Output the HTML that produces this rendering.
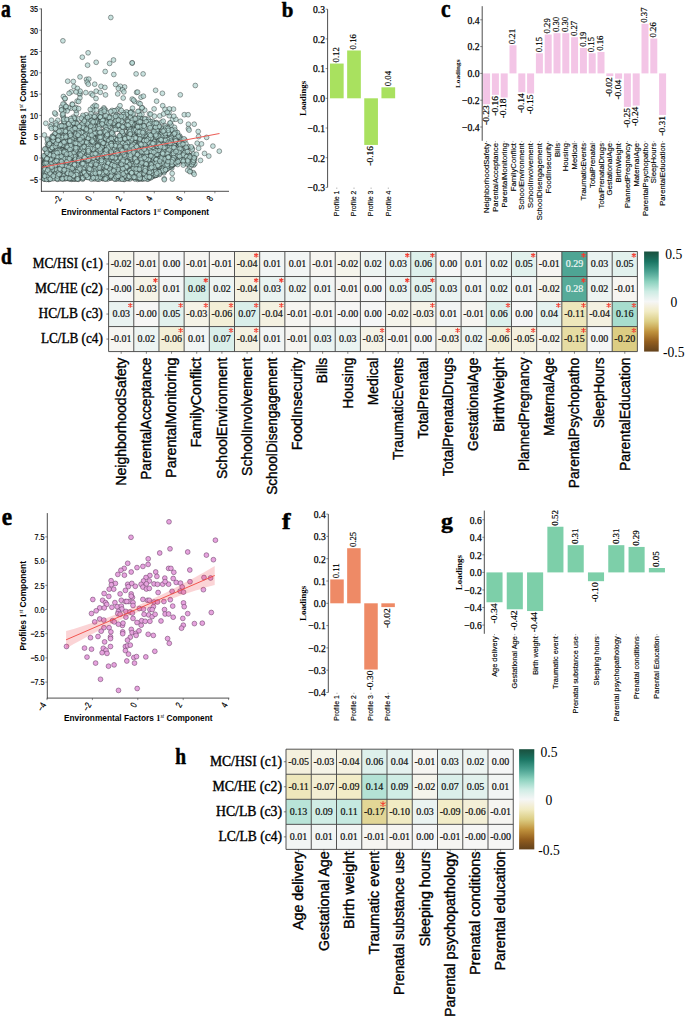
<!DOCTYPE html>
<html><head><meta charset="utf-8"><style>
html,body{margin:0;padding:0;background:#fff;}
svg{display:block;}
.S{font-family:"Liberation Serif",serif;}
.Sb{font-family:"Liberation Serif",serif;font-weight:bold;}
.A{font-family:"Liberation Sans",sans-serif;}
.Ab{font-family:"Liberation Sans",sans-serif;font-weight:bold;}
</style></head><body>
<svg width="685" height="1017" viewBox="0 0 685 1017">
<rect width="685" height="1017" fill="#fff"/>
<text class="Sb" transform="translate(0.90,16.65) scale(0.1960,0.2479)" font-size="100" stroke="#000" stroke-width="2.2">a</text>
<g fill="#b3d6d1" fill-opacity="0.72" stroke="#1e2725" stroke-opacity="0.72" stroke-width="0.6"><circle cx="152.0" cy="128.2" r="2.4"/><circle cx="155.8" cy="164.0" r="2.4"/><circle cx="99.1" cy="177.4" r="2.4"/><circle cx="60.8" cy="149.7" r="2.4"/><circle cx="89.1" cy="153.5" r="2.4"/><circle cx="87.8" cy="137.4" r="2.4"/><circle cx="77.4" cy="175.7" r="2.4"/><circle cx="92.6" cy="175.6" r="2.4"/><circle cx="109.9" cy="122.8" r="2.4"/><circle cx="148.5" cy="133.8" r="2.4"/><circle cx="79.3" cy="165.2" r="2.4"/><circle cx="188.3" cy="146.6" r="2.4"/><circle cx="156.9" cy="174.7" r="2.4"/><circle cx="145.3" cy="136.1" r="2.4"/><circle cx="113.3" cy="166.7" r="2.4"/><circle cx="128.2" cy="162.2" r="2.4"/><circle cx="143.8" cy="159.6" r="2.4"/><circle cx="90.2" cy="176.8" r="2.4"/><circle cx="153.4" cy="158.1" r="2.4"/><circle cx="88.0" cy="174.2" r="2.4"/><circle cx="163.5" cy="159.9" r="2.4"/><circle cx="110.8" cy="149.2" r="2.4"/><circle cx="120.4" cy="136.7" r="2.4"/><circle cx="172.7" cy="149.5" r="2.4"/><circle cx="73.2" cy="163.3" r="2.4"/><circle cx="168.4" cy="130.5" r="2.4"/><circle cx="180.5" cy="151.4" r="2.4"/><circle cx="117.3" cy="139.2" r="2.4"/><circle cx="63.8" cy="159.6" r="2.4"/><circle cx="85.6" cy="138.9" r="2.4"/><circle cx="152.0" cy="171.8" r="2.4"/><circle cx="169.7" cy="159.7" r="2.4"/><circle cx="161.3" cy="144.1" r="2.4"/><circle cx="90.8" cy="136.9" r="2.4"/><circle cx="171.1" cy="163.7" r="2.4"/><circle cx="136.4" cy="122.0" r="2.4"/><circle cx="93.9" cy="135.5" r="2.4"/><circle cx="132.4" cy="141.0" r="2.4"/><circle cx="47.4" cy="143.6" r="2.4"/><circle cx="71.7" cy="159.5" r="2.4"/><circle cx="47.4" cy="167.0" r="2.4"/><circle cx="73.1" cy="159.5" r="2.4"/><circle cx="90.5" cy="166.8" r="2.4"/><circle cx="98.3" cy="126.4" r="2.4"/><circle cx="60.7" cy="154.0" r="2.4"/><circle cx="105.3" cy="155.7" r="2.4"/><circle cx="75.5" cy="159.1" r="2.4"/><circle cx="74.6" cy="154.6" r="2.4"/><circle cx="118.8" cy="145.8" r="2.4"/><circle cx="111.0" cy="178.0" r="2.4"/><circle cx="107.0" cy="129.3" r="2.4"/><circle cx="193.4" cy="162.4" r="2.4"/><circle cx="109.0" cy="159.1" r="2.4"/><circle cx="95.9" cy="154.3" r="2.4"/><circle cx="63.7" cy="156.8" r="2.4"/><circle cx="66.7" cy="148.3" r="2.4"/><circle cx="125.9" cy="118.7" r="2.4"/><circle cx="121.4" cy="168.4" r="2.4"/><circle cx="92.5" cy="134.6" r="2.4"/><circle cx="66.4" cy="170.5" r="2.4"/><circle cx="66.4" cy="161.7" r="2.4"/><circle cx="117.3" cy="161.2" r="2.4"/><circle cx="76.4" cy="113.5" r="2.4"/><circle cx="98.1" cy="168.4" r="2.4"/><circle cx="116.0" cy="171.5" r="2.4"/><circle cx="162.2" cy="146.5" r="2.4"/><circle cx="133.2" cy="167.0" r="2.4"/><circle cx="92.7" cy="161.1" r="2.4"/><circle cx="87.3" cy="165.2" r="2.4"/><circle cx="66.6" cy="170.2" r="2.4"/><circle cx="90.7" cy="167.4" r="2.4"/><circle cx="89.4" cy="175.3" r="2.4"/><circle cx="88.8" cy="167.5" r="2.4"/><circle cx="129.2" cy="164.2" r="2.4"/><circle cx="177.5" cy="159.7" r="2.4"/><circle cx="77.7" cy="149.6" r="2.4"/><circle cx="172.6" cy="163.8" r="2.4"/><circle cx="86.2" cy="160.2" r="2.4"/><circle cx="80.3" cy="176.5" r="2.4"/><circle cx="52.7" cy="162.0" r="2.4"/><circle cx="66.1" cy="166.7" r="2.4"/><circle cx="105.7" cy="172.9" r="2.4"/><circle cx="59.7" cy="171.7" r="2.4"/><circle cx="173.7" cy="160.9" r="2.4"/><circle cx="134.1" cy="171.0" r="2.4"/><circle cx="113.0" cy="175.9" r="2.4"/><circle cx="84.0" cy="155.4" r="2.4"/><circle cx="130.0" cy="118.7" r="2.4"/><circle cx="71.1" cy="168.1" r="2.4"/><circle cx="83.6" cy="152.4" r="2.4"/><circle cx="58.6" cy="142.5" r="2.4"/><circle cx="94.2" cy="163.6" r="2.4"/><circle cx="46.8" cy="172.1" r="2.4"/><circle cx="132.5" cy="108.2" r="2.4"/><circle cx="169.1" cy="136.6" r="2.4"/><circle cx="111.2" cy="145.2" r="2.4"/><circle cx="76.1" cy="110.3" r="2.4"/><circle cx="162.7" cy="105.7" r="2.4"/><circle cx="85.3" cy="131.2" r="2.4"/><circle cx="98.5" cy="174.6" r="2.4"/><circle cx="140.6" cy="176.8" r="2.4"/><circle cx="156.7" cy="158.4" r="2.4"/><circle cx="143.7" cy="177.2" r="2.4"/><circle cx="47.1" cy="170.0" r="2.4"/><circle cx="120.6" cy="147.3" r="2.4"/><circle cx="133.8" cy="155.8" r="2.4"/><circle cx="146.6" cy="152.1" r="2.4"/><circle cx="101.8" cy="142.6" r="2.4"/><circle cx="160.0" cy="141.4" r="2.4"/><circle cx="155.9" cy="146.7" r="2.4"/><circle cx="116.5" cy="139.6" r="2.4"/><circle cx="123.3" cy="138.7" r="2.4"/><circle cx="140.5" cy="173.8" r="2.4"/><circle cx="116.0" cy="153.4" r="2.4"/><circle cx="138.4" cy="132.9" r="2.4"/><circle cx="55.6" cy="114.1" r="2.4"/><circle cx="58.3" cy="169.7" r="2.4"/><circle cx="130.9" cy="158.9" r="2.4"/><circle cx="189.5" cy="162.2" r="2.4"/><circle cx="138.0" cy="153.5" r="2.4"/><circle cx="129.8" cy="142.5" r="2.4"/><circle cx="139.4" cy="178.4" r="2.4"/><circle cx="120.3" cy="157.2" r="2.4"/><circle cx="93.9" cy="120.2" r="2.4"/><circle cx="54.8" cy="157.7" r="2.4"/><circle cx="170.3" cy="142.0" r="2.4"/><circle cx="174.4" cy="144.2" r="2.4"/><circle cx="128.8" cy="178.3" r="2.4"/><circle cx="61.6" cy="167.7" r="2.4"/><circle cx="152.8" cy="136.5" r="2.4"/><circle cx="162.6" cy="156.7" r="2.4"/><circle cx="130.6" cy="129.3" r="2.4"/><circle cx="77.2" cy="150.5" r="2.4"/><circle cx="113.6" cy="137.8" r="2.4"/><circle cx="134.8" cy="146.8" r="2.4"/><circle cx="138.2" cy="156.9" r="2.4"/><circle cx="151.5" cy="159.0" r="2.4"/><circle cx="146.8" cy="172.6" r="2.4"/><circle cx="138.8" cy="142.0" r="2.4"/><circle cx="135.8" cy="146.4" r="2.4"/><circle cx="77.6" cy="125.1" r="2.4"/><circle cx="96.0" cy="167.4" r="2.4"/><circle cx="133.9" cy="158.8" r="2.4"/><circle cx="117.1" cy="123.2" r="2.4"/><circle cx="135.7" cy="175.5" r="2.4"/><circle cx="152.9" cy="176.4" r="2.4"/><circle cx="44.8" cy="174.0" r="2.4"/><circle cx="142.0" cy="124.6" r="2.4"/><circle cx="97.6" cy="120.2" r="2.4"/><circle cx="93.5" cy="157.9" r="2.4"/><circle cx="66.9" cy="170.2" r="2.4"/><circle cx="129.5" cy="157.1" r="2.4"/><circle cx="45.0" cy="177.8" r="2.4"/><circle cx="62.0" cy="141.7" r="2.4"/><circle cx="174.1" cy="153.0" r="2.4"/><circle cx="108.9" cy="141.0" r="2.4"/><circle cx="106.6" cy="118.6" r="2.4"/><circle cx="74.3" cy="170.7" r="2.4"/><circle cx="139.0" cy="165.6" r="2.4"/><circle cx="115.6" cy="172.7" r="2.4"/><circle cx="82.8" cy="156.3" r="2.4"/><circle cx="153.6" cy="152.5" r="2.4"/><circle cx="62.1" cy="156.0" r="2.4"/><circle cx="110.4" cy="173.9" r="2.4"/><circle cx="60.0" cy="174.3" r="2.4"/><circle cx="153.9" cy="150.7" r="2.4"/><circle cx="69.8" cy="169.5" r="2.4"/><circle cx="156.9" cy="161.0" r="2.4"/><circle cx="72.9" cy="160.2" r="2.4"/><circle cx="97.9" cy="123.1" r="2.4"/><circle cx="75.1" cy="171.6" r="2.4"/><circle cx="52.9" cy="158.2" r="2.4"/><circle cx="116.3" cy="154.6" r="2.4"/><circle cx="63.2" cy="177.7" r="2.4"/><circle cx="107.9" cy="142.3" r="2.4"/><circle cx="122.4" cy="156.1" r="2.4"/><circle cx="146.2" cy="178.1" r="2.4"/><circle cx="53.2" cy="160.4" r="2.4"/><circle cx="130.4" cy="123.8" r="2.4"/><circle cx="54.8" cy="168.1" r="2.4"/><circle cx="47.3" cy="138.8" r="2.4"/><circle cx="154.1" cy="169.8" r="2.4"/><circle cx="74.1" cy="171.8" r="2.4"/><circle cx="106.8" cy="131.1" r="2.4"/><circle cx="79.0" cy="168.4" r="2.4"/><circle cx="146.4" cy="138.6" r="2.4"/><circle cx="74.7" cy="160.2" r="2.4"/><circle cx="57.3" cy="163.9" r="2.4"/><circle cx="51.6" cy="175.1" r="2.4"/><circle cx="116.7" cy="114.6" r="2.4"/><circle cx="137.5" cy="137.2" r="2.4"/><circle cx="54.4" cy="157.1" r="2.4"/><circle cx="66.3" cy="170.7" r="2.4"/><circle cx="136.3" cy="149.4" r="2.4"/><circle cx="140.9" cy="168.3" r="2.4"/><circle cx="106.8" cy="165.4" r="2.4"/><circle cx="139.1" cy="162.8" r="2.4"/><circle cx="133.7" cy="154.3" r="2.4"/><circle cx="60.1" cy="177.0" r="2.4"/><circle cx="151.9" cy="138.7" r="2.4"/><circle cx="133.0" cy="167.4" r="2.4"/><circle cx="129.4" cy="175.4" r="2.4"/><circle cx="142.2" cy="128.3" r="2.4"/><circle cx="165.5" cy="129.5" r="2.4"/><circle cx="53.2" cy="151.0" r="2.4"/><circle cx="176.7" cy="154.9" r="2.4"/><circle cx="160.0" cy="161.4" r="2.4"/><circle cx="106.4" cy="131.4" r="2.4"/><circle cx="105.9" cy="177.3" r="2.4"/><circle cx="44.0" cy="163.5" r="2.4"/><circle cx="65.6" cy="140.6" r="2.4"/><circle cx="127.3" cy="153.7" r="2.4"/><circle cx="131.9" cy="112.0" r="2.4"/><circle cx="77.2" cy="133.2" r="2.4"/><circle cx="116.1" cy="172.3" r="2.4"/><circle cx="163.3" cy="144.3" r="2.4"/><circle cx="126.5" cy="147.3" r="2.4"/><circle cx="50.7" cy="168.7" r="2.4"/><circle cx="124.2" cy="127.1" r="2.4"/><circle cx="120.8" cy="138.5" r="2.4"/><circle cx="128.9" cy="152.5" r="2.4"/><circle cx="187.1" cy="154.4" r="2.4"/><circle cx="71.6" cy="145.5" r="2.4"/><circle cx="186.9" cy="148.2" r="2.4"/><circle cx="74.2" cy="162.4" r="2.4"/><circle cx="105.5" cy="137.5" r="2.4"/><circle cx="111.3" cy="164.2" r="2.4"/><circle cx="105.5" cy="172.0" r="2.4"/><circle cx="116.8" cy="151.5" r="2.4"/><circle cx="91.6" cy="120.4" r="2.4"/><circle cx="69.8" cy="157.9" r="2.4"/><circle cx="132.9" cy="158.4" r="2.4"/><circle cx="51.4" cy="125.0" r="2.4"/><circle cx="74.1" cy="129.1" r="2.4"/><circle cx="106.5" cy="153.4" r="2.4"/><circle cx="96.4" cy="173.5" r="2.4"/><circle cx="125.0" cy="171.6" r="2.4"/><circle cx="92.9" cy="107.0" r="2.4"/><circle cx="155.4" cy="174.0" r="2.4"/><circle cx="75.6" cy="156.7" r="2.4"/><circle cx="78.4" cy="179.3" r="2.4"/><circle cx="96.1" cy="167.3" r="2.4"/><circle cx="127.8" cy="154.0" r="2.4"/><circle cx="123.6" cy="141.2" r="2.4"/><circle cx="182.5" cy="157.4" r="2.4"/><circle cx="159.4" cy="167.2" r="2.4"/><circle cx="135.7" cy="154.6" r="2.4"/><circle cx="108.5" cy="122.1" r="2.4"/><circle cx="119.1" cy="140.8" r="2.4"/><circle cx="106.8" cy="119.6" r="2.4"/><circle cx="108.1" cy="133.3" r="2.4"/><circle cx="64.9" cy="131.9" r="2.4"/><circle cx="44.4" cy="163.3" r="2.4"/><circle cx="191.5" cy="162.3" r="2.4"/><circle cx="64.0" cy="151.6" r="2.4"/><circle cx="152.6" cy="121.4" r="2.4"/><circle cx="98.1" cy="149.1" r="2.4"/><circle cx="75.6" cy="165.4" r="2.4"/><circle cx="110.3" cy="157.1" r="2.4"/><circle cx="92.8" cy="128.4" r="2.4"/><circle cx="58.3" cy="164.2" r="2.4"/><circle cx="169.0" cy="165.9" r="2.4"/><circle cx="119.0" cy="174.8" r="2.4"/><circle cx="82.7" cy="156.1" r="2.4"/><circle cx="160.2" cy="168.5" r="2.4"/><circle cx="96.1" cy="134.8" r="2.4"/><circle cx="96.2" cy="164.8" r="2.4"/><circle cx="118.7" cy="144.0" r="2.4"/><circle cx="163.9" cy="169.8" r="2.4"/><circle cx="184.2" cy="159.2" r="2.4"/><circle cx="70.4" cy="137.8" r="2.4"/><circle cx="66.1" cy="125.3" r="2.4"/><circle cx="50.5" cy="170.1" r="2.4"/><circle cx="135.5" cy="129.4" r="2.4"/><circle cx="140.2" cy="140.3" r="2.4"/><circle cx="88.1" cy="117.6" r="2.4"/><circle cx="162.7" cy="138.3" r="2.4"/><circle cx="70.4" cy="159.9" r="2.4"/><circle cx="101.3" cy="159.1" r="2.4"/><circle cx="63.5" cy="177.9" r="2.4"/><circle cx="105.4" cy="167.9" r="2.4"/><circle cx="130.8" cy="156.7" r="2.4"/><circle cx="98.5" cy="174.8" r="2.4"/><circle cx="129.5" cy="175.5" r="2.4"/><circle cx="153.5" cy="175.9" r="2.4"/><circle cx="123.9" cy="176.9" r="2.4"/><circle cx="87.8" cy="158.1" r="2.4"/><circle cx="157.2" cy="158.7" r="2.4"/><circle cx="51.8" cy="171.8" r="2.4"/><circle cx="110.9" cy="169.1" r="2.4"/><circle cx="134.3" cy="159.6" r="2.4"/><circle cx="57.6" cy="153.0" r="2.4"/><circle cx="50.6" cy="170.7" r="2.4"/><circle cx="109.2" cy="172.6" r="2.4"/><circle cx="177.4" cy="144.6" r="2.4"/><circle cx="68.5" cy="136.5" r="2.4"/><circle cx="113.5" cy="174.3" r="2.4"/><circle cx="60.9" cy="153.2" r="2.4"/><circle cx="97.1" cy="165.8" r="2.4"/><circle cx="45.0" cy="149.2" r="2.4"/><circle cx="68.4" cy="156.5" r="2.4"/><circle cx="137.3" cy="121.2" r="2.4"/><circle cx="67.1" cy="141.0" r="2.4"/><circle cx="98.1" cy="123.7" r="2.4"/><circle cx="58.1" cy="136.3" r="2.4"/><circle cx="112.6" cy="135.2" r="2.4"/><circle cx="96.6" cy="152.7" r="2.4"/><circle cx="60.0" cy="161.8" r="2.4"/><circle cx="85.2" cy="160.6" r="2.4"/><circle cx="44.9" cy="166.3" r="2.4"/><circle cx="166.4" cy="143.3" r="2.4"/><circle cx="126.3" cy="127.3" r="2.4"/><circle cx="115.0" cy="126.7" r="2.4"/><circle cx="80.9" cy="145.2" r="2.4"/><circle cx="130.6" cy="149.7" r="2.4"/><circle cx="133.8" cy="149.0" r="2.4"/><circle cx="87.7" cy="162.2" r="2.4"/><circle cx="103.4" cy="163.1" r="2.4"/><circle cx="69.6" cy="128.7" r="2.4"/><circle cx="143.5" cy="138.6" r="2.4"/><circle cx="53.9" cy="172.7" r="2.4"/><circle cx="62.3" cy="156.1" r="2.4"/><circle cx="156.1" cy="174.8" r="2.4"/><circle cx="131.4" cy="177.6" r="2.4"/><circle cx="163.5" cy="169.7" r="2.4"/><circle cx="109.0" cy="160.3" r="2.4"/><circle cx="113.2" cy="175.4" r="2.4"/><circle cx="60.5" cy="177.6" r="2.4"/><circle cx="58.1" cy="176.3" r="2.4"/><circle cx="75.9" cy="177.6" r="2.4"/><circle cx="134.6" cy="148.5" r="2.4"/><circle cx="174.3" cy="159.9" r="2.4"/><circle cx="168.3" cy="156.4" r="2.4"/><circle cx="94.7" cy="169.5" r="2.4"/><circle cx="81.9" cy="158.4" r="2.4"/><circle cx="47.2" cy="162.1" r="2.4"/><circle cx="137.9" cy="173.7" r="2.4"/><circle cx="88.1" cy="143.9" r="2.4"/><circle cx="105.1" cy="147.9" r="2.4"/><circle cx="140.8" cy="168.1" r="2.4"/><circle cx="109.3" cy="117.1" r="2.4"/><circle cx="74.6" cy="149.9" r="2.4"/><circle cx="155.2" cy="174.9" r="2.4"/><circle cx="177.6" cy="160.4" r="2.4"/><circle cx="110.4" cy="150.3" r="2.4"/><circle cx="77.1" cy="101.1" r="2.4"/><circle cx="155.0" cy="169.6" r="2.4"/><circle cx="159.7" cy="171.2" r="2.4"/><circle cx="79.0" cy="125.7" r="2.4"/><circle cx="84.2" cy="172.4" r="2.4"/><circle cx="135.2" cy="174.9" r="2.4"/><circle cx="109.3" cy="155.7" r="2.4"/><circle cx="107.0" cy="161.2" r="2.4"/><circle cx="57.6" cy="157.3" r="2.4"/><circle cx="77.6" cy="162.6" r="2.4"/><circle cx="137.1" cy="165.3" r="2.4"/><circle cx="81.4" cy="173.2" r="2.4"/><circle cx="86.3" cy="173.5" r="2.4"/><circle cx="46.2" cy="164.0" r="2.4"/><circle cx="126.3" cy="170.5" r="2.4"/><circle cx="105.3" cy="152.3" r="2.4"/><circle cx="58.9" cy="154.9" r="2.4"/><circle cx="64.0" cy="159.8" r="2.4"/><circle cx="105.5" cy="166.6" r="2.4"/><circle cx="175.9" cy="149.3" r="2.4"/><circle cx="172.1" cy="135.0" r="2.4"/><circle cx="134.7" cy="152.4" r="2.4"/><circle cx="169.7" cy="161.8" r="2.4"/><circle cx="151.3" cy="159.1" r="2.4"/><circle cx="179.8" cy="145.9" r="2.4"/><circle cx="92.5" cy="121.4" r="2.4"/><circle cx="109.2" cy="169.7" r="2.4"/><circle cx="126.9" cy="169.4" r="2.4"/><circle cx="86.4" cy="165.4" r="2.4"/><circle cx="116.9" cy="141.1" r="2.4"/><circle cx="122.1" cy="177.0" r="2.4"/><circle cx="106.1" cy="157.1" r="2.4"/><circle cx="83.4" cy="169.5" r="2.4"/><circle cx="113.7" cy="138.1" r="2.4"/><circle cx="91.7" cy="176.2" r="2.4"/><circle cx="76.9" cy="174.9" r="2.4"/><circle cx="112.9" cy="165.7" r="2.4"/><circle cx="87.7" cy="156.2" r="2.4"/><circle cx="152.6" cy="150.3" r="2.4"/><circle cx="52.2" cy="149.0" r="2.4"/><circle cx="118.4" cy="165.7" r="2.4"/><circle cx="54.8" cy="158.3" r="2.4"/><circle cx="110.1" cy="178.2" r="2.4"/><circle cx="117.2" cy="160.7" r="2.4"/><circle cx="55.3" cy="133.4" r="2.4"/><circle cx="156.5" cy="122.5" r="2.4"/><circle cx="154.6" cy="160.4" r="2.4"/><circle cx="158.7" cy="161.2" r="2.4"/><circle cx="58.6" cy="135.0" r="2.4"/><circle cx="176.5" cy="141.3" r="2.4"/><circle cx="141.4" cy="118.5" r="2.4"/><circle cx="47.3" cy="147.7" r="2.4"/><circle cx="126.8" cy="168.1" r="2.4"/><circle cx="107.7" cy="179.1" r="2.4"/><circle cx="178.3" cy="158.5" r="2.4"/><circle cx="79.1" cy="174.7" r="2.4"/><circle cx="141.6" cy="132.6" r="2.4"/><circle cx="164.0" cy="168.8" r="2.4"/><circle cx="57.8" cy="154.1" r="2.4"/><circle cx="49.1" cy="160.3" r="2.4"/><circle cx="130.1" cy="152.3" r="2.4"/><circle cx="134.2" cy="123.9" r="2.4"/><circle cx="105.4" cy="178.5" r="2.4"/><circle cx="110.1" cy="177.4" r="2.4"/><circle cx="89.9" cy="174.2" r="2.4"/><circle cx="58.4" cy="136.2" r="2.4"/><circle cx="161.8" cy="163.4" r="2.4"/><circle cx="102.1" cy="121.7" r="2.4"/><circle cx="119.2" cy="142.8" r="2.4"/><circle cx="146.6" cy="175.9" r="2.4"/><circle cx="77.1" cy="166.2" r="2.4"/><circle cx="127.7" cy="168.3" r="2.4"/><circle cx="141.9" cy="178.6" r="2.4"/><circle cx="101.3" cy="176.1" r="2.4"/><circle cx="170.1" cy="144.5" r="2.4"/><circle cx="97.3" cy="139.1" r="2.4"/><circle cx="150.8" cy="135.0" r="2.4"/><circle cx="82.6" cy="179.2" r="2.4"/><circle cx="113.5" cy="163.8" r="2.4"/><circle cx="88.0" cy="145.3" r="2.4"/><circle cx="56.2" cy="152.9" r="2.4"/><circle cx="60.9" cy="174.7" r="2.4"/><circle cx="121.0" cy="150.6" r="2.4"/><circle cx="159.2" cy="146.2" r="2.4"/><circle cx="139.8" cy="174.8" r="2.4"/><circle cx="136.6" cy="92.4" r="2.4"/><circle cx="48.3" cy="171.8" r="2.4"/><circle cx="75.1" cy="126.8" r="2.4"/><circle cx="154.9" cy="167.4" r="2.4"/><circle cx="140.9" cy="159.3" r="2.4"/><circle cx="142.0" cy="178.9" r="2.4"/><circle cx="121.1" cy="144.1" r="2.4"/><circle cx="81.2" cy="147.3" r="2.4"/><circle cx="166.6" cy="169.4" r="2.4"/><circle cx="67.5" cy="138.3" r="2.4"/><circle cx="162.7" cy="170.4" r="2.4"/><circle cx="170.9" cy="162.8" r="2.4"/><circle cx="85.0" cy="149.6" r="2.4"/><circle cx="121.2" cy="178.7" r="2.4"/><circle cx="156.7" cy="144.1" r="2.4"/><circle cx="176.4" cy="132.3" r="2.4"/><circle cx="82.2" cy="173.0" r="2.4"/><circle cx="160.0" cy="127.8" r="2.4"/><circle cx="95.3" cy="169.8" r="2.4"/><circle cx="94.2" cy="158.4" r="2.4"/><circle cx="95.4" cy="174.1" r="2.4"/><circle cx="148.7" cy="174.2" r="2.4"/><circle cx="187.6" cy="155.3" r="2.4"/><circle cx="147.3" cy="177.5" r="2.4"/><circle cx="149.1" cy="177.5" r="2.4"/><circle cx="128.7" cy="130.9" r="2.4"/><circle cx="80.7" cy="130.1" r="2.4"/><circle cx="165.5" cy="140.4" r="2.4"/><circle cx="119.8" cy="173.1" r="2.4"/><circle cx="179.2" cy="153.8" r="2.4"/><circle cx="154.1" cy="171.1" r="2.4"/><circle cx="156.0" cy="164.2" r="2.4"/><circle cx="144.7" cy="172.0" r="2.4"/><circle cx="168.6" cy="166.3" r="2.4"/><circle cx="142.2" cy="150.3" r="2.4"/><circle cx="104.2" cy="144.1" r="2.4"/><circle cx="45.9" cy="161.5" r="2.4"/><circle cx="108.3" cy="177.2" r="2.4"/><circle cx="121.9" cy="165.9" r="2.4"/><circle cx="103.9" cy="169.4" r="2.4"/><circle cx="112.0" cy="154.1" r="2.4"/><circle cx="90.1" cy="163.7" r="2.4"/><circle cx="153.1" cy="168.7" r="2.4"/><circle cx="152.4" cy="166.6" r="2.4"/><circle cx="114.2" cy="117.1" r="2.4"/><circle cx="74.9" cy="128.0" r="2.4"/><circle cx="108.7" cy="160.3" r="2.4"/><circle cx="86.6" cy="171.9" r="2.4"/><circle cx="83.8" cy="152.6" r="2.4"/><circle cx="90.0" cy="149.0" r="2.4"/><circle cx="53.2" cy="145.2" r="2.4"/><circle cx="88.7" cy="146.3" r="2.4"/><circle cx="155.5" cy="129.3" r="2.4"/><circle cx="190.5" cy="161.2" r="2.4"/><circle cx="139.3" cy="176.8" r="2.4"/><circle cx="131.6" cy="161.0" r="2.4"/><circle cx="148.3" cy="165.4" r="2.4"/><circle cx="143.9" cy="176.9" r="2.4"/><circle cx="153.1" cy="167.2" r="2.4"/><circle cx="166.6" cy="132.7" r="2.4"/><circle cx="120.0" cy="171.1" r="2.4"/><circle cx="76.7" cy="173.3" r="2.4"/><circle cx="59.0" cy="163.8" r="2.4"/><circle cx="142.1" cy="154.2" r="2.4"/><circle cx="169.2" cy="115.7" r="2.4"/><circle cx="93.1" cy="162.6" r="2.4"/><circle cx="80.8" cy="149.3" r="2.4"/><circle cx="93.2" cy="144.4" r="2.4"/><circle cx="86.8" cy="165.3" r="2.4"/><circle cx="138.6" cy="162.5" r="2.4"/><circle cx="57.5" cy="148.6" r="2.4"/><circle cx="49.5" cy="146.6" r="2.4"/><circle cx="116.8" cy="140.9" r="2.4"/><circle cx="129.8" cy="179.0" r="2.4"/><circle cx="72.4" cy="132.7" r="2.4"/><circle cx="150.4" cy="149.0" r="2.4"/><circle cx="188.6" cy="161.4" r="2.4"/><circle cx="127.5" cy="156.5" r="2.4"/><circle cx="50.2" cy="162.0" r="2.4"/><circle cx="130.2" cy="128.3" r="2.4"/><circle cx="125.2" cy="174.5" r="2.4"/><circle cx="163.6" cy="167.7" r="2.4"/><circle cx="118.1" cy="144.0" r="2.4"/><circle cx="84.0" cy="136.5" r="2.4"/><circle cx="145.8" cy="118.7" r="2.4"/><circle cx="172.5" cy="140.9" r="2.4"/><circle cx="75.1" cy="121.6" r="2.4"/><circle cx="70.3" cy="178.8" r="2.4"/><circle cx="65.1" cy="178.9" r="2.4"/><circle cx="61.7" cy="136.2" r="2.4"/><circle cx="62.3" cy="148.8" r="2.4"/><circle cx="66.4" cy="156.4" r="2.4"/><circle cx="112.5" cy="165.8" r="2.4"/><circle cx="50.4" cy="140.4" r="2.4"/><circle cx="130.5" cy="154.2" r="2.4"/><circle cx="72.9" cy="145.9" r="2.4"/><circle cx="76.5" cy="171.6" r="2.4"/><circle cx="158.5" cy="136.1" r="2.4"/><circle cx="120.3" cy="172.0" r="2.4"/><circle cx="71.4" cy="157.9" r="2.4"/><circle cx="94.5" cy="167.9" r="2.4"/><circle cx="102.6" cy="172.8" r="2.4"/><circle cx="134.9" cy="155.6" r="2.4"/><circle cx="119.1" cy="177.7" r="2.4"/><circle cx="120.9" cy="162.0" r="2.4"/><circle cx="148.5" cy="119.4" r="2.4"/><circle cx="93.9" cy="124.3" r="2.4"/><circle cx="66.6" cy="177.7" r="2.4"/><circle cx="107.3" cy="171.4" r="2.4"/><circle cx="125.4" cy="152.1" r="2.4"/><circle cx="139.1" cy="167.8" r="2.4"/><circle cx="90.5" cy="160.5" r="2.4"/><circle cx="106.0" cy="159.2" r="2.4"/><circle cx="57.2" cy="142.7" r="2.4"/><circle cx="159.5" cy="169.2" r="2.4"/><circle cx="137.6" cy="119.2" r="2.4"/><circle cx="98.4" cy="140.7" r="2.4"/><circle cx="75.1" cy="179.0" r="2.4"/><circle cx="52.7" cy="167.6" r="2.4"/><circle cx="97.6" cy="124.6" r="2.4"/><circle cx="141.2" cy="176.8" r="2.4"/><circle cx="154.3" cy="141.3" r="2.4"/><circle cx="44.5" cy="161.0" r="2.4"/><circle cx="85.8" cy="146.9" r="2.4"/><circle cx="65.4" cy="134.2" r="2.4"/><circle cx="87.9" cy="130.4" r="2.4"/><circle cx="108.3" cy="125.7" r="2.4"/><circle cx="141.8" cy="151.3" r="2.4"/><circle cx="85.0" cy="159.3" r="2.4"/><circle cx="48.3" cy="175.6" r="2.4"/><circle cx="139.8" cy="166.9" r="2.4"/><circle cx="62.9" cy="130.9" r="2.4"/><circle cx="84.6" cy="154.7" r="2.4"/><circle cx="170.1" cy="123.4" r="2.4"/><circle cx="178.8" cy="146.6" r="2.4"/><circle cx="164.3" cy="161.1" r="2.4"/><circle cx="94.2" cy="138.8" r="2.4"/><circle cx="176.0" cy="152.1" r="2.4"/><circle cx="172.6" cy="137.0" r="2.4"/><circle cx="44.5" cy="176.7" r="2.4"/><circle cx="185.0" cy="154.0" r="2.4"/><circle cx="148.5" cy="173.8" r="2.4"/><circle cx="100.5" cy="162.6" r="2.4"/><circle cx="50.6" cy="160.8" r="2.4"/><circle cx="120.6" cy="134.8" r="2.4"/><circle cx="58.1" cy="166.5" r="2.4"/><circle cx="116.5" cy="151.6" r="2.4"/><circle cx="175.4" cy="150.8" r="2.4"/><circle cx="98.3" cy="137.6" r="2.4"/><circle cx="137.3" cy="140.3" r="2.4"/><circle cx="113.4" cy="169.9" r="2.4"/><circle cx="131.3" cy="140.4" r="2.4"/><circle cx="68.9" cy="174.4" r="2.4"/><circle cx="70.9" cy="167.7" r="2.4"/><circle cx="87.1" cy="172.5" r="2.4"/><circle cx="68.4" cy="158.6" r="2.4"/><circle cx="132.5" cy="162.3" r="2.4"/><circle cx="181.4" cy="143.6" r="2.4"/><circle cx="62.9" cy="178.9" r="2.4"/><circle cx="127.6" cy="122.4" r="2.4"/><circle cx="126.1" cy="145.5" r="2.4"/><circle cx="89.6" cy="158.9" r="2.4"/><circle cx="146.6" cy="166.6" r="2.4"/><circle cx="89.0" cy="161.6" r="2.4"/><circle cx="164.3" cy="159.8" r="2.4"/><circle cx="46.9" cy="168.9" r="2.4"/><circle cx="105.5" cy="178.1" r="2.4"/><circle cx="135.0" cy="130.1" r="2.4"/><circle cx="52.0" cy="164.5" r="2.4"/><circle cx="44.7" cy="178.7" r="2.4"/><circle cx="75.2" cy="172.5" r="2.4"/><circle cx="119.2" cy="118.9" r="2.4"/><circle cx="121.5" cy="139.6" r="2.4"/><circle cx="87.3" cy="176.0" r="2.4"/><circle cx="143.7" cy="169.3" r="2.4"/><circle cx="155.0" cy="123.2" r="2.4"/><circle cx="75.7" cy="172.3" r="2.4"/><circle cx="86.5" cy="172.5" r="2.4"/><circle cx="59.9" cy="163.3" r="2.4"/><circle cx="121.4" cy="170.8" r="2.4"/><circle cx="149.6" cy="176.0" r="2.4"/><circle cx="116.8" cy="173.4" r="2.4"/><circle cx="194.7" cy="157.4" r="2.4"/><circle cx="128.0" cy="153.0" r="2.4"/><circle cx="115.2" cy="159.7" r="2.4"/><circle cx="137.0" cy="171.6" r="2.4"/><circle cx="119.4" cy="160.0" r="2.4"/><circle cx="141.0" cy="158.6" r="2.4"/><circle cx="72.5" cy="168.7" r="2.4"/><circle cx="58.4" cy="164.5" r="2.4"/><circle cx="67.9" cy="148.4" r="2.4"/><circle cx="112.1" cy="156.0" r="2.4"/><circle cx="115.0" cy="150.9" r="2.4"/><circle cx="89.2" cy="160.0" r="2.4"/><circle cx="98.2" cy="177.9" r="2.4"/><circle cx="63.4" cy="96.5" r="2.4"/><circle cx="80.6" cy="177.2" r="2.4"/><circle cx="163.9" cy="170.8" r="2.4"/><circle cx="158.0" cy="157.1" r="2.4"/><circle cx="155.9" cy="157.3" r="2.4"/><circle cx="76.0" cy="171.6" r="2.4"/><circle cx="88.7" cy="159.8" r="2.4"/><circle cx="52.5" cy="174.9" r="2.4"/><circle cx="133.3" cy="164.8" r="2.4"/><circle cx="93.2" cy="110.5" r="2.4"/><circle cx="154.5" cy="131.7" r="2.4"/><circle cx="51.0" cy="172.9" r="2.4"/><circle cx="90.8" cy="175.0" r="2.4"/><circle cx="45.7" cy="163.2" r="2.4"/><circle cx="152.6" cy="140.7" r="2.4"/><circle cx="138.2" cy="163.9" r="2.4"/><circle cx="141.0" cy="118.1" r="2.4"/><circle cx="120.5" cy="141.0" r="2.4"/><circle cx="162.8" cy="128.1" r="2.4"/><circle cx="132.3" cy="124.7" r="2.4"/><circle cx="82.9" cy="123.0" r="2.4"/><circle cx="71.3" cy="167.2" r="2.4"/><circle cx="142.9" cy="146.8" r="2.4"/><circle cx="127.2" cy="137.3" r="2.4"/><circle cx="83.5" cy="128.1" r="2.4"/><circle cx="64.0" cy="176.5" r="2.4"/><circle cx="103.9" cy="107.9" r="2.4"/><circle cx="124.1" cy="179.4" r="2.4"/><circle cx="86.5" cy="152.8" r="2.4"/><circle cx="92.3" cy="175.2" r="2.4"/><circle cx="85.8" cy="151.4" r="2.4"/><circle cx="117.1" cy="146.9" r="2.4"/><circle cx="92.3" cy="136.3" r="2.4"/><circle cx="130.3" cy="139.1" r="2.4"/><circle cx="122.2" cy="143.3" r="2.4"/><circle cx="85.7" cy="124.6" r="2.4"/><circle cx="98.4" cy="147.3" r="2.4"/><circle cx="144.2" cy="161.9" r="2.4"/><circle cx="166.8" cy="164.8" r="2.4"/><circle cx="112.0" cy="159.2" r="2.4"/><circle cx="180.3" cy="142.9" r="2.4"/><circle cx="139.9" cy="128.4" r="2.4"/><circle cx="140.2" cy="147.0" r="2.4"/><circle cx="119.6" cy="155.2" r="2.4"/><circle cx="46.1" cy="178.0" r="2.4"/><circle cx="126.3" cy="131.8" r="2.4"/><circle cx="138.6" cy="145.0" r="2.4"/><circle cx="46.8" cy="158.0" r="2.4"/><circle cx="72.6" cy="138.1" r="2.4"/><circle cx="154.5" cy="133.0" r="2.4"/><circle cx="128.1" cy="147.0" r="2.4"/><circle cx="67.3" cy="175.0" r="2.4"/><circle cx="104.8" cy="118.4" r="2.4"/><circle cx="146.2" cy="145.7" r="2.4"/><circle cx="57.7" cy="160.3" r="2.4"/><circle cx="96.4" cy="120.9" r="2.4"/><circle cx="66.9" cy="165.0" r="2.4"/><circle cx="182.8" cy="148.2" r="2.4"/><circle cx="151.0" cy="174.6" r="2.4"/><circle cx="168.0" cy="139.8" r="2.4"/><circle cx="45.0" cy="161.6" r="2.4"/><circle cx="171.4" cy="148.5" r="2.4"/><circle cx="93.4" cy="148.6" r="2.4"/><circle cx="70.8" cy="108.2" r="2.4"/><circle cx="146.3" cy="167.6" r="2.4"/><circle cx="165.6" cy="126.6" r="2.4"/><circle cx="79.7" cy="139.6" r="2.4"/><circle cx="95.7" cy="149.0" r="2.4"/><circle cx="104.5" cy="155.5" r="2.4"/><circle cx="134.3" cy="128.4" r="2.4"/><circle cx="156.9" cy="156.8" r="2.4"/><circle cx="59.8" cy="165.7" r="2.4"/><circle cx="134.5" cy="175.6" r="2.4"/><circle cx="85.4" cy="169.7" r="2.4"/><circle cx="191.5" cy="155.3" r="2.4"/><circle cx="122.0" cy="164.3" r="2.4"/><circle cx="163.2" cy="164.6" r="2.4"/><circle cx="89.6" cy="124.7" r="2.4"/><circle cx="159.2" cy="142.9" r="2.4"/><circle cx="157.5" cy="166.0" r="2.4"/><circle cx="54.6" cy="167.5" r="2.4"/><circle cx="136.5" cy="147.7" r="2.4"/><circle cx="107.1" cy="169.9" r="2.4"/><circle cx="65.0" cy="142.1" r="2.4"/><circle cx="128.8" cy="168.6" r="2.4"/><circle cx="67.3" cy="176.2" r="2.4"/><circle cx="65.7" cy="160.7" r="2.4"/><circle cx="75.4" cy="120.1" r="2.4"/><circle cx="80.0" cy="166.8" r="2.4"/><circle cx="90.9" cy="167.3" r="2.4"/><circle cx="133.1" cy="153.8" r="2.4"/><circle cx="93.5" cy="148.7" r="2.4"/><circle cx="128.3" cy="164.9" r="2.4"/><circle cx="82.7" cy="161.3" r="2.4"/><circle cx="106.5" cy="157.0" r="2.4"/><circle cx="152.8" cy="135.3" r="2.4"/><circle cx="68.9" cy="131.0" r="2.4"/><circle cx="48.9" cy="150.4" r="2.4"/><circle cx="118.2" cy="178.5" r="2.4"/><circle cx="139.1" cy="173.5" r="2.4"/><circle cx="193.6" cy="165.2" r="2.4"/><circle cx="58.6" cy="170.5" r="2.4"/><circle cx="150.1" cy="160.6" r="2.4"/><circle cx="85.9" cy="161.7" r="2.4"/><circle cx="128.0" cy="178.5" r="2.4"/><circle cx="164.1" cy="161.7" r="2.4"/><circle cx="121.3" cy="151.5" r="2.4"/><circle cx="98.3" cy="167.1" r="2.4"/><circle cx="61.4" cy="161.0" r="2.4"/><circle cx="110.5" cy="169.9" r="2.4"/><circle cx="117.8" cy="175.2" r="2.4"/><circle cx="61.5" cy="148.8" r="2.4"/><circle cx="51.5" cy="165.1" r="2.4"/><circle cx="65.2" cy="173.9" r="2.4"/><circle cx="69.4" cy="177.2" r="2.4"/><circle cx="127.5" cy="170.2" r="2.4"/><circle cx="60.5" cy="161.8" r="2.4"/><circle cx="150.7" cy="157.8" r="2.4"/><circle cx="175.9" cy="162.5" r="2.4"/><circle cx="55.3" cy="139.2" r="2.4"/><circle cx="107.0" cy="127.8" r="2.4"/><circle cx="55.5" cy="155.1" r="2.4"/><circle cx="135.9" cy="152.1" r="2.4"/><circle cx="151.0" cy="141.1" r="2.4"/><circle cx="148.8" cy="177.8" r="2.4"/><circle cx="159.1" cy="127.3" r="2.4"/><circle cx="163.0" cy="161.4" r="2.4"/><circle cx="178.8" cy="142.4" r="2.4"/><circle cx="50.8" cy="175.8" r="2.4"/><circle cx="99.1" cy="170.3" r="2.4"/><circle cx="147.4" cy="154.4" r="2.4"/><circle cx="98.8" cy="156.5" r="2.4"/><circle cx="52.0" cy="159.7" r="2.4"/><circle cx="77.3" cy="164.0" r="2.4"/><circle cx="112.9" cy="142.9" r="2.4"/><circle cx="154.0" cy="168.0" r="2.4"/><circle cx="133.5" cy="135.1" r="2.4"/><circle cx="52.2" cy="164.7" r="2.4"/><circle cx="187.8" cy="157.6" r="2.4"/><circle cx="84.9" cy="130.6" r="2.4"/><circle cx="114.4" cy="149.8" r="2.4"/><circle cx="49.2" cy="142.0" r="2.4"/><circle cx="107.0" cy="166.2" r="2.4"/><circle cx="119.8" cy="179.0" r="2.4"/><circle cx="91.1" cy="151.5" r="2.4"/><circle cx="51.0" cy="177.8" r="2.4"/><circle cx="158.4" cy="149.7" r="2.4"/><circle cx="163.9" cy="172.8" r="2.4"/><circle cx="117.9" cy="157.6" r="2.4"/><circle cx="67.0" cy="175.8" r="2.4"/><circle cx="69.0" cy="158.9" r="2.4"/><circle cx="58.5" cy="162.9" r="2.4"/><circle cx="154.3" cy="162.7" r="2.4"/><circle cx="81.6" cy="159.6" r="2.4"/><circle cx="173.5" cy="109.1" r="2.4"/><circle cx="113.3" cy="177.2" r="2.4"/><circle cx="145.8" cy="130.3" r="2.4"/><circle cx="54.0" cy="156.6" r="2.4"/><circle cx="49.1" cy="173.7" r="2.4"/><circle cx="129.1" cy="158.8" r="2.4"/><circle cx="51.8" cy="168.4" r="2.4"/><circle cx="73.2" cy="157.8" r="2.4"/><circle cx="83.9" cy="168.6" r="2.4"/><circle cx="131.2" cy="161.7" r="2.4"/><circle cx="60.2" cy="137.4" r="2.4"/><circle cx="74.6" cy="125.0" r="2.4"/><circle cx="103.7" cy="151.3" r="2.4"/><circle cx="152.2" cy="169.0" r="2.4"/><circle cx="143.7" cy="138.4" r="2.4"/><circle cx="57.5" cy="166.1" r="2.4"/><circle cx="169.2" cy="154.4" r="2.4"/><circle cx="126.7" cy="178.3" r="2.4"/><circle cx="118.8" cy="169.8" r="2.4"/><circle cx="127.4" cy="157.9" r="2.4"/><circle cx="140.2" cy="156.5" r="2.4"/><circle cx="137.2" cy="157.0" r="2.4"/><circle cx="172.9" cy="154.9" r="2.4"/><circle cx="147.6" cy="149.4" r="2.4"/><circle cx="115.1" cy="170.3" r="2.4"/><circle cx="117.5" cy="129.1" r="2.4"/><circle cx="82.6" cy="127.0" r="2.4"/><circle cx="142.9" cy="156.4" r="2.4"/><circle cx="85.2" cy="158.8" r="2.4"/><circle cx="139.5" cy="169.6" r="2.4"/><circle cx="57.1" cy="177.8" r="2.4"/><circle cx="47.7" cy="174.8" r="2.4"/><circle cx="82.9" cy="136.9" r="2.4"/><circle cx="82.1" cy="134.2" r="2.4"/><circle cx="62.8" cy="148.5" r="2.4"/><circle cx="153.9" cy="132.4" r="2.4"/><circle cx="80.9" cy="149.9" r="2.4"/><circle cx="177.5" cy="149.6" r="2.4"/><circle cx="132.9" cy="164.2" r="2.4"/><circle cx="75.3" cy="173.0" r="2.4"/><circle cx="123.8" cy="159.2" r="2.4"/><circle cx="95.1" cy="169.5" r="2.4"/><circle cx="120.0" cy="177.1" r="2.4"/><circle cx="56.8" cy="144.7" r="2.4"/><circle cx="55.9" cy="177.7" r="2.4"/><circle cx="128.2" cy="152.3" r="2.4"/><circle cx="48.0" cy="169.8" r="2.4"/><circle cx="89.4" cy="158.8" r="2.4"/><circle cx="128.7" cy="150.2" r="2.4"/><circle cx="107.2" cy="153.0" r="2.4"/><circle cx="118.8" cy="144.0" r="2.4"/><circle cx="138.9" cy="111.3" r="2.4"/><circle cx="120.4" cy="153.9" r="2.4"/><circle cx="54.9" cy="166.8" r="2.4"/><circle cx="56.2" cy="144.0" r="2.4"/><circle cx="91.9" cy="155.4" r="2.4"/><circle cx="52.9" cy="135.8" r="2.4"/><circle cx="95.0" cy="105.3" r="2.4"/><circle cx="171.2" cy="155.8" r="2.4"/><circle cx="151.6" cy="154.7" r="2.4"/><circle cx="101.6" cy="172.7" r="2.4"/><circle cx="147.1" cy="155.5" r="2.4"/><circle cx="102.6" cy="121.9" r="2.4"/><circle cx="56.0" cy="159.8" r="2.4"/><circle cx="87.8" cy="174.8" r="2.4"/><circle cx="115.1" cy="117.2" r="2.4"/><circle cx="125.4" cy="160.1" r="2.4"/><circle cx="156.9" cy="142.1" r="2.4"/><circle cx="125.0" cy="176.6" r="2.4"/><circle cx="128.6" cy="170.4" r="2.4"/><circle cx="155.0" cy="139.5" r="2.4"/><circle cx="59.3" cy="138.6" r="2.4"/><circle cx="51.6" cy="161.7" r="2.4"/><circle cx="57.1" cy="141.2" r="2.4"/><circle cx="163.7" cy="138.9" r="2.4"/><circle cx="180.2" cy="137.3" r="2.4"/><circle cx="132.9" cy="155.6" r="2.4"/><circle cx="61.7" cy="151.6" r="2.4"/><circle cx="106.0" cy="124.9" r="2.4"/><circle cx="164.4" cy="146.2" r="2.4"/><circle cx="95.4" cy="149.5" r="2.4"/><circle cx="106.4" cy="162.2" r="2.4"/><circle cx="87.9" cy="133.1" r="2.4"/><circle cx="74.3" cy="141.5" r="2.4"/><circle cx="106.1" cy="173.3" r="2.4"/><circle cx="121.8" cy="144.9" r="2.4"/><circle cx="147.9" cy="135.9" r="2.4"/><circle cx="143.6" cy="134.0" r="2.4"/><circle cx="102.8" cy="175.7" r="2.4"/><circle cx="62.5" cy="125.3" r="2.4"/><circle cx="57.9" cy="154.8" r="2.4"/><circle cx="172.5" cy="154.8" r="2.4"/><circle cx="125.0" cy="156.8" r="2.4"/><circle cx="47.5" cy="151.3" r="2.4"/><circle cx="162.9" cy="153.7" r="2.4"/><circle cx="107.8" cy="169.5" r="2.4"/><circle cx="84.8" cy="160.8" r="2.4"/><circle cx="141.4" cy="151.3" r="2.4"/><circle cx="135.1" cy="166.5" r="2.4"/><circle cx="127.5" cy="112.6" r="2.4"/><circle cx="134.9" cy="146.4" r="2.4"/><circle cx="134.8" cy="168.8" r="2.4"/><circle cx="116.1" cy="171.8" r="2.4"/><circle cx="45.3" cy="167.6" r="2.4"/><circle cx="75.1" cy="178.6" r="2.4"/><circle cx="84.3" cy="131.9" r="2.4"/><circle cx="45.3" cy="173.7" r="2.4"/><circle cx="112.9" cy="152.6" r="2.4"/><circle cx="54.1" cy="136.8" r="2.4"/><circle cx="117.2" cy="167.5" r="2.4"/><circle cx="116.5" cy="141.4" r="2.4"/><circle cx="90.8" cy="177.4" r="2.4"/><circle cx="79.4" cy="138.5" r="2.4"/><circle cx="114.5" cy="172.2" r="2.4"/><circle cx="121.2" cy="161.3" r="2.4"/><circle cx="59.6" cy="164.0" r="2.4"/><circle cx="158.5" cy="143.1" r="2.4"/><circle cx="132.1" cy="150.5" r="2.4"/><circle cx="89.2" cy="145.8" r="2.4"/><circle cx="116.8" cy="140.8" r="2.4"/><circle cx="94.8" cy="126.0" r="2.4"/><circle cx="93.9" cy="165.5" r="2.4"/><circle cx="139.7" cy="150.7" r="2.4"/><circle cx="71.7" cy="160.5" r="2.4"/><circle cx="185.7" cy="162.6" r="2.4"/><circle cx="45.6" cy="155.6" r="2.4"/><circle cx="90.4" cy="174.5" r="2.4"/><circle cx="97.4" cy="133.7" r="2.4"/><circle cx="44.8" cy="166.1" r="2.4"/><circle cx="66.4" cy="163.9" r="2.4"/><circle cx="116.7" cy="173.6" r="2.4"/><circle cx="122.4" cy="162.8" r="2.4"/><circle cx="56.0" cy="135.0" r="2.4"/><circle cx="57.8" cy="120.3" r="2.4"/><circle cx="71.7" cy="135.4" r="2.4"/><circle cx="191.3" cy="156.0" r="2.4"/><circle cx="109.9" cy="138.4" r="2.4"/><circle cx="163.4" cy="145.1" r="2.4"/><circle cx="117.9" cy="166.3" r="2.4"/><circle cx="143.9" cy="162.0" r="2.4"/><circle cx="167.7" cy="167.9" r="2.4"/><circle cx="64.7" cy="126.1" r="2.4"/><circle cx="115.4" cy="165.0" r="2.4"/><circle cx="84.0" cy="151.3" r="2.4"/><circle cx="67.8" cy="152.3" r="2.4"/><circle cx="50.2" cy="175.9" r="2.4"/><circle cx="104.3" cy="157.8" r="2.4"/><circle cx="47.4" cy="172.3" r="2.4"/><circle cx="44.9" cy="169.2" r="2.4"/><circle cx="171.7" cy="130.3" r="2.4"/><circle cx="116.5" cy="173.4" r="2.4"/><circle cx="70.2" cy="172.1" r="2.4"/><circle cx="159.2" cy="149.2" r="2.4"/><circle cx="131.8" cy="143.9" r="2.4"/><circle cx="123.3" cy="160.3" r="2.4"/><circle cx="59.3" cy="170.9" r="2.4"/><circle cx="75.4" cy="153.2" r="2.4"/><circle cx="92.5" cy="161.4" r="2.4"/><circle cx="105.6" cy="110.2" r="2.4"/><circle cx="67.0" cy="166.9" r="2.4"/><circle cx="105.5" cy="147.3" r="2.4"/><circle cx="187.6" cy="153.7" r="2.4"/><circle cx="119.9" cy="137.4" r="2.4"/><circle cx="129.7" cy="149.6" r="2.4"/><circle cx="93.4" cy="143.2" r="2.4"/><circle cx="96.0" cy="173.4" r="2.4"/><circle cx="102.7" cy="156.9" r="2.4"/><circle cx="101.9" cy="119.8" r="2.4"/><circle cx="128.1" cy="171.9" r="2.4"/><circle cx="47.8" cy="168.6" r="2.4"/><circle cx="68.8" cy="171.7" r="2.4"/><circle cx="48.7" cy="155.1" r="2.4"/><circle cx="113.3" cy="115.1" r="2.4"/><circle cx="47.2" cy="166.4" r="2.4"/><circle cx="140.0" cy="128.4" r="2.4"/><circle cx="64.2" cy="176.8" r="2.4"/><circle cx="111.9" cy="175.1" r="2.4"/><circle cx="86.4" cy="125.8" r="2.4"/><circle cx="148.4" cy="158.6" r="2.4"/><circle cx="49.5" cy="142.5" r="2.4"/><circle cx="97.7" cy="129.9" r="2.4"/><circle cx="156.6" cy="173.5" r="2.4"/><circle cx="114.9" cy="154.7" r="2.4"/><circle cx="82.4" cy="175.3" r="2.4"/><circle cx="67.8" cy="141.2" r="2.4"/><circle cx="165.8" cy="161.9" r="2.4"/><circle cx="134.1" cy="152.0" r="2.4"/><circle cx="111.3" cy="154.0" r="2.4"/><circle cx="172.8" cy="153.8" r="2.4"/><circle cx="187.9" cy="159.9" r="2.4"/><circle cx="64.5" cy="151.5" r="2.4"/><circle cx="140.3" cy="177.7" r="2.4"/><circle cx="138.5" cy="175.5" r="2.4"/><circle cx="83.2" cy="136.0" r="2.4"/><circle cx="80.4" cy="160.9" r="2.4"/><circle cx="84.6" cy="141.6" r="2.4"/><circle cx="105.6" cy="150.1" r="2.4"/><circle cx="135.6" cy="136.5" r="2.4"/><circle cx="44.9" cy="168.9" r="2.4"/><circle cx="155.2" cy="175.4" r="2.4"/><circle cx="59.8" cy="150.8" r="2.4"/><circle cx="77.7" cy="133.9" r="2.4"/><circle cx="52.6" cy="137.2" r="2.4"/><circle cx="98.2" cy="163.7" r="2.4"/><circle cx="60.8" cy="132.6" r="2.4"/><circle cx="175.6" cy="142.9" r="2.4"/><circle cx="163.6" cy="169.6" r="2.4"/><circle cx="115.4" cy="163.2" r="2.4"/><circle cx="113.4" cy="163.8" r="2.4"/><circle cx="86.9" cy="164.9" r="2.4"/><circle cx="54.5" cy="170.8" r="2.4"/><circle cx="178.0" cy="142.5" r="2.4"/><circle cx="46.3" cy="175.4" r="2.4"/><circle cx="74.0" cy="157.9" r="2.4"/><circle cx="150.4" cy="177.6" r="2.4"/><circle cx="134.8" cy="162.9" r="2.4"/><circle cx="73.8" cy="159.5" r="2.4"/><circle cx="74.8" cy="166.2" r="2.4"/><circle cx="140.6" cy="170.2" r="2.4"/><circle cx="112.2" cy="140.7" r="2.4"/><circle cx="72.6" cy="154.2" r="2.4"/><circle cx="89.4" cy="149.7" r="2.4"/><circle cx="123.5" cy="135.6" r="2.4"/><circle cx="158.7" cy="151.2" r="2.4"/><circle cx="65.2" cy="170.0" r="2.4"/><circle cx="64.9" cy="137.6" r="2.4"/><circle cx="72.5" cy="168.7" r="2.4"/><circle cx="77.6" cy="151.0" r="2.4"/><circle cx="109.7" cy="175.7" r="2.4"/><circle cx="162.6" cy="135.3" r="2.4"/><circle cx="141.8" cy="170.9" r="2.4"/><circle cx="134.7" cy="178.5" r="2.4"/><circle cx="84.0" cy="158.3" r="2.4"/><circle cx="114.2" cy="175.9" r="2.4"/><circle cx="143.4" cy="159.8" r="2.4"/><circle cx="136.4" cy="149.5" r="2.4"/><circle cx="129.2" cy="171.9" r="2.4"/><circle cx="48.8" cy="166.3" r="2.4"/><circle cx="143.1" cy="166.6" r="2.4"/><circle cx="110.5" cy="157.7" r="2.4"/><circle cx="82.9" cy="134.0" r="2.4"/><circle cx="172.7" cy="161.5" r="2.4"/><circle cx="92.5" cy="165.0" r="2.4"/><circle cx="101.6" cy="169.2" r="2.4"/><circle cx="142.1" cy="163.5" r="2.4"/><circle cx="170.1" cy="155.1" r="2.4"/><circle cx="79.9" cy="135.0" r="2.4"/><circle cx="177.4" cy="145.1" r="2.4"/><circle cx="45.4" cy="160.6" r="2.4"/><circle cx="80.2" cy="94.1" r="2.4"/><circle cx="130.9" cy="155.2" r="2.4"/><circle cx="73.1" cy="149.4" r="2.4"/><circle cx="165.4" cy="150.8" r="2.4"/><circle cx="62.6" cy="175.0" r="2.4"/><circle cx="101.1" cy="131.4" r="2.4"/><circle cx="65.8" cy="153.4" r="2.4"/><circle cx="91.4" cy="172.1" r="2.4"/><circle cx="113.1" cy="167.4" r="2.4"/><circle cx="178.1" cy="161.9" r="2.4"/><circle cx="81.6" cy="170.1" r="2.4"/><circle cx="80.9" cy="166.7" r="2.4"/><circle cx="141.0" cy="166.6" r="2.4"/><circle cx="161.6" cy="122.2" r="2.4"/><circle cx="154.1" cy="168.0" r="2.4"/><circle cx="137.7" cy="179.4" r="2.4"/><circle cx="97.4" cy="165.7" r="2.4"/><circle cx="78.2" cy="176.4" r="2.4"/><circle cx="155.6" cy="143.7" r="2.4"/><circle cx="75.2" cy="165.0" r="2.4"/><circle cx="55.0" cy="172.0" r="2.4"/><circle cx="46.4" cy="166.7" r="2.4"/><circle cx="97.2" cy="150.4" r="2.4"/><circle cx="45.2" cy="160.7" r="2.4"/><circle cx="128.4" cy="115.1" r="2.4"/><circle cx="129.4" cy="175.4" r="2.4"/><circle cx="92.1" cy="128.3" r="2.4"/><circle cx="128.3" cy="157.5" r="2.4"/><circle cx="144.6" cy="119.1" r="2.4"/><circle cx="153.7" cy="166.4" r="2.4"/><circle cx="108.0" cy="172.2" r="2.4"/><circle cx="132.5" cy="128.7" r="2.4"/><circle cx="164.9" cy="161.1" r="2.4"/><circle cx="193.0" cy="162.1" r="2.4"/><circle cx="130.0" cy="152.3" r="2.4"/><circle cx="132.4" cy="115.4" r="2.4"/><circle cx="96.4" cy="172.4" r="2.4"/><circle cx="65.0" cy="156.2" r="2.4"/><circle cx="47.4" cy="174.5" r="2.4"/><circle cx="68.5" cy="107.7" r="2.4"/><circle cx="141.8" cy="165.1" r="2.4"/><circle cx="116.5" cy="179.0" r="2.4"/><circle cx="81.5" cy="145.4" r="2.4"/><circle cx="74.6" cy="151.3" r="2.4"/><circle cx="162.6" cy="141.3" r="2.4"/><circle cx="100.5" cy="161.1" r="2.4"/><circle cx="133.6" cy="177.5" r="2.4"/><circle cx="138.0" cy="176.3" r="2.4"/><circle cx="120.9" cy="163.1" r="2.4"/><circle cx="154.9" cy="150.2" r="2.4"/><circle cx="88.9" cy="161.1" r="2.4"/><circle cx="54.0" cy="154.9" r="2.4"/><circle cx="175.8" cy="135.7" r="2.4"/><circle cx="46.8" cy="164.9" r="2.4"/><circle cx="155.8" cy="166.5" r="2.4"/><circle cx="74.6" cy="146.9" r="2.4"/><circle cx="94.5" cy="160.6" r="2.4"/><circle cx="102.0" cy="166.6" r="2.4"/><circle cx="145.9" cy="145.4" r="2.4"/><circle cx="53.1" cy="158.0" r="2.4"/><circle cx="45.5" cy="174.5" r="2.4"/><circle cx="45.8" cy="166.3" r="2.4"/><circle cx="86.0" cy="175.5" r="2.4"/><circle cx="175.5" cy="146.9" r="2.4"/><circle cx="146.4" cy="167.8" r="2.4"/><circle cx="90.5" cy="138.6" r="2.4"/><circle cx="95.6" cy="167.4" r="2.4"/><circle cx="112.6" cy="124.4" r="2.4"/><circle cx="159.3" cy="158.8" r="2.4"/><circle cx="75.3" cy="161.9" r="2.4"/><circle cx="111.2" cy="139.6" r="2.4"/><circle cx="59.7" cy="126.5" r="2.4"/><circle cx="93.9" cy="157.0" r="2.4"/><circle cx="132.9" cy="164.7" r="2.4"/><circle cx="54.5" cy="167.4" r="2.4"/><circle cx="76.6" cy="139.8" r="2.4"/><circle cx="98.0" cy="164.1" r="2.4"/><circle cx="82.5" cy="123.9" r="2.4"/><circle cx="82.6" cy="137.2" r="2.4"/><circle cx="148.3" cy="126.8" r="2.4"/><circle cx="111.3" cy="162.4" r="2.4"/><circle cx="68.3" cy="152.2" r="2.4"/><circle cx="176.7" cy="157.9" r="2.4"/><circle cx="74.8" cy="142.8" r="2.4"/><circle cx="151.3" cy="158.0" r="2.4"/><circle cx="102.6" cy="119.4" r="2.4"/><circle cx="58.7" cy="178.2" r="2.4"/><circle cx="159.1" cy="161.7" r="2.4"/><circle cx="167.5" cy="150.4" r="2.4"/><circle cx="58.1" cy="154.8" r="2.4"/><circle cx="95.5" cy="163.2" r="2.4"/><circle cx="166.9" cy="162.7" r="2.4"/><circle cx="111.6" cy="173.6" r="2.4"/><circle cx="46.5" cy="175.4" r="2.4"/><circle cx="78.5" cy="166.8" r="2.4"/><circle cx="155.5" cy="175.4" r="2.4"/><circle cx="74.9" cy="175.0" r="2.4"/><circle cx="108.8" cy="153.3" r="2.4"/><circle cx="43.9" cy="178.8" r="2.4"/><circle cx="77.7" cy="163.6" r="2.4"/><circle cx="103.1" cy="157.0" r="2.4"/><circle cx="76.7" cy="164.7" r="2.4"/><circle cx="108.5" cy="174.4" r="2.4"/><circle cx="57.4" cy="168.1" r="2.4"/><circle cx="132.9" cy="131.8" r="2.4"/><circle cx="139.8" cy="147.7" r="2.4"/><circle cx="64.0" cy="145.4" r="2.4"/><circle cx="61.4" cy="160.9" r="2.4"/><circle cx="55.6" cy="148.6" r="2.4"/><circle cx="46.6" cy="172.8" r="2.4"/><circle cx="62.0" cy="172.6" r="2.4"/><circle cx="120.4" cy="163.4" r="2.4"/><circle cx="44.0" cy="168.9" r="2.4"/><circle cx="154.1" cy="155.4" r="2.4"/><circle cx="59.1" cy="159.9" r="2.4"/><circle cx="165.9" cy="152.9" r="2.4"/><circle cx="152.5" cy="126.4" r="2.4"/><circle cx="56.6" cy="170.3" r="2.4"/><circle cx="154.6" cy="167.4" r="2.4"/><circle cx="50.4" cy="164.0" r="2.4"/><circle cx="120.2" cy="149.2" r="2.4"/><circle cx="155.8" cy="174.2" r="2.4"/><circle cx="185.9" cy="143.7" r="2.4"/><circle cx="136.7" cy="151.9" r="2.4"/><circle cx="138.8" cy="174.7" r="2.4"/><circle cx="118.1" cy="108.8" r="2.4"/><circle cx="64.3" cy="160.2" r="2.4"/><circle cx="165.9" cy="164.2" r="2.4"/><circle cx="83.1" cy="145.0" r="2.4"/><circle cx="102.7" cy="143.1" r="2.4"/><circle cx="116.2" cy="110.4" r="2.4"/><circle cx="124.6" cy="167.3" r="2.4"/><circle cx="136.5" cy="166.3" r="2.4"/><circle cx="125.6" cy="162.6" r="2.4"/><circle cx="76.3" cy="132.9" r="2.4"/><circle cx="59.7" cy="147.1" r="2.4"/><circle cx="48.9" cy="164.6" r="2.4"/><circle cx="77.1" cy="173.2" r="2.4"/><circle cx="60.4" cy="161.1" r="2.4"/><circle cx="142.8" cy="159.2" r="2.4"/><circle cx="76.9" cy="177.2" r="2.4"/><circle cx="94.7" cy="148.9" r="2.4"/><circle cx="48.2" cy="179.1" r="2.4"/><circle cx="148.9" cy="142.6" r="2.4"/><circle cx="86.0" cy="154.2" r="2.4"/><circle cx="49.1" cy="168.9" r="2.4"/><circle cx="136.2" cy="155.1" r="2.4"/><circle cx="101.2" cy="116.2" r="2.4"/><circle cx="123.3" cy="175.7" r="2.4"/><circle cx="59.4" cy="127.5" r="2.4"/><circle cx="97.5" cy="121.5" r="2.4"/><circle cx="73.1" cy="159.8" r="2.4"/><circle cx="67.6" cy="161.4" r="2.4"/><circle cx="114.3" cy="138.0" r="2.4"/><circle cx="94.7" cy="84.2" r="2.4"/><circle cx="64.5" cy="154.8" r="2.4"/><circle cx="115.8" cy="149.1" r="2.4"/><circle cx="104.6" cy="132.2" r="2.4"/><circle cx="177.6" cy="142.9" r="2.4"/><circle cx="45.6" cy="169.0" r="2.4"/><circle cx="60.6" cy="145.3" r="2.4"/><circle cx="100.8" cy="121.2" r="2.4"/><circle cx="162.9" cy="133.2" r="2.4"/><circle cx="136.3" cy="157.1" r="2.4"/><circle cx="64.4" cy="160.5" r="2.4"/><circle cx="53.9" cy="154.7" r="2.4"/><circle cx="176.2" cy="147.3" r="2.4"/><circle cx="158.1" cy="124.3" r="2.4"/><circle cx="101.9" cy="148.2" r="2.4"/><circle cx="102.6" cy="153.9" r="2.4"/><circle cx="114.6" cy="149.7" r="2.4"/><circle cx="114.6" cy="151.7" r="2.4"/><circle cx="109.9" cy="166.8" r="2.4"/><circle cx="88.9" cy="146.8" r="2.4"/><circle cx="171.8" cy="168.0" r="2.4"/><circle cx="73.9" cy="163.9" r="2.4"/><circle cx="84.6" cy="144.9" r="2.4"/><circle cx="123.2" cy="98.0" r="2.4"/><circle cx="150.5" cy="167.8" r="2.4"/><circle cx="71.2" cy="176.2" r="2.4"/><circle cx="54.5" cy="154.0" r="2.4"/><circle cx="105.1" cy="161.3" r="2.4"/><circle cx="77.3" cy="155.3" r="2.4"/><circle cx="94.9" cy="157.9" r="2.4"/><circle cx="176.9" cy="157.6" r="2.4"/><circle cx="110.4" cy="136.4" r="2.4"/><circle cx="177.1" cy="149.3" r="2.4"/><circle cx="134.7" cy="171.2" r="2.4"/><circle cx="118.7" cy="162.9" r="2.4"/><circle cx="84.9" cy="169.3" r="2.4"/><circle cx="100.1" cy="157.0" r="2.4"/><circle cx="61.5" cy="138.3" r="2.4"/><circle cx="103.8" cy="155.3" r="2.4"/><circle cx="129.1" cy="133.7" r="2.4"/><circle cx="181.3" cy="156.3" r="2.4"/><circle cx="57.5" cy="170.5" r="2.4"/><circle cx="139.7" cy="174.6" r="2.4"/><circle cx="184.3" cy="155.4" r="2.4"/><circle cx="63.8" cy="149.9" r="2.4"/><circle cx="165.1" cy="164.2" r="2.4"/><circle cx="138.0" cy="173.9" r="2.4"/><circle cx="83.2" cy="165.6" r="2.4"/><circle cx="173.2" cy="148.4" r="2.4"/><circle cx="81.7" cy="131.8" r="2.4"/><circle cx="166.5" cy="155.0" r="2.4"/><circle cx="180.6" cy="146.2" r="2.4"/><circle cx="156.3" cy="165.9" r="2.4"/><circle cx="105.5" cy="146.6" r="2.4"/><circle cx="103.3" cy="176.6" r="2.4"/><circle cx="135.9" cy="135.1" r="2.4"/><circle cx="46.6" cy="158.9" r="2.4"/><circle cx="110.2" cy="145.8" r="2.4"/><circle cx="142.1" cy="173.3" r="2.4"/><circle cx="90.9" cy="158.3" r="2.4"/><circle cx="118.5" cy="153.8" r="2.4"/><circle cx="110.0" cy="141.6" r="2.4"/><circle cx="59.0" cy="154.4" r="2.4"/><circle cx="88.5" cy="171.2" r="2.4"/><circle cx="185.7" cy="160.7" r="2.4"/><circle cx="79.4" cy="162.9" r="2.4"/><circle cx="153.8" cy="175.2" r="2.4"/><circle cx="79.3" cy="150.0" r="2.4"/><circle cx="51.4" cy="171.8" r="2.4"/><circle cx="86.9" cy="145.2" r="2.4"/><circle cx="133.3" cy="159.8" r="2.4"/><circle cx="153.7" cy="160.3" r="2.4"/><circle cx="87.4" cy="143.0" r="2.4"/><circle cx="63.1" cy="116.0" r="2.4"/><circle cx="143.8" cy="160.4" r="2.4"/><circle cx="86.2" cy="161.0" r="2.4"/><circle cx="105.5" cy="120.2" r="2.4"/><circle cx="98.8" cy="167.0" r="2.4"/><circle cx="117.7" cy="141.4" r="2.4"/><circle cx="134.6" cy="158.6" r="2.4"/><circle cx="129.9" cy="142.3" r="2.4"/><circle cx="93.8" cy="127.5" r="2.4"/><circle cx="102.5" cy="178.6" r="2.4"/><circle cx="118.1" cy="137.7" r="2.4"/><circle cx="58.3" cy="177.3" r="2.4"/><circle cx="72.0" cy="168.6" r="2.4"/><circle cx="55.5" cy="178.0" r="2.4"/><circle cx="110.7" cy="156.5" r="2.4"/><circle cx="171.0" cy="167.0" r="2.4"/><circle cx="92.6" cy="162.3" r="2.4"/><circle cx="129.6" cy="161.9" r="2.4"/><circle cx="133.2" cy="162.3" r="2.4"/><circle cx="155.9" cy="167.7" r="2.4"/><circle cx="79.8" cy="148.2" r="2.4"/><circle cx="50.7" cy="167.7" r="2.4"/><circle cx="170.1" cy="157.0" r="2.4"/><circle cx="49.3" cy="174.6" r="2.4"/><circle cx="148.4" cy="169.2" r="2.4"/><circle cx="69.4" cy="147.3" r="2.4"/><circle cx="110.7" cy="166.6" r="2.4"/><circle cx="64.3" cy="121.9" r="2.4"/><circle cx="109.0" cy="138.1" r="2.4"/><circle cx="115.6" cy="166.6" r="2.4"/><circle cx="48.4" cy="155.9" r="2.4"/><circle cx="114.2" cy="175.6" r="2.4"/><circle cx="102.5" cy="165.1" r="2.4"/><circle cx="141.3" cy="147.4" r="2.4"/><circle cx="139.6" cy="152.2" r="2.4"/><circle cx="161.8" cy="138.4" r="2.4"/><circle cx="139.4" cy="153.0" r="2.4"/><circle cx="85.4" cy="135.3" r="2.4"/><circle cx="124.4" cy="116.9" r="2.4"/><circle cx="160.4" cy="144.2" r="2.4"/><circle cx="91.9" cy="145.0" r="2.4"/><circle cx="163.6" cy="159.2" r="2.4"/><circle cx="134.5" cy="142.2" r="2.4"/><circle cx="169.3" cy="153.1" r="2.4"/><circle cx="143.9" cy="168.4" r="2.4"/><circle cx="132.3" cy="156.0" r="2.4"/><circle cx="111.2" cy="143.4" r="2.4"/><circle cx="50.4" cy="126.7" r="2.4"/><circle cx="118.2" cy="147.0" r="2.4"/><circle cx="143.8" cy="166.1" r="2.4"/><circle cx="106.4" cy="126.7" r="2.4"/><circle cx="99.6" cy="144.2" r="2.4"/><circle cx="50.6" cy="174.0" r="2.4"/><circle cx="84.1" cy="175.9" r="2.4"/><circle cx="84.5" cy="145.7" r="2.4"/><circle cx="149.5" cy="113.9" r="2.4"/><circle cx="118.4" cy="145.8" r="2.4"/><circle cx="85.2" cy="144.1" r="2.4"/><circle cx="142.5" cy="146.1" r="2.4"/><circle cx="74.6" cy="129.1" r="2.4"/><circle cx="100.5" cy="167.9" r="2.4"/><circle cx="152.4" cy="144.6" r="2.4"/><circle cx="90.6" cy="153.5" r="2.4"/><circle cx="59.5" cy="146.6" r="2.4"/><circle cx="170.6" cy="161.5" r="2.4"/><circle cx="137.5" cy="166.6" r="2.4"/><circle cx="186.3" cy="149.0" r="2.4"/><circle cx="68.4" cy="145.0" r="2.4"/><circle cx="143.4" cy="169.4" r="2.4"/><circle cx="75.1" cy="160.0" r="2.4"/><circle cx="134.5" cy="140.8" r="2.4"/><circle cx="133.4" cy="164.0" r="2.4"/><circle cx="87.3" cy="147.0" r="2.4"/><circle cx="101.4" cy="144.0" r="2.4"/><circle cx="65.7" cy="142.2" r="2.4"/><circle cx="137.9" cy="174.0" r="2.4"/><circle cx="130.7" cy="126.3" r="2.4"/><circle cx="162.2" cy="167.6" r="2.4"/><circle cx="84.4" cy="171.3" r="2.4"/><circle cx="155.0" cy="127.3" r="2.4"/><circle cx="109.8" cy="118.4" r="2.4"/><circle cx="103.6" cy="120.2" r="2.4"/><circle cx="62.5" cy="159.5" r="2.4"/><circle cx="150.7" cy="114.2" r="2.4"/><circle cx="114.7" cy="142.5" r="2.4"/><circle cx="110.8" cy="176.5" r="2.4"/><circle cx="146.6" cy="139.9" r="2.4"/><circle cx="167.8" cy="156.3" r="2.4"/><circle cx="161.5" cy="152.7" r="2.4"/><circle cx="109.0" cy="170.7" r="2.4"/><circle cx="112.6" cy="163.2" r="2.4"/><circle cx="89.8" cy="177.5" r="2.4"/><circle cx="82.7" cy="157.8" r="2.4"/><circle cx="115.2" cy="161.9" r="2.4"/><circle cx="149.4" cy="159.2" r="2.4"/><circle cx="78.3" cy="143.9" r="2.4"/><circle cx="72.6" cy="126.9" r="2.4"/><circle cx="175.4" cy="143.4" r="2.4"/><circle cx="66.7" cy="167.2" r="2.4"/><circle cx="73.7" cy="153.3" r="2.4"/><circle cx="124.1" cy="174.3" r="2.4"/><circle cx="180.8" cy="146.5" r="2.4"/><circle cx="90.2" cy="141.1" r="2.4"/><circle cx="86.5" cy="140.1" r="2.4"/><circle cx="161.5" cy="152.8" r="2.4"/><circle cx="57.8" cy="146.4" r="2.4"/><circle cx="180.9" cy="160.1" r="2.4"/><circle cx="100.5" cy="162.9" r="2.4"/><circle cx="58.7" cy="161.8" r="2.4"/><circle cx="110.8" cy="159.8" r="2.4"/><circle cx="140.1" cy="118.2" r="2.4"/><circle cx="129.9" cy="140.0" r="2.4"/><circle cx="127.8" cy="155.0" r="2.4"/><circle cx="112.3" cy="168.8" r="2.4"/><circle cx="98.2" cy="141.7" r="2.4"/><circle cx="124.2" cy="147.2" r="2.4"/><circle cx="175.6" cy="152.6" r="2.4"/><circle cx="69.0" cy="178.9" r="2.4"/><circle cx="57.7" cy="154.5" r="2.4"/><circle cx="110.1" cy="174.9" r="2.4"/><circle cx="119.6" cy="152.9" r="2.4"/><circle cx="82.3" cy="149.9" r="2.4"/><circle cx="174.6" cy="145.3" r="2.4"/><circle cx="82.8" cy="158.0" r="2.4"/><circle cx="112.7" cy="132.2" r="2.4"/><circle cx="113.4" cy="167.9" r="2.4"/><circle cx="75.4" cy="118.5" r="2.4"/><circle cx="92.1" cy="120.0" r="2.4"/><circle cx="72.1" cy="164.1" r="2.4"/><circle cx="113.8" cy="150.0" r="2.4"/><circle cx="95.1" cy="167.6" r="2.4"/><circle cx="118.0" cy="115.7" r="2.4"/><circle cx="157.6" cy="132.9" r="2.4"/><circle cx="65.8" cy="173.4" r="2.4"/><circle cx="71.7" cy="162.9" r="2.4"/><circle cx="95.8" cy="151.1" r="2.4"/><circle cx="91.1" cy="151.7" r="2.4"/><circle cx="90.3" cy="148.1" r="2.4"/><circle cx="159.8" cy="161.6" r="2.4"/><circle cx="61.1" cy="175.1" r="2.4"/><circle cx="101.1" cy="112.0" r="2.4"/><circle cx="92.2" cy="151.7" r="2.4"/><circle cx="51.6" cy="148.4" r="2.4"/><circle cx="134.3" cy="171.5" r="2.4"/><circle cx="86.7" cy="158.4" r="2.4"/><circle cx="59.6" cy="163.2" r="2.4"/><circle cx="142.7" cy="156.2" r="2.4"/><circle cx="161.0" cy="170.2" r="2.4"/><circle cx="114.8" cy="172.4" r="2.4"/><circle cx="169.6" cy="151.5" r="2.4"/><circle cx="126.1" cy="175.9" r="2.4"/><circle cx="52.0" cy="162.7" r="2.4"/><circle cx="96.6" cy="171.3" r="2.4"/><circle cx="77.1" cy="160.8" r="2.4"/><circle cx="126.0" cy="159.7" r="2.4"/><circle cx="45.0" cy="161.4" r="2.4"/><circle cx="109.6" cy="137.5" r="2.4"/><circle cx="106.9" cy="146.4" r="2.4"/><circle cx="106.0" cy="168.2" r="2.4"/><circle cx="75.0" cy="172.6" r="2.4"/><circle cx="129.7" cy="164.0" r="2.4"/><circle cx="165.2" cy="125.8" r="2.4"/><circle cx="84.4" cy="152.5" r="2.4"/><circle cx="100.3" cy="164.7" r="2.4"/><circle cx="158.6" cy="150.5" r="2.4"/><circle cx="150.9" cy="174.3" r="2.4"/><circle cx="106.2" cy="152.5" r="2.4"/><circle cx="58.6" cy="164.2" r="2.4"/><circle cx="191.9" cy="164.6" r="2.4"/><circle cx="103.0" cy="164.7" r="2.4"/><circle cx="149.5" cy="139.0" r="2.4"/><circle cx="133.4" cy="153.1" r="2.4"/><circle cx="169.7" cy="134.6" r="2.4"/><circle cx="124.3" cy="156.0" r="2.4"/><circle cx="156.9" cy="144.2" r="2.4"/><circle cx="86.1" cy="121.1" r="2.4"/><circle cx="133.1" cy="158.3" r="2.4"/><circle cx="94.7" cy="170.4" r="2.4"/><circle cx="54.3" cy="158.2" r="2.4"/><circle cx="47.0" cy="176.2" r="2.4"/><circle cx="70.6" cy="157.3" r="2.4"/><circle cx="59.6" cy="151.4" r="2.4"/><circle cx="139.1" cy="163.8" r="2.4"/><circle cx="156.3" cy="167.4" r="2.4"/><circle cx="90.9" cy="161.6" r="2.4"/><circle cx="66.5" cy="133.9" r="2.4"/><circle cx="68.8" cy="160.3" r="2.4"/><circle cx="112.4" cy="151.4" r="2.4"/><circle cx="133.4" cy="168.3" r="2.4"/><circle cx="114.9" cy="179.2" r="2.4"/><circle cx="75.3" cy="174.9" r="2.4"/><circle cx="113.9" cy="149.4" r="2.4"/><circle cx="55.5" cy="158.2" r="2.4"/><circle cx="143.5" cy="178.9" r="2.4"/><circle cx="72.8" cy="150.0" r="2.4"/><circle cx="184.8" cy="155.6" r="2.4"/><circle cx="122.9" cy="170.9" r="2.4"/><circle cx="185.9" cy="162.2" r="2.4"/><circle cx="153.9" cy="139.2" r="2.4"/><circle cx="138.0" cy="120.7" r="2.4"/><circle cx="98.0" cy="178.9" r="2.4"/><circle cx="109.6" cy="122.6" r="2.4"/><circle cx="93.1" cy="161.0" r="2.4"/><circle cx="65.8" cy="166.5" r="2.4"/><circle cx="70.1" cy="136.2" r="2.4"/><circle cx="93.2" cy="168.5" r="2.4"/><circle cx="184.0" cy="151.8" r="2.4"/><circle cx="88.9" cy="125.7" r="2.4"/><circle cx="74.4" cy="139.0" r="2.4"/><circle cx="137.9" cy="161.3" r="2.4"/><circle cx="83.3" cy="159.2" r="2.4"/><circle cx="67.0" cy="162.4" r="2.4"/><circle cx="151.8" cy="170.0" r="2.4"/><circle cx="108.2" cy="164.6" r="2.4"/><circle cx="86.1" cy="114.7" r="2.4"/><circle cx="123.6" cy="154.8" r="2.4"/><circle cx="87.8" cy="170.2" r="2.4"/><circle cx="163.1" cy="168.1" r="2.4"/><circle cx="91.7" cy="174.2" r="2.4"/><circle cx="50.4" cy="152.5" r="2.4"/><circle cx="104.7" cy="153.4" r="2.4"/><circle cx="157.9" cy="141.5" r="2.4"/><circle cx="173.0" cy="153.9" r="2.4"/><circle cx="153.4" cy="148.8" r="2.4"/><circle cx="87.1" cy="165.6" r="2.4"/><circle cx="143.3" cy="160.6" r="2.4"/><circle cx="137.1" cy="153.2" r="2.4"/><circle cx="152.9" cy="143.5" r="2.4"/><circle cx="148.9" cy="157.4" r="2.4"/><circle cx="190.2" cy="156.1" r="2.4"/><circle cx="71.7" cy="123.8" r="2.4"/><circle cx="55.9" cy="148.2" r="2.4"/><circle cx="77.3" cy="175.7" r="2.4"/><circle cx="85.6" cy="150.8" r="2.4"/><circle cx="63.2" cy="155.3" r="2.4"/><circle cx="96.0" cy="115.8" r="2.4"/><circle cx="97.8" cy="168.8" r="2.4"/><circle cx="159.9" cy="162.5" r="2.4"/><circle cx="49.0" cy="171.8" r="2.4"/><circle cx="109.2" cy="143.5" r="2.4"/><circle cx="66.0" cy="132.1" r="2.4"/><circle cx="82.2" cy="153.4" r="2.4"/><circle cx="143.5" cy="173.5" r="2.4"/><circle cx="139.5" cy="140.1" r="2.4"/><circle cx="86.5" cy="137.6" r="2.4"/><circle cx="140.6" cy="130.6" r="2.4"/><circle cx="77.9" cy="130.1" r="2.4"/><circle cx="47.2" cy="172.5" r="2.4"/><circle cx="93.9" cy="177.9" r="2.4"/><circle cx="177.6" cy="162.3" r="2.4"/><circle cx="112.8" cy="164.4" r="2.4"/><circle cx="102.2" cy="177.5" r="2.4"/><circle cx="136.6" cy="155.6" r="2.4"/><circle cx="87.1" cy="149.9" r="2.4"/><circle cx="112.5" cy="154.9" r="2.4"/><circle cx="146.2" cy="169.0" r="2.4"/><circle cx="96.5" cy="168.3" r="2.4"/><circle cx="97.4" cy="151.5" r="2.4"/><circle cx="165.3" cy="135.6" r="2.4"/><circle cx="105.1" cy="177.2" r="2.4"/><circle cx="172.8" cy="159.6" r="2.4"/><circle cx="118.8" cy="163.9" r="2.4"/><circle cx="55.7" cy="169.6" r="2.4"/><circle cx="135.2" cy="155.8" r="2.4"/><circle cx="117.4" cy="141.1" r="2.4"/><circle cx="46.0" cy="158.4" r="2.4"/><circle cx="49.8" cy="172.0" r="2.4"/><circle cx="189.6" cy="167.8" r="2.4"/><circle cx="110.1" cy="166.5" r="2.4"/><circle cx="81.6" cy="138.7" r="2.4"/><circle cx="59.2" cy="158.0" r="2.4"/><circle cx="85.0" cy="139.6" r="2.4"/><circle cx="67.6" cy="149.1" r="2.4"/><circle cx="72.5" cy="170.5" r="2.4"/><circle cx="65.3" cy="145.0" r="2.4"/><circle cx="80.1" cy="170.3" r="2.4"/><circle cx="44.0" cy="174.5" r="2.4"/><circle cx="130.9" cy="132.4" r="2.4"/><circle cx="72.9" cy="170.2" r="2.4"/><circle cx="138.9" cy="149.3" r="2.4"/><circle cx="116.4" cy="148.1" r="2.4"/><circle cx="73.2" cy="164.3" r="2.4"/><circle cx="136.0" cy="166.2" r="2.4"/><circle cx="57.3" cy="179.3" r="2.4"/><circle cx="98.9" cy="115.6" r="2.4"/><circle cx="90.9" cy="172.4" r="2.4"/><circle cx="103.5" cy="156.2" r="2.4"/><circle cx="140.4" cy="170.0" r="2.4"/><circle cx="129.2" cy="151.6" r="2.4"/><circle cx="50.6" cy="160.6" r="2.4"/><circle cx="94.3" cy="153.4" r="2.4"/><circle cx="48.3" cy="167.2" r="2.4"/><circle cx="157.7" cy="132.0" r="2.4"/><circle cx="92.8" cy="132.1" r="2.4"/><circle cx="57.2" cy="137.5" r="2.4"/><circle cx="88.2" cy="170.8" r="2.4"/><circle cx="79.1" cy="169.2" r="2.4"/><circle cx="97.5" cy="172.1" r="2.4"/><circle cx="160.7" cy="172.4" r="2.4"/><circle cx="144.1" cy="153.5" r="2.4"/><circle cx="111.1" cy="154.4" r="2.4"/><circle cx="45.1" cy="178.5" r="2.4"/><circle cx="46.2" cy="172.7" r="2.4"/><circle cx="151.3" cy="166.4" r="2.4"/><circle cx="77.4" cy="159.5" r="2.4"/><circle cx="148.3" cy="163.8" r="2.4"/><circle cx="118.4" cy="153.3" r="2.4"/><circle cx="74.3" cy="155.5" r="2.4"/><circle cx="143.7" cy="125.6" r="2.4"/><circle cx="137.2" cy="163.2" r="2.4"/><circle cx="128.3" cy="121.7" r="2.4"/><circle cx="150.0" cy="155.7" r="2.4"/><circle cx="162.0" cy="132.9" r="2.4"/><circle cx="137.2" cy="130.1" r="2.4"/><circle cx="165.4" cy="149.0" r="2.4"/><circle cx="105.0" cy="151.9" r="2.4"/><circle cx="106.2" cy="168.8" r="2.4"/><circle cx="117.7" cy="174.2" r="2.4"/><circle cx="113.1" cy="163.9" r="2.4"/><circle cx="64.1" cy="165.9" r="2.4"/><circle cx="110.0" cy="170.2" r="2.4"/><circle cx="89.5" cy="170.4" r="2.4"/><circle cx="57.3" cy="147.9" r="2.4"/><circle cx="107.6" cy="144.8" r="2.4"/><circle cx="88.4" cy="172.6" r="2.4"/><circle cx="88.6" cy="135.8" r="2.4"/><circle cx="167.5" cy="156.3" r="2.4"/><circle cx="120.8" cy="161.6" r="2.4"/><circle cx="49.7" cy="175.3" r="2.4"/><circle cx="45.2" cy="162.5" r="2.4"/><circle cx="65.9" cy="132.6" r="2.4"/><circle cx="157.6" cy="127.0" r="2.4"/><circle cx="146.1" cy="154.8" r="2.4"/><circle cx="150.8" cy="162.8" r="2.4"/><circle cx="164.8" cy="159.9" r="2.4"/><circle cx="164.7" cy="154.0" r="2.4"/><circle cx="147.5" cy="172.6" r="2.4"/><circle cx="99.7" cy="177.2" r="2.4"/><circle cx="113.0" cy="134.7" r="2.4"/><circle cx="101.1" cy="135.6" r="2.4"/><circle cx="118.2" cy="166.1" r="2.4"/><circle cx="74.8" cy="141.3" r="2.4"/><circle cx="151.6" cy="159.8" r="2.4"/><circle cx="142.6" cy="169.0" r="2.4"/><circle cx="102.1" cy="110.0" r="2.4"/><circle cx="117.0" cy="168.1" r="2.4"/><circle cx="47.0" cy="155.5" r="2.4"/><circle cx="117.1" cy="125.9" r="2.4"/><circle cx="82.7" cy="136.9" r="2.4"/><circle cx="96.2" cy="173.6" r="2.4"/><circle cx="141.8" cy="140.5" r="2.4"/><circle cx="107.2" cy="143.5" r="2.4"/><circle cx="63.5" cy="117.5" r="2.4"/><circle cx="88.0" cy="173.9" r="2.4"/><circle cx="120.9" cy="168.5" r="2.4"/><circle cx="127.0" cy="167.0" r="2.4"/><circle cx="58.7" cy="151.7" r="2.4"/><circle cx="74.5" cy="177.2" r="2.4"/><circle cx="71.5" cy="179.3" r="2.4"/><circle cx="90.6" cy="156.6" r="2.4"/><circle cx="169.6" cy="128.3" r="2.4"/><circle cx="53.2" cy="169.0" r="2.4"/><circle cx="129.3" cy="150.3" r="2.4"/><circle cx="78.5" cy="160.3" r="2.4"/><circle cx="117.7" cy="146.9" r="2.4"/><circle cx="185.0" cy="160.9" r="2.4"/><circle cx="129.1" cy="125.6" r="2.4"/><circle cx="96.0" cy="151.3" r="2.4"/><circle cx="80.2" cy="151.6" r="2.4"/><circle cx="68.2" cy="169.2" r="2.4"/><circle cx="44.8" cy="172.6" r="2.4"/><circle cx="183.0" cy="150.2" r="2.4"/><circle cx="103.2" cy="178.1" r="2.4"/><circle cx="125.3" cy="158.7" r="2.4"/><circle cx="61.7" cy="149.8" r="2.4"/><circle cx="106.7" cy="166.8" r="2.4"/><circle cx="84.1" cy="128.2" r="2.4"/><circle cx="52.2" cy="173.3" r="2.4"/><circle cx="167.7" cy="140.6" r="2.4"/><circle cx="103.6" cy="152.1" r="2.4"/><circle cx="128.4" cy="143.2" r="2.4"/><circle cx="44.3" cy="175.3" r="2.4"/><circle cx="45.8" cy="164.2" r="2.4"/><circle cx="147.6" cy="175.6" r="2.4"/><circle cx="68.1" cy="163.3" r="2.4"/><circle cx="50.7" cy="169.5" r="2.4"/><circle cx="139.8" cy="163.6" r="2.4"/><circle cx="172.2" cy="144.8" r="2.4"/><circle cx="136.0" cy="157.0" r="2.4"/><circle cx="109.5" cy="156.8" r="2.4"/><circle cx="77.2" cy="136.5" r="2.4"/><circle cx="149.4" cy="145.7" r="2.4"/><circle cx="61.9" cy="155.5" r="2.4"/><circle cx="101.3" cy="142.9" r="2.4"/><circle cx="59.9" cy="139.6" r="2.4"/><circle cx="73.8" cy="178.1" r="2.4"/><circle cx="102.8" cy="177.9" r="2.4"/><circle cx="162.8" cy="148.0" r="2.4"/><circle cx="154.7" cy="151.5" r="2.4"/><circle cx="152.6" cy="167.5" r="2.4"/><circle cx="82.8" cy="127.5" r="2.4"/><circle cx="83.2" cy="165.5" r="2.4"/><circle cx="149.5" cy="152.2" r="2.4"/><circle cx="120.6" cy="154.1" r="2.4"/><circle cx="151.0" cy="125.8" r="2.4"/><circle cx="72.0" cy="174.9" r="2.4"/><circle cx="160.6" cy="141.9" r="2.4"/><circle cx="69.3" cy="128.4" r="2.4"/><circle cx="116.8" cy="158.9" r="2.4"/><circle cx="62.9" cy="143.3" r="2.4"/><circle cx="144.7" cy="158.4" r="2.4"/><circle cx="68.4" cy="177.9" r="2.4"/><circle cx="113.3" cy="158.9" r="2.4"/><circle cx="50.5" cy="174.4" r="2.4"/><circle cx="150.1" cy="175.1" r="2.4"/><circle cx="157.9" cy="155.3" r="2.4"/><circle cx="138.0" cy="125.6" r="2.4"/><circle cx="107.3" cy="137.2" r="2.4"/><circle cx="156.1" cy="161.5" r="2.4"/><circle cx="147.0" cy="139.6" r="2.4"/><circle cx="54.4" cy="173.5" r="2.4"/><circle cx="92.5" cy="135.4" r="2.4"/><circle cx="58.3" cy="167.4" r="2.4"/><circle cx="55.6" cy="167.1" r="2.4"/><circle cx="48.4" cy="163.5" r="2.4"/><circle cx="155.8" cy="136.5" r="2.4"/><circle cx="88.2" cy="119.5" r="2.4"/><circle cx="98.8" cy="152.7" r="2.4"/><circle cx="60.8" cy="148.9" r="2.4"/><circle cx="123.4" cy="152.0" r="2.4"/><circle cx="58.8" cy="146.5" r="2.4"/><circle cx="111.1" cy="153.7" r="2.4"/><circle cx="149.0" cy="132.6" r="2.4"/><circle cx="128.8" cy="174.9" r="2.4"/><circle cx="109.7" cy="170.8" r="2.4"/><circle cx="75.5" cy="156.7" r="2.4"/><circle cx="93.0" cy="143.2" r="2.4"/><circle cx="116.9" cy="165.8" r="2.4"/><circle cx="121.0" cy="130.0" r="2.4"/><circle cx="153.1" cy="133.8" r="2.4"/><circle cx="55.0" cy="161.6" r="2.4"/><circle cx="106.1" cy="145.0" r="2.4"/><circle cx="149.0" cy="147.3" r="2.4"/><circle cx="180.0" cy="158.6" r="2.4"/><circle cx="186.2" cy="157.5" r="2.4"/><circle cx="44.0" cy="175.6" r="2.4"/><circle cx="55.5" cy="137.8" r="2.4"/><circle cx="149.9" cy="168.8" r="2.4"/><circle cx="146.5" cy="171.6" r="2.4"/><circle cx="122.9" cy="163.9" r="2.4"/><circle cx="85.1" cy="174.4" r="2.4"/><circle cx="118.0" cy="174.8" r="2.4"/><circle cx="150.8" cy="137.9" r="2.4"/><circle cx="154.8" cy="173.1" r="2.4"/><circle cx="101.8" cy="167.5" r="2.4"/><circle cx="184.8" cy="158.8" r="2.4"/><circle cx="74.4" cy="146.8" r="2.4"/><circle cx="87.1" cy="121.2" r="2.4"/><circle cx="78.2" cy="128.5" r="2.4"/><circle cx="131.3" cy="145.4" r="2.4"/><circle cx="82.8" cy="167.5" r="2.4"/><circle cx="82.6" cy="141.4" r="2.4"/><circle cx="131.4" cy="157.7" r="2.4"/><circle cx="79.1" cy="149.5" r="2.4"/><circle cx="105.8" cy="158.9" r="2.4"/><circle cx="83.1" cy="164.7" r="2.4"/><circle cx="83.1" cy="154.3" r="2.4"/><circle cx="143.3" cy="156.7" r="2.4"/><circle cx="181.1" cy="152.5" r="2.4"/><circle cx="71.8" cy="171.6" r="2.4"/><circle cx="168.7" cy="132.9" r="2.4"/><circle cx="110.8" cy="161.7" r="2.4"/><circle cx="176.5" cy="163.1" r="2.4"/><circle cx="52.7" cy="138.5" r="2.4"/><circle cx="89.1" cy="171.2" r="2.4"/><circle cx="95.4" cy="174.8" r="2.4"/><circle cx="168.1" cy="164.2" r="2.4"/><circle cx="135.9" cy="134.3" r="2.4"/><circle cx="84.6" cy="153.5" r="2.4"/><circle cx="81.5" cy="136.4" r="2.4"/><circle cx="99.9" cy="150.9" r="2.4"/><circle cx="55.4" cy="140.3" r="2.4"/><circle cx="162.1" cy="170.4" r="2.4"/><circle cx="134.6" cy="130.6" r="2.4"/><circle cx="161.8" cy="134.1" r="2.4"/><circle cx="84.8" cy="161.2" r="2.4"/><circle cx="59.6" cy="163.6" r="2.4"/><circle cx="139.2" cy="169.8" r="2.4"/><circle cx="128.8" cy="128.3" r="2.4"/><circle cx="66.9" cy="169.8" r="2.4"/><circle cx="70.8" cy="150.2" r="2.4"/><circle cx="78.7" cy="144.5" r="2.4"/><circle cx="61.5" cy="151.3" r="2.4"/><circle cx="149.7" cy="155.7" r="2.4"/><circle cx="139.7" cy="174.5" r="2.4"/><circle cx="146.8" cy="167.3" r="2.4"/><circle cx="81.0" cy="171.0" r="2.4"/><circle cx="155.6" cy="90.3" r="2.4"/><circle cx="101.7" cy="165.2" r="2.4"/><circle cx="137.3" cy="136.9" r="2.4"/><circle cx="91.7" cy="153.4" r="2.4"/><circle cx="139.9" cy="179.1" r="2.4"/><circle cx="94.5" cy="125.7" r="2.4"/><circle cx="98.0" cy="162.3" r="2.4"/><circle cx="117.7" cy="168.8" r="2.4"/><circle cx="115.6" cy="148.9" r="2.4"/><circle cx="104.7" cy="123.0" r="2.4"/><circle cx="105.1" cy="166.7" r="2.4"/><circle cx="130.1" cy="152.9" r="2.4"/><circle cx="87.5" cy="120.6" r="2.4"/><circle cx="55.9" cy="123.0" r="2.4"/><circle cx="70.2" cy="144.1" r="2.4"/><circle cx="169.2" cy="152.3" r="2.4"/><circle cx="119.9" cy="160.0" r="2.4"/><circle cx="85.7" cy="158.8" r="2.4"/><circle cx="70.7" cy="148.2" r="2.4"/><circle cx="74.4" cy="179.0" r="2.4"/><circle cx="54.4" cy="154.9" r="2.4"/><circle cx="56.9" cy="144.5" r="2.4"/><circle cx="78.4" cy="161.4" r="2.4"/><circle cx="132.0" cy="155.7" r="2.4"/><circle cx="104.4" cy="149.6" r="2.4"/><circle cx="131.3" cy="152.1" r="2.4"/><circle cx="66.0" cy="159.5" r="2.4"/><circle cx="102.0" cy="118.1" r="2.4"/><circle cx="63.3" cy="140.1" r="2.4"/><circle cx="111.7" cy="163.5" r="2.4"/><circle cx="81.7" cy="124.3" r="2.4"/><circle cx="164.8" cy="151.6" r="2.4"/><circle cx="109.8" cy="156.3" r="2.4"/><circle cx="116.6" cy="178.5" r="2.4"/><circle cx="52.0" cy="138.3" r="2.4"/><circle cx="45.7" cy="176.3" r="2.4"/><circle cx="132.1" cy="113.9" r="2.4"/><circle cx="44.6" cy="167.3" r="2.4"/><circle cx="61.9" cy="171.0" r="2.4"/><circle cx="179.2" cy="149.8" r="2.4"/><circle cx="134.3" cy="132.7" r="2.4"/><circle cx="132.3" cy="169.7" r="2.4"/><circle cx="84.4" cy="171.2" r="2.4"/><circle cx="139.0" cy="153.9" r="2.4"/><circle cx="130.1" cy="148.4" r="2.4"/><circle cx="142.6" cy="158.5" r="2.4"/><circle cx="109.3" cy="137.1" r="2.4"/><circle cx="163.3" cy="169.3" r="2.4"/><circle cx="158.2" cy="151.6" r="2.4"/><circle cx="82.7" cy="128.1" r="2.4"/><circle cx="96.2" cy="177.2" r="2.4"/><circle cx="171.3" cy="137.7" r="2.4"/><circle cx="110.5" cy="161.8" r="2.4"/><circle cx="44.5" cy="166.5" r="2.4"/><circle cx="90.7" cy="132.1" r="2.4"/><circle cx="157.8" cy="142.7" r="2.4"/><circle cx="138.5" cy="117.5" r="2.4"/><circle cx="142.8" cy="122.8" r="2.4"/><circle cx="104.2" cy="163.7" r="2.4"/><circle cx="51.5" cy="167.3" r="2.4"/><circle cx="121.1" cy="118.7" r="2.4"/><circle cx="57.8" cy="152.7" r="2.4"/><circle cx="162.4" cy="161.5" r="2.4"/><circle cx="158.9" cy="161.0" r="2.4"/><circle cx="86.4" cy="170.1" r="2.4"/><circle cx="66.9" cy="174.1" r="2.4"/><circle cx="68.0" cy="142.1" r="2.4"/><circle cx="155.9" cy="148.5" r="2.4"/><circle cx="78.6" cy="176.2" r="2.4"/><circle cx="128.6" cy="133.0" r="2.4"/><circle cx="55.7" cy="147.0" r="2.4"/><circle cx="163.5" cy="158.4" r="2.4"/><circle cx="138.7" cy="158.5" r="2.4"/><circle cx="123.8" cy="118.0" r="2.4"/><circle cx="129.8" cy="137.7" r="2.4"/><circle cx="50.3" cy="152.8" r="2.4"/><circle cx="68.5" cy="161.5" r="2.4"/><circle cx="62.5" cy="142.6" r="2.4"/><circle cx="46.0" cy="163.8" r="2.4"/><circle cx="133.3" cy="161.6" r="2.4"/><circle cx="106.5" cy="165.2" r="2.4"/><circle cx="56.3" cy="125.1" r="2.4"/><circle cx="107.8" cy="174.4" r="2.4"/><circle cx="44.1" cy="178.5" r="2.4"/><circle cx="102.2" cy="145.5" r="2.4"/><circle cx="123.8" cy="170.9" r="2.4"/><circle cx="158.4" cy="133.6" r="2.4"/><circle cx="44.9" cy="155.6" r="2.4"/><circle cx="141.1" cy="159.9" r="2.4"/><circle cx="172.6" cy="164.8" r="2.4"/><circle cx="120.1" cy="168.9" r="2.4"/><circle cx="114.8" cy="158.1" r="2.4"/><circle cx="114.3" cy="151.5" r="2.4"/><circle cx="154.1" cy="165.9" r="2.4"/><circle cx="120.2" cy="162.2" r="2.4"/><circle cx="143.0" cy="145.5" r="2.4"/><circle cx="115.6" cy="169.7" r="2.4"/><circle cx="78.4" cy="147.5" r="2.4"/><circle cx="130.6" cy="129.1" r="2.4"/><circle cx="90.4" cy="154.6" r="2.4"/><circle cx="82.8" cy="174.4" r="2.4"/><circle cx="126.8" cy="164.4" r="2.4"/><circle cx="187.5" cy="159.3" r="2.4"/><circle cx="75.8" cy="134.8" r="2.4"/><circle cx="83.0" cy="139.9" r="2.4"/><circle cx="92.8" cy="136.4" r="2.4"/><circle cx="76.3" cy="153.4" r="2.4"/><circle cx="100.7" cy="156.7" r="2.4"/><circle cx="47.9" cy="152.0" r="2.4"/><circle cx="170.1" cy="138.8" r="2.4"/><circle cx="169.0" cy="112.6" r="2.4"/><circle cx="177.6" cy="156.7" r="2.4"/><circle cx="87.0" cy="149.3" r="2.4"/><circle cx="141.3" cy="163.0" r="2.4"/><circle cx="128.9" cy="147.0" r="2.4"/><circle cx="93.6" cy="167.1" r="2.4"/><circle cx="90.9" cy="153.6" r="2.4"/><circle cx="167.5" cy="143.4" r="2.4"/><circle cx="70.9" cy="159.7" r="2.4"/><circle cx="58.8" cy="171.5" r="2.4"/><circle cx="153.1" cy="158.1" r="2.4"/><circle cx="84.0" cy="153.7" r="2.4"/><circle cx="125.5" cy="139.3" r="2.4"/><circle cx="88.0" cy="141.5" r="2.4"/><circle cx="141.9" cy="168.8" r="2.4"/><circle cx="70.0" cy="161.0" r="2.4"/><circle cx="46.5" cy="172.7" r="2.4"/><circle cx="173.9" cy="144.5" r="2.4"/><circle cx="65.9" cy="141.3" r="2.4"/><circle cx="112.6" cy="148.4" r="2.4"/><circle cx="121.0" cy="177.3" r="2.4"/><circle cx="168.1" cy="156.4" r="2.4"/><circle cx="45.6" cy="177.5" r="2.4"/><circle cx="57.1" cy="160.3" r="2.4"/><circle cx="70.9" cy="172.4" r="2.4"/><circle cx="134.4" cy="160.8" r="2.4"/><circle cx="120.3" cy="156.6" r="2.4"/><circle cx="57.5" cy="147.4" r="2.4"/><circle cx="63.3" cy="157.1" r="2.4"/><circle cx="117.1" cy="167.6" r="2.4"/><circle cx="97.6" cy="174.6" r="2.4"/><circle cx="73.4" cy="123.7" r="2.4"/><circle cx="112.4" cy="142.5" r="2.4"/><circle cx="93.2" cy="115.9" r="2.4"/><circle cx="104.2" cy="109.2" r="2.4"/><circle cx="194.8" cy="163.7" r="2.4"/><circle cx="84.5" cy="129.4" r="2.4"/><circle cx="87.8" cy="169.7" r="2.4"/><circle cx="107.2" cy="112.9" r="2.4"/><circle cx="88.1" cy="119.8" r="2.4"/><circle cx="115.5" cy="176.6" r="2.4"/><circle cx="136.0" cy="169.0" r="2.4"/><circle cx="177.5" cy="158.4" r="2.4"/><circle cx="146.6" cy="161.9" r="2.4"/><circle cx="78.4" cy="170.4" r="2.4"/><circle cx="79.7" cy="169.2" r="2.4"/><circle cx="91.3" cy="170.7" r="2.4"/><circle cx="53.2" cy="166.9" r="2.4"/><circle cx="116.8" cy="149.5" r="2.4"/><circle cx="77.5" cy="149.2" r="2.4"/><circle cx="113.3" cy="174.6" r="2.4"/><circle cx="61.1" cy="172.5" r="2.4"/><circle cx="69.4" cy="161.3" r="2.4"/><circle cx="114.0" cy="124.9" r="2.4"/><circle cx="102.3" cy="177.8" r="2.4"/><circle cx="91.9" cy="177.6" r="2.4"/><circle cx="95.6" cy="146.9" r="2.4"/><circle cx="144.3" cy="139.3" r="2.4"/><circle cx="116.4" cy="171.1" r="2.4"/><circle cx="44.2" cy="173.6" r="2.4"/><circle cx="115.9" cy="142.9" r="2.4"/><circle cx="91.8" cy="144.2" r="2.4"/><circle cx="84.9" cy="171.6" r="2.4"/><circle cx="74.0" cy="123.2" r="2.4"/><circle cx="88.0" cy="141.4" r="2.4"/><circle cx="77.1" cy="176.7" r="2.4"/><circle cx="97.4" cy="169.8" r="2.4"/><circle cx="180.2" cy="146.7" r="2.4"/><circle cx="112.9" cy="154.1" r="2.4"/><circle cx="71.8" cy="178.5" r="2.4"/><circle cx="129.4" cy="162.5" r="2.4"/><circle cx="58.4" cy="170.9" r="2.4"/><circle cx="109.1" cy="154.9" r="2.4"/><circle cx="94.8" cy="155.7" r="2.4"/><circle cx="145.3" cy="173.7" r="2.4"/><circle cx="75.3" cy="136.0" r="2.4"/><circle cx="53.1" cy="160.2" r="2.4"/><circle cx="138.6" cy="165.4" r="2.4"/><circle cx="61.7" cy="169.6" r="2.4"/><circle cx="185.2" cy="153.4" r="2.4"/><circle cx="87.2" cy="158.3" r="2.4"/><circle cx="69.5" cy="167.1" r="2.4"/><circle cx="85.9" cy="159.4" r="2.4"/><circle cx="65.0" cy="129.7" r="2.4"/><circle cx="177.3" cy="162.3" r="2.4"/><circle cx="61.0" cy="156.3" r="2.4"/><circle cx="146.0" cy="172.9" r="2.4"/><circle cx="58.4" cy="164.1" r="2.4"/><circle cx="106.7" cy="133.2" r="2.4"/><circle cx="83.2" cy="168.3" r="2.4"/><circle cx="99.3" cy="122.9" r="2.4"/><circle cx="70.6" cy="163.1" r="2.4"/><circle cx="179.6" cy="135.9" r="2.4"/><circle cx="44.6" cy="176.9" r="2.4"/><circle cx="125.6" cy="176.3" r="2.4"/><circle cx="52.5" cy="146.0" r="2.4"/><circle cx="173.3" cy="153.5" r="2.4"/><circle cx="53.4" cy="168.2" r="2.4"/><circle cx="97.4" cy="170.9" r="2.4"/><circle cx="123.1" cy="164.9" r="2.4"/><circle cx="71.3" cy="167.2" r="2.4"/><circle cx="96.4" cy="133.0" r="2.4"/><circle cx="135.7" cy="160.7" r="2.4"/><circle cx="49.2" cy="155.1" r="2.4"/><circle cx="53.0" cy="162.5" r="2.4"/><circle cx="128.1" cy="142.5" r="2.4"/><circle cx="95.8" cy="132.9" r="2.4"/><circle cx="165.8" cy="142.8" r="2.4"/><circle cx="160.3" cy="146.3" r="2.4"/><circle cx="87.2" cy="175.9" r="2.4"/><circle cx="117.5" cy="139.9" r="2.4"/><circle cx="144.7" cy="110.1" r="2.4"/><circle cx="158.9" cy="143.9" r="2.4"/><circle cx="163.4" cy="162.7" r="2.4"/><circle cx="155.4" cy="160.0" r="2.4"/><circle cx="69.4" cy="171.8" r="2.4"/><circle cx="134.9" cy="177.0" r="2.4"/><circle cx="88.1" cy="151.2" r="2.4"/><circle cx="63.8" cy="171.8" r="2.4"/><circle cx="179.7" cy="137.9" r="2.4"/><circle cx="80.5" cy="166.4" r="2.4"/><circle cx="68.8" cy="177.2" r="2.4"/><circle cx="45.4" cy="176.2" r="2.4"/><circle cx="81.2" cy="172.8" r="2.4"/><circle cx="124.7" cy="143.0" r="2.4"/><circle cx="162.0" cy="168.1" r="2.4"/><circle cx="157.4" cy="174.6" r="2.4"/><circle cx="84.9" cy="129.3" r="2.4"/><circle cx="61.1" cy="171.7" r="2.4"/><circle cx="47.5" cy="150.9" r="2.4"/><circle cx="44.6" cy="173.3" r="2.4"/><circle cx="116.7" cy="174.0" r="2.4"/><circle cx="83.8" cy="156.1" r="2.4"/><circle cx="95.6" cy="165.3" r="2.4"/><circle cx="51.9" cy="142.5" r="2.4"/><circle cx="90.7" cy="138.8" r="2.4"/><circle cx="67.7" cy="152.7" r="2.4"/><circle cx="114.3" cy="166.1" r="2.4"/><circle cx="139.9" cy="163.3" r="2.4"/><circle cx="156.4" cy="155.2" r="2.4"/><circle cx="126.5" cy="111.9" r="2.4"/><circle cx="148.2" cy="179.0" r="2.4"/><circle cx="121.7" cy="178.5" r="2.4"/><circle cx="71.2" cy="148.0" r="2.4"/><circle cx="162.0" cy="151.4" r="2.4"/><circle cx="131.4" cy="164.5" r="2.4"/><circle cx="118.3" cy="162.6" r="2.4"/><circle cx="118.1" cy="150.2" r="2.4"/><circle cx="117.4" cy="151.2" r="2.4"/><circle cx="132.6" cy="131.9" r="2.4"/><circle cx="137.6" cy="150.5" r="2.4"/><circle cx="109.9" cy="175.3" r="2.4"/><circle cx="185.4" cy="151.2" r="2.4"/><circle cx="133.1" cy="157.4" r="2.4"/><circle cx="92.9" cy="136.8" r="2.4"/><circle cx="176.1" cy="162.6" r="2.4"/><circle cx="134.6" cy="101.5" r="2.4"/><circle cx="102.9" cy="178.4" r="2.4"/><circle cx="91.5" cy="174.2" r="2.4"/><circle cx="124.5" cy="179.2" r="2.4"/><circle cx="85.5" cy="160.1" r="2.4"/><circle cx="150.5" cy="121.5" r="2.4"/><circle cx="165.3" cy="129.9" r="2.4"/><circle cx="105.9" cy="161.2" r="2.4"/><circle cx="89.7" cy="142.4" r="2.4"/><circle cx="107.9" cy="129.5" r="2.4"/><circle cx="47.8" cy="162.6" r="2.4"/><circle cx="124.7" cy="138.2" r="2.4"/><circle cx="60.2" cy="170.2" r="2.4"/><circle cx="76.0" cy="107.6" r="2.4"/><circle cx="138.4" cy="168.7" r="2.4"/><circle cx="125.7" cy="147.7" r="2.4"/><circle cx="47.5" cy="175.3" r="2.4"/><circle cx="106.2" cy="141.6" r="2.4"/><circle cx="125.5" cy="157.2" r="2.4"/><circle cx="100.8" cy="120.9" r="2.4"/><circle cx="143.4" cy="174.1" r="2.4"/><circle cx="123.7" cy="177.6" r="2.4"/><circle cx="143.6" cy="141.2" r="2.4"/><circle cx="45.2" cy="169.4" r="2.4"/><circle cx="170.8" cy="163.5" r="2.4"/><circle cx="157.5" cy="132.6" r="2.4"/><circle cx="126.1" cy="171.0" r="2.4"/><circle cx="59.3" cy="153.3" r="2.4"/><circle cx="72.3" cy="168.6" r="2.4"/><circle cx="64.0" cy="156.7" r="2.4"/><circle cx="74.5" cy="163.2" r="2.4"/><circle cx="75.7" cy="175.7" r="2.4"/><circle cx="114.8" cy="166.8" r="2.4"/><circle cx="87.2" cy="131.9" r="2.4"/><circle cx="113.0" cy="174.0" r="2.4"/><circle cx="127.5" cy="177.5" r="2.4"/><circle cx="70.3" cy="151.2" r="2.4"/><circle cx="64.2" cy="165.1" r="2.4"/><circle cx="84.9" cy="137.2" r="2.4"/><circle cx="59.7" cy="165.0" r="2.4"/><circle cx="159.0" cy="159.3" r="2.4"/><circle cx="69.5" cy="149.2" r="2.4"/><circle cx="148.2" cy="166.2" r="2.4"/><circle cx="162.9" cy="162.1" r="2.4"/><circle cx="155.9" cy="162.8" r="2.4"/><circle cx="162.0" cy="165.0" r="2.4"/><circle cx="116.2" cy="176.8" r="2.4"/><circle cx="120.4" cy="145.7" r="2.4"/><circle cx="151.0" cy="164.4" r="2.4"/><circle cx="97.5" cy="177.2" r="2.4"/><circle cx="76.4" cy="123.1" r="2.4"/><circle cx="86.7" cy="171.8" r="2.4"/><circle cx="172.2" cy="153.2" r="2.4"/><circle cx="47.1" cy="175.8" r="2.4"/><circle cx="125.7" cy="153.4" r="2.4"/><circle cx="105.3" cy="155.9" r="2.4"/><circle cx="70.0" cy="167.6" r="2.4"/><circle cx="127.2" cy="178.5" r="2.4"/><circle cx="111.7" cy="164.7" r="2.4"/><circle cx="158.2" cy="127.3" r="2.4"/><circle cx="83.8" cy="164.5" r="2.4"/><circle cx="61.2" cy="166.8" r="2.4"/><circle cx="63.9" cy="126.1" r="2.4"/><circle cx="128.8" cy="157.1" r="2.4"/><circle cx="95.4" cy="139.1" r="2.4"/><circle cx="130.4" cy="175.1" r="2.4"/><circle cx="120.9" cy="158.9" r="2.4"/><circle cx="53.5" cy="156.3" r="2.4"/><circle cx="148.7" cy="121.4" r="2.4"/><circle cx="69.4" cy="162.4" r="2.4"/><circle cx="86.0" cy="174.8" r="2.4"/><circle cx="193.3" cy="172.7" r="2.4"/><circle cx="160.5" cy="141.5" r="2.4"/><circle cx="54.8" cy="170.7" r="2.4"/><circle cx="58.3" cy="132.0" r="2.4"/><circle cx="117.0" cy="149.5" r="2.4"/><circle cx="88.5" cy="158.4" r="2.4"/><circle cx="91.0" cy="113.5" r="2.4"/><circle cx="121.2" cy="169.9" r="2.4"/><circle cx="49.4" cy="175.8" r="2.4"/><circle cx="65.8" cy="135.9" r="2.4"/><circle cx="152.3" cy="162.2" r="2.4"/><circle cx="60.1" cy="149.4" r="2.4"/><circle cx="166.2" cy="152.1" r="2.4"/><circle cx="51.9" cy="171.1" r="2.4"/><circle cx="182.0" cy="155.2" r="2.4"/><circle cx="77.7" cy="167.5" r="2.4"/><circle cx="130.5" cy="112.2" r="2.4"/><circle cx="153.7" cy="164.7" r="2.4"/><circle cx="102.5" cy="150.4" r="2.4"/><circle cx="179.9" cy="155.9" r="2.4"/><circle cx="167.4" cy="164.1" r="2.4"/><circle cx="182.7" cy="159.9" r="2.4"/><circle cx="62.9" cy="170.2" r="2.4"/><circle cx="118.4" cy="144.3" r="2.4"/><circle cx="109.7" cy="149.1" r="2.4"/><circle cx="106.1" cy="177.5" r="2.4"/><circle cx="146.2" cy="121.8" r="2.4"/><circle cx="76.2" cy="169.3" r="2.4"/><circle cx="56.1" cy="153.1" r="2.4"/><circle cx="132.7" cy="173.7" r="2.4"/><circle cx="104.9" cy="124.5" r="2.4"/><circle cx="107.5" cy="155.3" r="2.4"/><circle cx="150.7" cy="171.5" r="2.4"/><circle cx="131.0" cy="143.4" r="2.4"/><circle cx="104.1" cy="145.7" r="2.4"/><circle cx="77.6" cy="150.3" r="2.4"/><circle cx="139.2" cy="167.3" r="2.4"/><circle cx="155.2" cy="135.8" r="2.4"/><circle cx="94.7" cy="163.2" r="2.4"/><circle cx="62.6" cy="175.6" r="2.4"/><circle cx="140.3" cy="171.5" r="2.4"/><circle cx="128.1" cy="149.3" r="2.4"/><circle cx="112.8" cy="151.6" r="2.4"/><circle cx="122.7" cy="171.8" r="2.4"/><circle cx="82.7" cy="163.6" r="2.4"/><circle cx="47.6" cy="176.9" r="2.4"/><circle cx="131.3" cy="140.8" r="2.4"/><circle cx="54.9" cy="174.5" r="2.4"/><circle cx="53.1" cy="171.8" r="2.4"/><circle cx="56.8" cy="177.5" r="2.4"/><circle cx="152.9" cy="147.2" r="2.4"/><circle cx="170.4" cy="157.5" r="2.4"/><circle cx="157.7" cy="172.9" r="2.4"/><circle cx="180.2" cy="150.2" r="2.4"/><circle cx="111.5" cy="171.5" r="2.4"/><circle cx="184.4" cy="159.0" r="2.4"/><circle cx="67.2" cy="161.5" r="2.4"/><circle cx="153.9" cy="154.4" r="2.4"/><circle cx="156.3" cy="161.9" r="2.4"/><circle cx="152.7" cy="160.4" r="2.4"/><circle cx="114.1" cy="138.6" r="2.4"/><circle cx="106.4" cy="169.4" r="2.4"/><circle cx="183.3" cy="162.7" r="2.4"/><circle cx="172.7" cy="119.6" r="2.4"/><circle cx="114.0" cy="167.5" r="2.4"/><circle cx="67.6" cy="134.2" r="2.4"/><circle cx="143.9" cy="126.0" r="2.4"/><circle cx="160.2" cy="136.3" r="2.4"/><circle cx="114.2" cy="148.4" r="2.4"/><circle cx="51.8" cy="167.7" r="2.4"/><circle cx="150.2" cy="172.2" r="2.4"/><circle cx="123.1" cy="157.2" r="2.4"/><circle cx="166.3" cy="157.8" r="2.4"/><circle cx="119.0" cy="170.3" r="2.4"/><circle cx="162.0" cy="166.2" r="2.4"/><circle cx="109.6" cy="167.7" r="2.4"/><circle cx="90.7" cy="166.8" r="2.4"/><circle cx="152.5" cy="169.8" r="2.4"/><circle cx="72.1" cy="178.4" r="2.4"/><circle cx="65.8" cy="135.4" r="2.4"/><circle cx="173.1" cy="153.1" r="2.4"/><circle cx="48.0" cy="178.0" r="2.4"/><circle cx="137.8" cy="171.7" r="2.4"/><circle cx="172.6" cy="152.4" r="2.4"/><circle cx="128.6" cy="168.4" r="2.4"/><circle cx="56.3" cy="152.3" r="2.4"/><circle cx="167.7" cy="160.8" r="2.4"/><circle cx="87.9" cy="175.6" r="2.4"/><circle cx="83.3" cy="116.7" r="2.4"/><circle cx="153.3" cy="171.7" r="2.4"/><circle cx="62.4" cy="149.8" r="2.4"/><circle cx="53.3" cy="148.1" r="2.4"/><circle cx="181.9" cy="143.8" r="2.4"/><circle cx="128.7" cy="149.6" r="2.4"/><circle cx="146.6" cy="164.9" r="2.4"/><circle cx="81.9" cy="165.6" r="2.4"/><circle cx="177.1" cy="151.9" r="2.4"/><circle cx="95.4" cy="142.3" r="2.4"/><circle cx="52.7" cy="175.9" r="2.4"/><circle cx="127.4" cy="177.8" r="2.4"/><circle cx="126.1" cy="176.4" r="2.4"/><circle cx="150.0" cy="123.6" r="2.4"/><circle cx="44.5" cy="165.5" r="2.4"/><circle cx="65.1" cy="174.6" r="2.4"/><circle cx="109.8" cy="150.5" r="2.4"/><circle cx="87.7" cy="141.1" r="2.4"/><circle cx="163.5" cy="169.5" r="2.4"/><circle cx="124.6" cy="141.5" r="2.4"/><circle cx="71.1" cy="165.8" r="2.4"/><circle cx="118.5" cy="116.3" r="2.4"/><circle cx="131.5" cy="170.4" r="2.4"/><circle cx="63.8" cy="145.1" r="2.4"/><circle cx="172.7" cy="163.3" r="2.4"/><circle cx="121.4" cy="143.2" r="2.4"/><circle cx="140.6" cy="176.8" r="2.4"/><circle cx="92.0" cy="178.0" r="2.4"/><circle cx="99.6" cy="161.8" r="2.4"/><circle cx="90.6" cy="137.8" r="2.4"/><circle cx="149.2" cy="169.8" r="2.4"/><circle cx="113.8" cy="142.2" r="2.4"/><circle cx="175.3" cy="160.7" r="2.4"/><circle cx="167.8" cy="151.1" r="2.4"/><circle cx="174.1" cy="147.3" r="2.4"/><circle cx="139.7" cy="148.0" r="2.4"/><circle cx="96.1" cy="147.2" r="2.4"/><circle cx="144.9" cy="140.4" r="2.4"/><circle cx="141.9" cy="114.3" r="2.4"/><circle cx="147.7" cy="172.5" r="2.4"/><circle cx="66.9" cy="159.2" r="2.4"/><circle cx="73.9" cy="178.3" r="2.4"/><circle cx="105.6" cy="143.9" r="2.4"/><circle cx="89.1" cy="158.6" r="2.4"/><circle cx="115.1" cy="145.5" r="2.4"/><circle cx="71.4" cy="141.3" r="2.4"/><circle cx="60.9" cy="166.9" r="2.4"/><circle cx="146.8" cy="150.5" r="2.4"/><circle cx="104.9" cy="176.5" r="2.4"/><circle cx="153.5" cy="171.0" r="2.4"/><circle cx="77.7" cy="178.0" r="2.4"/><circle cx="125.7" cy="126.0" r="2.4"/><circle cx="179.6" cy="151.8" r="2.4"/><circle cx="158.9" cy="143.4" r="2.4"/><circle cx="139.5" cy="158.7" r="2.4"/><circle cx="83.3" cy="145.3" r="2.4"/><circle cx="171.9" cy="165.4" r="2.4"/><circle cx="111.8" cy="140.5" r="2.4"/><circle cx="66.8" cy="119.8" r="2.4"/><circle cx="117.8" cy="176.3" r="2.4"/><circle cx="163.1" cy="143.0" r="2.4"/><circle cx="86.5" cy="137.4" r="2.4"/><circle cx="97.8" cy="164.2" r="2.4"/><circle cx="184.1" cy="160.1" r="2.4"/><circle cx="74.9" cy="173.5" r="2.4"/><circle cx="110.1" cy="164.6" r="2.4"/><circle cx="114.7" cy="143.5" r="2.4"/><circle cx="147.0" cy="141.4" r="2.4"/><circle cx="59.8" cy="178.9" r="2.4"/><circle cx="108.0" cy="133.9" r="2.4"/><circle cx="69.0" cy="131.6" r="2.4"/><circle cx="163.9" cy="161.8" r="2.4"/><circle cx="98.1" cy="167.2" r="2.4"/><circle cx="68.6" cy="160.3" r="2.4"/><circle cx="100.4" cy="150.7" r="2.4"/><circle cx="77.9" cy="135.8" r="2.4"/><circle cx="85.1" cy="174.5" r="2.4"/><circle cx="130.6" cy="117.1" r="2.4"/><circle cx="160.4" cy="171.1" r="2.4"/><circle cx="120.2" cy="156.3" r="2.4"/><circle cx="74.5" cy="128.4" r="2.4"/><circle cx="152.7" cy="164.5" r="2.4"/><circle cx="119.4" cy="165.8" r="2.4"/><circle cx="150.4" cy="141.8" r="2.4"/><circle cx="113.8" cy="167.4" r="2.4"/><circle cx="136.1" cy="169.3" r="2.4"/><circle cx="48.8" cy="179.4" r="2.4"/><circle cx="133.2" cy="124.5" r="2.4"/><circle cx="51.4" cy="167.9" r="2.4"/><circle cx="63.5" cy="121.0" r="2.4"/><circle cx="127.1" cy="153.8" r="2.4"/><circle cx="72.0" cy="173.2" r="2.4"/><circle cx="96.2" cy="170.3" r="2.4"/><circle cx="51.2" cy="150.7" r="2.4"/><circle cx="123.8" cy="153.9" r="2.4"/><circle cx="75.7" cy="173.7" r="2.4"/><circle cx="100.2" cy="176.1" r="2.4"/><circle cx="132.4" cy="165.3" r="2.4"/><circle cx="163.0" cy="135.5" r="2.4"/><circle cx="60.5" cy="162.0" r="2.4"/><circle cx="113.9" cy="173.1" r="2.4"/><circle cx="170.0" cy="149.2" r="2.4"/><circle cx="159.1" cy="160.6" r="2.4"/><circle cx="164.9" cy="136.6" r="2.4"/><circle cx="98.7" cy="149.9" r="2.4"/><circle cx="141.6" cy="165.9" r="2.4"/><circle cx="109.3" cy="152.9" r="2.4"/><circle cx="118.3" cy="172.7" r="2.4"/><circle cx="182.2" cy="155.4" r="2.4"/><circle cx="98.6" cy="166.3" r="2.4"/><circle cx="46.8" cy="149.8" r="2.4"/><circle cx="46.3" cy="176.3" r="2.4"/><circle cx="83.0" cy="131.6" r="2.4"/><circle cx="105.8" cy="167.7" r="2.4"/><circle cx="123.3" cy="176.9" r="2.4"/><circle cx="87.5" cy="160.4" r="2.4"/><circle cx="102.0" cy="148.5" r="2.4"/><circle cx="104.2" cy="130.9" r="2.4"/><circle cx="46.9" cy="167.1" r="2.4"/><circle cx="93.4" cy="147.8" r="2.4"/><circle cx="94.5" cy="116.8" r="2.4"/><circle cx="99.1" cy="179.3" r="2.4"/><circle cx="126.2" cy="161.8" r="2.4"/><circle cx="63.7" cy="173.9" r="2.4"/><circle cx="106.7" cy="145.5" r="2.4"/><circle cx="94.5" cy="141.4" r="2.4"/><circle cx="166.1" cy="128.5" r="2.4"/><circle cx="85.6" cy="117.6" r="2.4"/><circle cx="131.1" cy="168.1" r="2.4"/><circle cx="46.3" cy="164.1" r="2.4"/><circle cx="109.7" cy="134.1" r="2.4"/><circle cx="123.9" cy="136.5" r="2.4"/><circle cx="137.5" cy="131.1" r="2.4"/><circle cx="108.9" cy="144.1" r="2.4"/><circle cx="120.9" cy="169.2" r="2.4"/><circle cx="48.4" cy="158.4" r="2.4"/><circle cx="49.5" cy="153.2" r="2.4"/><circle cx="98.4" cy="160.0" r="2.4"/><circle cx="138.7" cy="153.8" r="2.4"/><circle cx="94.1" cy="133.2" r="2.4"/><circle cx="64.3" cy="121.5" r="2.4"/><circle cx="66.2" cy="161.6" r="2.4"/><circle cx="64.0" cy="143.9" r="2.4"/><circle cx="96.3" cy="170.6" r="2.4"/><circle cx="121.3" cy="147.5" r="2.4"/><circle cx="194.5" cy="159.5" r="2.4"/><circle cx="78.8" cy="165.5" r="2.4"/><circle cx="177.6" cy="134.9" r="2.4"/><circle cx="79.5" cy="141.8" r="2.4"/><circle cx="98.2" cy="140.1" r="2.4"/><circle cx="74.8" cy="167.2" r="2.4"/><circle cx="119.2" cy="129.5" r="2.4"/><circle cx="55.5" cy="145.7" r="2.4"/><circle cx="140.6" cy="138.8" r="2.4"/><circle cx="169.3" cy="152.2" r="2.4"/><circle cx="154.6" cy="141.6" r="2.4"/><circle cx="184.9" cy="151.5" r="2.4"/><circle cx="127.6" cy="125.2" r="2.4"/><circle cx="96.5" cy="106.1" r="2.4"/><circle cx="55.1" cy="170.5" r="2.4"/><circle cx="114.5" cy="178.7" r="2.4"/><circle cx="138.8" cy="156.1" r="2.4"/><circle cx="43.8" cy="172.2" r="2.4"/><circle cx="76.0" cy="165.2" r="2.4"/><circle cx="54.1" cy="145.1" r="2.4"/><circle cx="64.3" cy="172.2" r="2.4"/><circle cx="73.3" cy="164.6" r="2.4"/><circle cx="155.5" cy="164.9" r="2.4"/><circle cx="49.0" cy="149.9" r="2.4"/><circle cx="131.2" cy="171.3" r="2.4"/><circle cx="117.5" cy="139.9" r="2.4"/><circle cx="142.2" cy="107.8" r="2.4"/><circle cx="159.3" cy="152.4" r="2.4"/><circle cx="55.0" cy="159.4" r="2.4"/><circle cx="143.6" cy="171.3" r="2.4"/><circle cx="147.9" cy="159.4" r="2.4"/><circle cx="170.1" cy="148.9" r="2.4"/><circle cx="163.2" cy="168.4" r="2.4"/><circle cx="46.2" cy="171.8" r="2.4"/><circle cx="106.2" cy="130.0" r="2.4"/><circle cx="110.6" cy="166.6" r="2.4"/><circle cx="145.7" cy="145.7" r="2.4"/><circle cx="124.4" cy="145.7" r="2.4"/><circle cx="151.6" cy="153.6" r="2.4"/><circle cx="175.2" cy="155.3" r="2.4"/><circle cx="178.9" cy="159.0" r="2.4"/><circle cx="122.9" cy="141.2" r="2.4"/><circle cx="142.3" cy="177.4" r="2.4"/><circle cx="92.6" cy="157.1" r="2.4"/><circle cx="175.1" cy="138.3" r="2.4"/><circle cx="136.7" cy="130.2" r="2.4"/><circle cx="133.4" cy="152.0" r="2.4"/><circle cx="132.4" cy="123.8" r="2.4"/><circle cx="168.3" cy="167.7" r="2.4"/><circle cx="161.1" cy="142.8" r="2.4"/><circle cx="71.5" cy="171.3" r="2.4"/><circle cx="48.3" cy="155.1" r="2.4"/><circle cx="81.3" cy="131.2" r="2.4"/><circle cx="127.3" cy="158.0" r="2.4"/><circle cx="106.3" cy="163.9" r="2.4"/><circle cx="103.9" cy="150.3" r="2.4"/><circle cx="90.5" cy="170.8" r="2.4"/><circle cx="126.5" cy="172.0" r="2.4"/><circle cx="63.3" cy="162.4" r="2.4"/><circle cx="75.5" cy="156.6" r="2.4"/><circle cx="144.0" cy="161.6" r="2.4"/><circle cx="161.9" cy="142.2" r="2.4"/><circle cx="88.8" cy="129.0" r="2.4"/><circle cx="110.0" cy="125.4" r="2.4"/><circle cx="136.6" cy="159.6" r="2.4"/><circle cx="62.0" cy="175.1" r="2.4"/><circle cx="179.9" cy="150.3" r="2.4"/><circle cx="116.4" cy="165.5" r="2.4"/><circle cx="107.0" cy="158.2" r="2.4"/><circle cx="52.2" cy="178.3" r="2.4"/><circle cx="74.7" cy="155.5" r="2.4"/><circle cx="141.4" cy="177.3" r="2.4"/><circle cx="70.5" cy="141.3" r="2.4"/><circle cx="130.1" cy="143.2" r="2.4"/><circle cx="88.0" cy="176.1" r="2.4"/><circle cx="44.2" cy="174.7" r="2.4"/><circle cx="55.7" cy="164.0" r="2.4"/><circle cx="50.8" cy="178.2" r="2.4"/><circle cx="107.2" cy="169.6" r="2.4"/><circle cx="53.1" cy="165.0" r="2.4"/><circle cx="129.4" cy="166.5" r="2.4"/><circle cx="187.4" cy="163.5" r="2.4"/><circle cx="101.8" cy="154.2" r="2.4"/><circle cx="127.1" cy="164.7" r="2.4"/><circle cx="127.2" cy="142.0" r="2.4"/><circle cx="142.7" cy="147.1" r="2.4"/><circle cx="144.0" cy="126.1" r="2.4"/><circle cx="133.8" cy="156.9" r="2.4"/><circle cx="98.4" cy="163.7" r="2.4"/><circle cx="144.0" cy="140.8" r="2.4"/><circle cx="165.7" cy="144.3" r="2.4"/><circle cx="112.5" cy="160.8" r="2.4"/><circle cx="64.1" cy="142.2" r="2.4"/><circle cx="101.3" cy="174.5" r="2.4"/><circle cx="174.0" cy="164.2" r="2.4"/><circle cx="103.0" cy="125.2" r="2.4"/><circle cx="117.7" cy="119.2" r="2.4"/><circle cx="64.5" cy="173.0" r="2.4"/><circle cx="74.4" cy="146.1" r="2.4"/><circle cx="165.1" cy="168.2" r="2.4"/><circle cx="61.1" cy="164.1" r="2.4"/><circle cx="83.4" cy="165.9" r="2.4"/><circle cx="87.0" cy="143.6" r="2.4"/><circle cx="124.0" cy="170.1" r="2.4"/><circle cx="138.2" cy="151.6" r="2.4"/><circle cx="85.3" cy="173.4" r="2.4"/><circle cx="57.7" cy="161.9" r="2.4"/><circle cx="115.3" cy="153.3" r="2.4"/><circle cx="126.9" cy="140.0" r="2.4"/><circle cx="160.2" cy="142.9" r="2.4"/><circle cx="72.7" cy="145.0" r="2.4"/><circle cx="176.7" cy="153.7" r="2.4"/><circle cx="102.9" cy="132.8" r="2.4"/><circle cx="54.3" cy="159.9" r="2.4"/><circle cx="179.4" cy="155.8" r="2.4"/><circle cx="67.3" cy="169.4" r="2.4"/><circle cx="77.5" cy="142.2" r="2.4"/><circle cx="153.5" cy="148.1" r="2.4"/><circle cx="91.2" cy="138.7" r="2.4"/><circle cx="123.5" cy="165.0" r="2.4"/><circle cx="155.6" cy="160.6" r="2.4"/><circle cx="60.7" cy="145.3" r="2.4"/><circle cx="75.8" cy="149.0" r="2.4"/><circle cx="130.8" cy="160.4" r="2.4"/><circle cx="138.4" cy="178.4" r="2.4"/><circle cx="144.8" cy="127.8" r="2.4"/><circle cx="68.7" cy="150.4" r="2.4"/><circle cx="104.4" cy="145.1" r="2.4"/><circle cx="55.1" cy="177.1" r="2.4"/><circle cx="74.9" cy="163.7" r="2.4"/><circle cx="80.6" cy="150.0" r="2.4"/><circle cx="116.5" cy="166.4" r="2.4"/><circle cx="94.7" cy="170.0" r="2.4"/><circle cx="109.5" cy="117.2" r="2.4"/><circle cx="138.5" cy="160.4" r="2.4"/><circle cx="190.1" cy="161.0" r="2.4"/><circle cx="54.1" cy="152.3" r="2.4"/><circle cx="118.0" cy="171.8" r="2.4"/><circle cx="95.0" cy="172.0" r="2.4"/><circle cx="72.4" cy="144.1" r="2.4"/><circle cx="99.3" cy="139.7" r="2.4"/><circle cx="130.3" cy="161.5" r="2.4"/><circle cx="102.3" cy="148.4" r="2.4"/><circle cx="122.4" cy="134.7" r="2.4"/><circle cx="57.9" cy="147.2" r="2.4"/><circle cx="90.1" cy="155.4" r="2.4"/><circle cx="63.0" cy="140.3" r="2.4"/><circle cx="69.2" cy="149.0" r="2.4"/><circle cx="110.0" cy="127.5" r="2.4"/><circle cx="76.7" cy="173.9" r="2.4"/><circle cx="181.7" cy="153.6" r="2.4"/><circle cx="63.4" cy="154.0" r="2.4"/><circle cx="48.9" cy="169.1" r="2.4"/><circle cx="164.3" cy="169.8" r="2.4"/><circle cx="80.6" cy="167.4" r="2.4"/><circle cx="100.0" cy="170.7" r="2.4"/><circle cx="171.5" cy="125.4" r="2.4"/><circle cx="95.4" cy="174.3" r="2.4"/><circle cx="193.6" cy="159.0" r="2.4"/><circle cx="88.6" cy="173.9" r="2.4"/><circle cx="96.4" cy="178.7" r="2.4"/><circle cx="118.6" cy="146.2" r="2.4"/><circle cx="166.6" cy="142.1" r="2.4"/><circle cx="94.6" cy="157.2" r="2.4"/><circle cx="179.7" cy="141.8" r="2.4"/><circle cx="164.5" cy="140.4" r="2.4"/><circle cx="90.3" cy="164.5" r="2.4"/><circle cx="124.4" cy="174.9" r="2.4"/><circle cx="169.2" cy="163.0" r="2.4"/><circle cx="84.6" cy="132.7" r="2.4"/><circle cx="145.2" cy="135.5" r="2.4"/><circle cx="69.2" cy="136.6" r="2.4"/><circle cx="147.9" cy="148.1" r="2.4"/><circle cx="51.4" cy="171.0" r="2.4"/><circle cx="105.2" cy="170.3" r="2.4"/><circle cx="90.2" cy="165.0" r="2.4"/><circle cx="182.5" cy="158.2" r="2.4"/><circle cx="54.8" cy="149.7" r="2.4"/><circle cx="55.9" cy="146.8" r="2.4"/><circle cx="117.4" cy="140.5" r="2.4"/><circle cx="164.2" cy="178.8" r="2.4"/><circle cx="164.0" cy="140.3" r="2.4"/><circle cx="148.8" cy="124.8" r="2.4"/><circle cx="123.1" cy="112.5" r="2.4"/><circle cx="98.6" cy="176.0" r="2.4"/><circle cx="102.7" cy="154.2" r="2.4"/><circle cx="48.2" cy="167.7" r="2.4"/><circle cx="83.9" cy="122.7" r="2.4"/><circle cx="174.2" cy="144.1" r="2.4"/><circle cx="71.5" cy="154.3" r="2.4"/><circle cx="128.7" cy="162.7" r="2.4"/><circle cx="140.2" cy="123.1" r="2.4"/><circle cx="138.3" cy="166.1" r="2.4"/><circle cx="175.3" cy="161.3" r="2.4"/><circle cx="46.5" cy="178.1" r="2.4"/><circle cx="156.5" cy="131.3" r="2.4"/><circle cx="140.3" cy="163.9" r="2.4"/><circle cx="64.6" cy="161.6" r="2.4"/><circle cx="135.3" cy="170.2" r="2.4"/><circle cx="50.9" cy="174.4" r="2.4"/><circle cx="133.6" cy="167.8" r="2.4"/><circle cx="109.1" cy="151.7" r="2.4"/><circle cx="79.9" cy="155.7" r="2.4"/><circle cx="119.9" cy="145.6" r="2.4"/><circle cx="55.1" cy="172.9" r="2.4"/><circle cx="94.2" cy="178.9" r="2.4"/><circle cx="139.0" cy="135.8" r="2.4"/><circle cx="93.5" cy="161.0" r="2.4"/><circle cx="182.2" cy="139.8" r="2.4"/><circle cx="104.5" cy="176.0" r="2.4"/><circle cx="62.5" cy="178.3" r="2.4"/><circle cx="109.1" cy="162.8" r="2.4"/><circle cx="164.7" cy="156.7" r="2.4"/><circle cx="158.5" cy="158.9" r="2.4"/><circle cx="78.0" cy="147.8" r="2.4"/><circle cx="144.6" cy="132.9" r="2.4"/><circle cx="136.4" cy="177.5" r="2.4"/><circle cx="102.3" cy="163.9" r="2.4"/><circle cx="77.4" cy="177.5" r="2.4"/><circle cx="151.4" cy="161.1" r="2.4"/><circle cx="162.9" cy="168.8" r="2.4"/><circle cx="45.8" cy="164.8" r="2.4"/><circle cx="72.9" cy="159.9" r="2.4"/><circle cx="53.9" cy="151.7" r="2.4"/><circle cx="52.8" cy="157.2" r="2.4"/><circle cx="44.4" cy="168.1" r="2.4"/><circle cx="113.8" cy="171.8" r="2.4"/><circle cx="134.9" cy="172.7" r="2.4"/><circle cx="63.0" cy="145.3" r="2.4"/><circle cx="111.2" cy="170.3" r="2.4"/><circle cx="125.3" cy="150.0" r="2.4"/><circle cx="126.6" cy="157.7" r="2.4"/><circle cx="102.1" cy="122.4" r="2.4"/><circle cx="48.8" cy="179.4" r="2.4"/><circle cx="55.0" cy="160.4" r="2.4"/><circle cx="174.5" cy="154.7" r="2.4"/><circle cx="89.8" cy="167.8" r="2.4"/><circle cx="165.2" cy="162.0" r="2.4"/><circle cx="124.3" cy="150.3" r="2.4"/><circle cx="106.0" cy="174.6" r="2.4"/><circle cx="146.2" cy="163.3" r="2.4"/><circle cx="142.7" cy="178.5" r="2.4"/><circle cx="50.8" cy="159.7" r="2.4"/><circle cx="106.5" cy="156.8" r="2.4"/><circle cx="55.5" cy="164.9" r="2.4"/><circle cx="139.5" cy="173.0" r="2.4"/><circle cx="138.2" cy="159.9" r="2.4"/><circle cx="119.3" cy="124.1" r="2.4"/><circle cx="64.6" cy="150.9" r="2.4"/><circle cx="67.1" cy="152.4" r="2.4"/><circle cx="111.2" cy="159.5" r="2.4"/><circle cx="92.6" cy="178.2" r="2.4"/><circle cx="82.6" cy="165.5" r="2.4"/><circle cx="68.4" cy="158.6" r="2.4"/><circle cx="118.2" cy="167.0" r="2.4"/><circle cx="57.5" cy="177.3" r="2.4"/><circle cx="143.8" cy="169.7" r="2.4"/><circle cx="143.6" cy="172.1" r="2.4"/><circle cx="103.8" cy="138.2" r="2.4"/><circle cx="47.6" cy="161.3" r="2.4"/><circle cx="53.0" cy="174.9" r="2.4"/><circle cx="45.4" cy="167.2" r="2.4"/><circle cx="100.2" cy="117.1" r="2.4"/><circle cx="143.4" cy="145.8" r="2.4"/><circle cx="102.7" cy="165.6" r="2.4"/><circle cx="193.5" cy="158.4" r="2.4"/><circle cx="47.8" cy="171.1" r="2.4"/><circle cx="160.2" cy="157.3" r="2.4"/><circle cx="85.1" cy="120.2" r="2.4"/><circle cx="94.5" cy="164.5" r="2.4"/><circle cx="133.9" cy="170.1" r="2.4"/><circle cx="113.6" cy="160.4" r="2.4"/><circle cx="48.5" cy="145.1" r="2.4"/><circle cx="120.1" cy="162.1" r="2.4"/><circle cx="143.5" cy="173.7" r="2.4"/><circle cx="155.1" cy="172.6" r="2.4"/><circle cx="178.7" cy="156.6" r="2.4"/><circle cx="151.8" cy="143.3" r="2.4"/><circle cx="96.0" cy="127.4" r="2.4"/><circle cx="106.5" cy="175.3" r="2.4"/><circle cx="97.8" cy="173.1" r="2.4"/><circle cx="150.4" cy="145.3" r="2.4"/><circle cx="104.9" cy="154.8" r="2.4"/><circle cx="118.7" cy="146.3" r="2.4"/><circle cx="45.7" cy="166.9" r="2.4"/><circle cx="193.5" cy="154.0" r="2.4"/><circle cx="129.6" cy="175.3" r="2.4"/><circle cx="117.1" cy="167.4" r="2.4"/><circle cx="144.7" cy="167.9" r="2.4"/><circle cx="60.4" cy="174.8" r="2.4"/><circle cx="188.8" cy="158.7" r="2.4"/><circle cx="134.9" cy="178.9" r="2.4"/><circle cx="61.9" cy="136.5" r="2.4"/><circle cx="63.4" cy="155.7" r="2.4"/><circle cx="74.4" cy="146.3" r="2.4"/><circle cx="65.2" cy="172.3" r="2.4"/><circle cx="174.5" cy="127.4" r="2.4"/><circle cx="70.0" cy="175.9" r="2.4"/><circle cx="93.7" cy="176.3" r="2.4"/><circle cx="162.0" cy="147.9" r="2.4"/><circle cx="158.2" cy="145.7" r="2.4"/><circle cx="147.6" cy="152.3" r="2.4"/><circle cx="157.1" cy="146.8" r="2.4"/><circle cx="46.2" cy="175.7" r="2.4"/><circle cx="116.9" cy="171.9" r="2.4"/><circle cx="56.7" cy="173.0" r="2.4"/><circle cx="108.9" cy="139.0" r="2.4"/><circle cx="166.0" cy="164.2" r="2.4"/><circle cx="150.2" cy="142.7" r="2.4"/><circle cx="113.9" cy="154.3" r="2.4"/><circle cx="84.2" cy="162.9" r="2.4"/><circle cx="137.9" cy="153.1" r="2.4"/><circle cx="48.7" cy="158.9" r="2.4"/><circle cx="66.9" cy="165.0" r="2.4"/><circle cx="102.9" cy="151.3" r="2.4"/><circle cx="99.4" cy="132.5" r="2.4"/><circle cx="47.5" cy="177.3" r="2.4"/><circle cx="109.2" cy="152.3" r="2.4"/><circle cx="84.1" cy="147.4" r="2.4"/><circle cx="149.4" cy="162.7" r="2.4"/><circle cx="121.3" cy="125.0" r="2.4"/><circle cx="112.1" cy="110.4" r="2.4"/><circle cx="166.5" cy="157.6" r="2.4"/><circle cx="125.7" cy="144.0" r="2.4"/><circle cx="119.9" cy="167.2" r="2.4"/><circle cx="124.2" cy="151.3" r="2.4"/><circle cx="99.6" cy="125.8" r="2.4"/><circle cx="121.2" cy="149.4" r="2.4"/><circle cx="142.0" cy="148.0" r="2.4"/><circle cx="106.3" cy="144.3" r="2.4"/><circle cx="114.1" cy="129.6" r="2.4"/><circle cx="178.3" cy="157.4" r="2.4"/><circle cx="79.0" cy="167.1" r="2.4"/><circle cx="46.0" cy="159.1" r="2.4"/><circle cx="56.6" cy="138.9" r="2.4"/><circle cx="146.1" cy="172.7" r="2.4"/><circle cx="105.3" cy="176.0" r="2.4"/><circle cx="78.6" cy="108.6" r="2.4"/><circle cx="94.4" cy="160.8" r="2.4"/><circle cx="71.7" cy="148.0" r="2.4"/><circle cx="76.2" cy="132.1" r="2.4"/><circle cx="90.9" cy="127.9" r="2.4"/><circle cx="76.1" cy="134.0" r="2.4"/><circle cx="154.4" cy="170.2" r="2.4"/><circle cx="80.0" cy="145.5" r="2.4"/><circle cx="117.4" cy="139.6" r="2.4"/><circle cx="48.1" cy="174.8" r="2.4"/><circle cx="59.1" cy="177.3" r="2.4"/><circle cx="179.2" cy="159.3" r="2.4"/><circle cx="74.8" cy="161.7" r="2.4"/><circle cx="119.1" cy="151.8" r="2.4"/><circle cx="101.1" cy="165.1" r="2.4"/><circle cx="103.7" cy="120.6" r="2.4"/><circle cx="53.8" cy="148.7" r="2.4"/><circle cx="72.8" cy="150.2" r="2.4"/><circle cx="168.6" cy="133.1" r="2.4"/><circle cx="77.7" cy="158.7" r="2.4"/><circle cx="101.1" cy="135.5" r="2.4"/><circle cx="127.5" cy="145.8" r="2.4"/><circle cx="154.4" cy="164.9" r="2.4"/><circle cx="166.8" cy="154.9" r="2.4"/><circle cx="96.0" cy="98.5" r="2.4"/><circle cx="80.5" cy="170.4" r="2.4"/><circle cx="162.7" cy="166.3" r="2.4"/><circle cx="111.9" cy="118.2" r="2.4"/><circle cx="112.6" cy="146.9" r="2.4"/><circle cx="149.0" cy="157.1" r="2.4"/><circle cx="74.9" cy="159.6" r="2.4"/><circle cx="45.0" cy="167.8" r="2.4"/><circle cx="94.5" cy="139.4" r="2.4"/><circle cx="107.5" cy="167.0" r="2.4"/><circle cx="141.2" cy="156.2" r="2.4"/><circle cx="112.3" cy="160.3" r="2.4"/><circle cx="104.9" cy="164.1" r="2.4"/><circle cx="155.9" cy="143.5" r="2.4"/><circle cx="139.7" cy="156.1" r="2.4"/><circle cx="117.9" cy="154.6" r="2.4"/><circle cx="136.9" cy="162.3" r="2.4"/><circle cx="84.3" cy="157.0" r="2.4"/><circle cx="91.5" cy="159.8" r="2.4"/><circle cx="176.6" cy="147.4" r="2.4"/><circle cx="72.9" cy="176.2" r="2.4"/><circle cx="170.4" cy="166.5" r="2.4"/><circle cx="126.7" cy="171.5" r="2.4"/><circle cx="138.5" cy="160.9" r="2.4"/><circle cx="50.0" cy="175.1" r="2.4"/><circle cx="138.9" cy="170.0" r="2.4"/><circle cx="122.8" cy="133.2" r="2.4"/><circle cx="61.3" cy="177.3" r="2.4"/><circle cx="115.6" cy="125.3" r="2.4"/><circle cx="47.9" cy="168.4" r="2.4"/><circle cx="147.1" cy="179.2" r="2.4"/><circle cx="99.4" cy="144.9" r="2.4"/><circle cx="186.3" cy="156.9" r="2.4"/><circle cx="139.8" cy="143.1" r="2.4"/><circle cx="110.3" cy="153.6" r="2.4"/><circle cx="145.8" cy="159.7" r="2.4"/><circle cx="82.7" cy="128.0" r="2.4"/><circle cx="109.4" cy="141.7" r="2.4"/><circle cx="158.7" cy="158.8" r="2.4"/><circle cx="159.9" cy="162.4" r="2.4"/><circle cx="95.8" cy="165.6" r="2.4"/><circle cx="69.3" cy="159.4" r="2.4"/><circle cx="65.7" cy="141.4" r="2.4"/><circle cx="53.4" cy="141.9" r="2.4"/><circle cx="132.3" cy="173.7" r="2.4"/><circle cx="130.2" cy="124.5" r="2.4"/><circle cx="154.4" cy="161.8" r="2.4"/><circle cx="93.2" cy="126.7" r="2.4"/><circle cx="103.6" cy="116.2" r="2.4"/><circle cx="51.6" cy="143.3" r="2.4"/><circle cx="185.4" cy="155.4" r="2.4"/><circle cx="135.5" cy="177.3" r="2.4"/><circle cx="97.4" cy="172.5" r="2.4"/><circle cx="144.3" cy="158.5" r="2.4"/><circle cx="56.2" cy="153.1" r="2.4"/><circle cx="179.3" cy="154.5" r="2.4"/><circle cx="112.2" cy="160.5" r="2.4"/><circle cx="164.4" cy="164.9" r="2.4"/><circle cx="133.6" cy="174.0" r="2.4"/><circle cx="147.5" cy="144.2" r="2.4"/><circle cx="50.0" cy="142.7" r="2.4"/><circle cx="147.3" cy="142.3" r="2.4"/><circle cx="128.0" cy="168.3" r="2.4"/><circle cx="186.2" cy="150.3" r="2.4"/><circle cx="61.1" cy="157.0" r="2.4"/><circle cx="125.9" cy="172.1" r="2.4"/><circle cx="81.2" cy="146.4" r="2.4"/><circle cx="131.6" cy="153.4" r="2.4"/><circle cx="156.9" cy="130.4" r="2.4"/><circle cx="101.7" cy="141.9" r="2.4"/><circle cx="79.9" cy="97.9" r="2.4"/><circle cx="122.6" cy="164.2" r="2.4"/><circle cx="167.7" cy="139.6" r="2.4"/><circle cx="47.1" cy="160.8" r="2.4"/><circle cx="159.4" cy="174.5" r="2.4"/><circle cx="49.0" cy="167.3" r="2.4"/><circle cx="49.0" cy="171.3" r="2.4"/><circle cx="77.0" cy="178.5" r="2.4"/><circle cx="167.3" cy="166.9" r="2.4"/><circle cx="73.6" cy="149.9" r="2.4"/><circle cx="179.2" cy="142.1" r="2.4"/><circle cx="77.6" cy="129.4" r="2.4"/><circle cx="71.4" cy="143.5" r="2.4"/><circle cx="191.9" cy="158.8" r="2.4"/><circle cx="100.5" cy="141.7" r="2.4"/><circle cx="152.7" cy="150.3" r="2.4"/><circle cx="114.8" cy="158.7" r="2.4"/><circle cx="139.6" cy="166.2" r="2.4"/><circle cx="45.6" cy="156.2" r="2.4"/><circle cx="157.0" cy="161.1" r="2.4"/><circle cx="101.7" cy="122.6" r="2.4"/><circle cx="49.2" cy="161.3" r="2.4"/><circle cx="175.6" cy="139.1" r="2.4"/><circle cx="47.3" cy="173.8" r="2.4"/><circle cx="84.0" cy="146.3" r="2.4"/><circle cx="171.4" cy="157.0" r="2.4"/><circle cx="117.0" cy="151.1" r="2.4"/><circle cx="136.8" cy="161.8" r="2.4"/><circle cx="150.2" cy="127.7" r="2.4"/><circle cx="74.4" cy="108.3" r="2.4"/><circle cx="107.2" cy="153.0" r="2.4"/><circle cx="102.3" cy="163.0" r="2.4"/><circle cx="61.8" cy="172.5" r="2.4"/><circle cx="126.2" cy="145.6" r="2.4"/><circle cx="105.8" cy="154.4" r="2.4"/><circle cx="112.1" cy="170.1" r="2.4"/><circle cx="165.0" cy="109.3" r="2.4"/><circle cx="53.7" cy="163.5" r="2.4"/><circle cx="111.8" cy="144.5" r="2.4"/><circle cx="80.6" cy="169.4" r="2.4"/><circle cx="89.6" cy="116.4" r="2.4"/><circle cx="94.3" cy="139.0" r="2.4"/><circle cx="48.3" cy="145.2" r="2.4"/><circle cx="51.4" cy="140.2" r="2.4"/><circle cx="93.2" cy="137.8" r="2.4"/><circle cx="72.7" cy="170.3" r="2.4"/><circle cx="55.0" cy="133.8" r="2.4"/><circle cx="151.5" cy="173.6" r="2.4"/><circle cx="89.0" cy="140.4" r="2.4"/><circle cx="72.2" cy="141.4" r="2.4"/><circle cx="101.5" cy="140.6" r="2.4"/><circle cx="97.5" cy="156.9" r="2.4"/><circle cx="47.4" cy="152.1" r="2.4"/><circle cx="118.3" cy="159.8" r="2.4"/><circle cx="56.2" cy="159.1" r="2.4"/><circle cx="151.3" cy="138.0" r="2.4"/><circle cx="89.7" cy="150.3" r="2.4"/><circle cx="155.0" cy="156.9" r="2.4"/><circle cx="137.5" cy="173.5" r="2.4"/><circle cx="124.2" cy="176.0" r="2.4"/><circle cx="147.9" cy="171.8" r="2.4"/><circle cx="168.4" cy="155.3" r="2.4"/><circle cx="101.0" cy="111.0" r="2.4"/><circle cx="113.9" cy="161.0" r="2.4"/><circle cx="88.2" cy="161.0" r="2.4"/><circle cx="71.6" cy="142.6" r="2.4"/><circle cx="149.9" cy="146.5" r="2.4"/><circle cx="78.6" cy="125.6" r="2.4"/><circle cx="70.1" cy="158.4" r="2.4"/><circle cx="120.7" cy="150.1" r="2.4"/><circle cx="183.3" cy="152.9" r="2.4"/><circle cx="138.9" cy="161.2" r="2.4"/><circle cx="69.6" cy="166.0" r="2.4"/><circle cx="60.0" cy="165.2" r="2.4"/><circle cx="52.3" cy="157.7" r="2.4"/><circle cx="67.9" cy="157.4" r="2.4"/><circle cx="60.8" cy="173.8" r="2.4"/><circle cx="47.8" cy="170.6" r="2.4"/><circle cx="105.3" cy="160.5" r="2.4"/><circle cx="99.3" cy="162.9" r="2.4"/><circle cx="164.0" cy="162.8" r="2.4"/><circle cx="167.7" cy="148.5" r="2.4"/><circle cx="114.6" cy="123.1" r="2.4"/><circle cx="77.8" cy="179.0" r="2.4"/><circle cx="130.0" cy="159.6" r="2.4"/><circle cx="172.2" cy="173.4" r="2.4"/><circle cx="167.5" cy="168.7" r="2.4"/><circle cx="152.3" cy="175.2" r="2.4"/><circle cx="143.0" cy="165.6" r="2.4"/><circle cx="44.8" cy="178.8" r="2.4"/><circle cx="72.6" cy="178.7" r="2.4"/><circle cx="85.8" cy="175.0" r="2.4"/><circle cx="54.2" cy="161.9" r="2.4"/><circle cx="103.3" cy="165.1" r="2.4"/><circle cx="44.2" cy="177.4" r="2.4"/><circle cx="176.2" cy="158.2" r="2.4"/><circle cx="70.5" cy="154.5" r="2.4"/><circle cx="50.9" cy="170.9" r="2.4"/><circle cx="70.6" cy="161.9" r="2.4"/><circle cx="97.4" cy="178.8" r="2.4"/><circle cx="121.3" cy="119.2" r="2.4"/><circle cx="78.7" cy="118.8" r="2.4"/><circle cx="171.6" cy="165.3" r="2.4"/><circle cx="108.5" cy="126.5" r="2.4"/><circle cx="82.6" cy="148.2" r="2.4"/><circle cx="150.0" cy="163.5" r="2.4"/><circle cx="48.7" cy="166.7" r="2.4"/><circle cx="166.3" cy="165.5" r="2.4"/><circle cx="55.1" cy="171.1" r="2.4"/><circle cx="174.1" cy="158.9" r="2.4"/><circle cx="78.0" cy="174.5" r="2.4"/><circle cx="52.0" cy="155.4" r="2.4"/><circle cx="176.0" cy="162.7" r="2.4"/><circle cx="84.8" cy="120.0" r="2.4"/><circle cx="158.6" cy="150.6" r="2.4"/><circle cx="75.3" cy="151.5" r="2.4"/><circle cx="64.0" cy="154.0" r="2.4"/><circle cx="66.3" cy="146.6" r="2.4"/><circle cx="137.3" cy="145.4" r="2.4"/><circle cx="174.3" cy="157.9" r="2.4"/><circle cx="148.6" cy="160.7" r="2.4"/><circle cx="173.2" cy="164.1" r="2.4"/><circle cx="156.8" cy="154.5" r="2.4"/><circle cx="169.9" cy="165.2" r="2.4"/><circle cx="129.2" cy="128.6" r="2.4"/><circle cx="119.1" cy="164.5" r="2.4"/><circle cx="66.7" cy="159.4" r="2.4"/><circle cx="138.5" cy="170.9" r="2.4"/><circle cx="174.6" cy="157.0" r="2.4"/><circle cx="161.1" cy="165.8" r="2.4"/><circle cx="157.3" cy="135.6" r="2.4"/><circle cx="115.8" cy="155.8" r="2.4"/><circle cx="98.8" cy="165.5" r="2.4"/><circle cx="50.2" cy="159.6" r="2.4"/><circle cx="54.7" cy="113.0" r="2.4"/><circle cx="89.1" cy="148.5" r="2.4"/><circle cx="81.5" cy="157.8" r="2.4"/><circle cx="88.1" cy="136.0" r="2.4"/><circle cx="62.5" cy="171.1" r="2.4"/><circle cx="53.5" cy="177.4" r="2.4"/><circle cx="127.9" cy="152.5" r="2.4"/><circle cx="86.3" cy="150.7" r="2.4"/><circle cx="149.4" cy="171.3" r="2.4"/><circle cx="145.4" cy="164.7" r="2.4"/><circle cx="65.5" cy="154.9" r="2.4"/><circle cx="171.7" cy="164.4" r="2.4"/><circle cx="90.8" cy="156.6" r="2.4"/><circle cx="146.8" cy="171.7" r="2.4"/><circle cx="71.1" cy="152.7" r="2.4"/><circle cx="85.5" cy="144.2" r="2.4"/><circle cx="71.3" cy="172.9" r="2.4"/><circle cx="70.2" cy="133.1" r="2.4"/><circle cx="121.2" cy="173.3" r="2.4"/><circle cx="123.9" cy="135.9" r="2.4"/><circle cx="143.9" cy="170.5" r="2.4"/><circle cx="126.6" cy="153.1" r="2.4"/><circle cx="53.8" cy="156.4" r="2.4"/><circle cx="133.0" cy="151.7" r="2.4"/><circle cx="52.8" cy="140.3" r="2.4"/><circle cx="184.5" cy="157.9" r="2.4"/><circle cx="134.0" cy="138.8" r="2.4"/><circle cx="89.5" cy="142.1" r="2.4"/><circle cx="127.6" cy="138.5" r="2.4"/><circle cx="91.8" cy="142.8" r="2.4"/><circle cx="164.8" cy="147.2" r="2.4"/><circle cx="126.3" cy="164.0" r="2.4"/><circle cx="100.1" cy="177.1" r="2.4"/><circle cx="164.9" cy="165.4" r="2.4"/><circle cx="79.7" cy="153.9" r="2.4"/><circle cx="137.2" cy="170.7" r="2.4"/><circle cx="69.4" cy="158.9" r="2.4"/><circle cx="100.5" cy="147.4" r="2.4"/><circle cx="117.4" cy="126.1" r="2.4"/><circle cx="102.6" cy="121.2" r="2.4"/><circle cx="63.6" cy="119.2" r="2.4"/><circle cx="48.9" cy="176.1" r="2.4"/><circle cx="138.2" cy="162.2" r="2.4"/><circle cx="148.5" cy="170.2" r="2.4"/><circle cx="140.1" cy="178.4" r="2.4"/><circle cx="44.5" cy="157.0" r="2.4"/><circle cx="60.0" cy="170.6" r="2.4"/><circle cx="163.6" cy="160.8" r="2.4"/><circle cx="46.1" cy="170.8" r="2.4"/><circle cx="177.7" cy="160.0" r="2.4"/><circle cx="48.0" cy="177.6" r="2.4"/><circle cx="98.6" cy="154.9" r="2.4"/><circle cx="168.0" cy="153.3" r="2.4"/><circle cx="113.5" cy="123.1" r="2.4"/><circle cx="71.9" cy="146.5" r="2.4"/><circle cx="70.8" cy="174.1" r="2.4"/><circle cx="149.7" cy="176.9" r="2.4"/><circle cx="165.6" cy="128.0" r="2.4"/><circle cx="99.5" cy="166.6" r="2.4"/><circle cx="77.1" cy="176.2" r="2.4"/><circle cx="157.3" cy="160.2" r="2.4"/><circle cx="184.2" cy="152.9" r="2.4"/><circle cx="62.0" cy="151.6" r="2.4"/><circle cx="100.3" cy="114.8" r="2.4"/><circle cx="63.4" cy="141.1" r="2.4"/><circle cx="73.3" cy="177.0" r="2.4"/><circle cx="161.5" cy="134.5" r="2.4"/><circle cx="53.9" cy="165.3" r="2.4"/><circle cx="146.4" cy="155.5" r="2.4"/><circle cx="131.7" cy="166.0" r="2.4"/><circle cx="125.0" cy="175.8" r="2.4"/><circle cx="190.8" cy="163.2" r="2.4"/><circle cx="67.9" cy="172.6" r="2.4"/><circle cx="166.8" cy="146.8" r="2.4"/><circle cx="149.6" cy="177.6" r="2.4"/><circle cx="114.1" cy="110.8" r="2.4"/><circle cx="121.5" cy="170.6" r="2.4"/><circle cx="141.8" cy="145.6" r="2.4"/><circle cx="52.0" cy="164.0" r="2.4"/><circle cx="190.1" cy="171.1" r="2.4"/><circle cx="98.3" cy="147.1" r="2.4"/><circle cx="52.8" cy="154.3" r="2.4"/><circle cx="125.7" cy="157.2" r="2.4"/><circle cx="151.9" cy="167.4" r="2.4"/><circle cx="69.5" cy="148.1" r="2.4"/><circle cx="89.2" cy="156.4" r="2.4"/><circle cx="70.5" cy="162.6" r="2.4"/><circle cx="130.4" cy="160.4" r="2.4"/><circle cx="141.5" cy="165.2" r="2.4"/><circle cx="175.0" cy="130.1" r="2.4"/><circle cx="97.2" cy="156.9" r="2.4"/><circle cx="151.2" cy="165.9" r="2.4"/><circle cx="83.5" cy="123.5" r="2.4"/><circle cx="130.3" cy="163.5" r="2.4"/><circle cx="55.8" cy="161.9" r="2.4"/><circle cx="83.7" cy="162.3" r="2.4"/><circle cx="114.7" cy="151.7" r="2.4"/><circle cx="169.7" cy="157.2" r="2.4"/><circle cx="130.4" cy="130.3" r="2.4"/><circle cx="75.6" cy="156.1" r="2.4"/><circle cx="155.4" cy="161.4" r="2.4"/><circle cx="117.8" cy="168.7" r="2.4"/><circle cx="121.9" cy="152.3" r="2.4"/><circle cx="70.1" cy="155.4" r="2.4"/><circle cx="135.5" cy="168.4" r="2.4"/><circle cx="114.3" cy="152.9" r="2.4"/><circle cx="184.4" cy="163.5" r="2.4"/><circle cx="177.5" cy="161.5" r="2.4"/><circle cx="87.3" cy="131.0" r="2.4"/><circle cx="135.0" cy="152.9" r="2.4"/><circle cx="70.9" cy="157.2" r="2.4"/><circle cx="84.2" cy="170.7" r="2.4"/><circle cx="140.9" cy="141.5" r="2.4"/><circle cx="90.6" cy="129.3" r="2.4"/><circle cx="90.0" cy="167.3" r="2.4"/><circle cx="126.3" cy="114.5" r="2.4"/><circle cx="174.8" cy="159.3" r="2.4"/><circle cx="178.2" cy="136.0" r="2.4"/><circle cx="101.9" cy="157.5" r="2.4"/><circle cx="61.4" cy="130.7" r="2.4"/><circle cx="122.7" cy="133.8" r="2.4"/><circle cx="152.4" cy="148.2" r="2.4"/><circle cx="129.6" cy="150.0" r="2.4"/><circle cx="82.3" cy="136.2" r="2.4"/><circle cx="144.5" cy="165.5" r="2.4"/><circle cx="108.6" cy="150.6" r="2.4"/><circle cx="180.0" cy="150.7" r="2.4"/><circle cx="109.4" cy="171.1" r="2.4"/><circle cx="167.1" cy="166.7" r="2.4"/><circle cx="114.4" cy="161.4" r="2.4"/><circle cx="105.3" cy="178.3" r="2.4"/><circle cx="77.1" cy="171.6" r="2.4"/><circle cx="169.7" cy="146.7" r="2.4"/><circle cx="155.2" cy="159.1" r="2.4"/><circle cx="144.5" cy="173.4" r="2.4"/><circle cx="129.2" cy="165.8" r="2.4"/><circle cx="142.5" cy="161.2" r="2.4"/><circle cx="109.0" cy="171.2" r="2.4"/><circle cx="125.2" cy="152.2" r="2.4"/><circle cx="146.1" cy="168.6" r="2.4"/><circle cx="158.7" cy="159.5" r="2.4"/><circle cx="54.8" cy="149.7" r="2.4"/><circle cx="126.7" cy="140.3" r="2.4"/><circle cx="97.5" cy="165.9" r="2.4"/><circle cx="128.6" cy="143.1" r="2.4"/><circle cx="143.3" cy="133.7" r="2.4"/><circle cx="128.9" cy="135.9" r="2.4"/><circle cx="73.9" cy="178.6" r="2.4"/><circle cx="174.1" cy="147.7" r="2.4"/><circle cx="149.4" cy="143.2" r="2.4"/><circle cx="133.4" cy="114.0" r="2.4"/><circle cx="71.9" cy="122.6" r="2.4"/><circle cx="130.1" cy="163.9" r="2.4"/><circle cx="111.5" cy="143.9" r="2.4"/><circle cx="134.3" cy="144.9" r="2.4"/><circle cx="81.8" cy="138.5" r="2.4"/><circle cx="180.3" cy="94.8" r="2.4"/><circle cx="140.2" cy="132.1" r="2.4"/><circle cx="137.1" cy="151.3" r="2.4"/><circle cx="89.8" cy="142.9" r="2.4"/><circle cx="117.2" cy="157.5" r="2.4"/><circle cx="122.3" cy="167.4" r="2.4"/><circle cx="161.6" cy="136.4" r="2.4"/><circle cx="64.7" cy="167.4" r="2.4"/><circle cx="66.8" cy="130.7" r="2.4"/><circle cx="139.5" cy="170.1" r="2.4"/><circle cx="60.1" cy="161.0" r="2.4"/><circle cx="75.8" cy="161.8" r="2.4"/><circle cx="126.1" cy="125.4" r="2.4"/><circle cx="89.0" cy="167.5" r="2.4"/><circle cx="44.6" cy="168.4" r="2.4"/><circle cx="70.2" cy="131.3" r="2.4"/><circle cx="49.0" cy="165.8" r="2.4"/><circle cx="55.2" cy="161.5" r="2.4"/><circle cx="159.8" cy="115.9" r="2.4"/><circle cx="85.5" cy="169.8" r="2.4"/><circle cx="53.8" cy="153.5" r="2.4"/><circle cx="107.7" cy="162.6" r="2.4"/><circle cx="149.3" cy="150.4" r="2.4"/><circle cx="166.3" cy="143.3" r="2.4"/><circle cx="55.5" cy="176.5" r="2.4"/><circle cx="109.5" cy="153.8" r="2.4"/><circle cx="116.4" cy="150.2" r="2.4"/><circle cx="174.4" cy="162.4" r="2.4"/><circle cx="161.2" cy="143.5" r="2.4"/><circle cx="109.0" cy="158.2" r="2.4"/><circle cx="72.9" cy="175.1" r="2.4"/><circle cx="151.3" cy="171.5" r="2.4"/><circle cx="118.5" cy="164.8" r="2.4"/><circle cx="88.2" cy="162.4" r="2.4"/><circle cx="115.8" cy="157.7" r="2.4"/><circle cx="96.2" cy="168.2" r="2.4"/><circle cx="133.6" cy="176.0" r="2.4"/><circle cx="129.9" cy="131.6" r="2.4"/><circle cx="151.6" cy="152.3" r="2.4"/><circle cx="124.9" cy="157.0" r="2.4"/><circle cx="57.0" cy="149.2" r="2.4"/><circle cx="72.8" cy="167.1" r="2.4"/><circle cx="137.3" cy="173.8" r="2.4"/><circle cx="76.8" cy="170.0" r="2.4"/><circle cx="86.0" cy="165.5" r="2.4"/><circle cx="137.1" cy="148.1" r="2.4"/><circle cx="61.3" cy="175.5" r="2.4"/><circle cx="50.3" cy="172.3" r="2.4"/><circle cx="177.5" cy="132.6" r="2.4"/><circle cx="140.2" cy="157.4" r="2.4"/><circle cx="73.8" cy="176.7" r="2.4"/><circle cx="189.5" cy="156.1" r="2.4"/><circle cx="84.3" cy="166.2" r="2.4"/><circle cx="135.2" cy="155.0" r="2.4"/><circle cx="134.7" cy="136.8" r="2.4"/><circle cx="188.8" cy="157.9" r="2.4"/><circle cx="181.3" cy="160.3" r="2.4"/><circle cx="131.8" cy="159.2" r="2.4"/><circle cx="74.1" cy="171.5" r="2.4"/><circle cx="139.9" cy="122.3" r="2.4"/><circle cx="98.9" cy="128.7" r="2.4"/><circle cx="122.7" cy="165.4" r="2.4"/><circle cx="78.5" cy="144.5" r="2.4"/><circle cx="142.6" cy="159.1" r="2.4"/><circle cx="49.8" cy="156.4" r="2.4"/><circle cx="119.6" cy="151.1" r="2.4"/><circle cx="113.0" cy="157.2" r="2.4"/><circle cx="59.6" cy="163.1" r="2.4"/><circle cx="92.1" cy="144.5" r="2.4"/><circle cx="93.7" cy="165.4" r="2.4"/><circle cx="146.8" cy="147.3" r="2.4"/><circle cx="134.2" cy="177.1" r="2.4"/><circle cx="134.9" cy="157.6" r="2.4"/><circle cx="53.8" cy="141.2" r="2.4"/><circle cx="80.2" cy="170.0" r="2.4"/><circle cx="68.6" cy="152.1" r="2.4"/><circle cx="111.6" cy="171.2" r="2.4"/><circle cx="192.1" cy="159.6" r="2.4"/><circle cx="83.9" cy="124.1" r="2.4"/><circle cx="130.6" cy="158.4" r="2.4"/><circle cx="89.3" cy="160.5" r="2.4"/><circle cx="136.7" cy="159.6" r="2.4"/><circle cx="171.7" cy="129.8" r="2.4"/><circle cx="129.8" cy="151.3" r="2.4"/><circle cx="118.7" cy="156.9" r="2.4"/><circle cx="56.6" cy="151.0" r="2.4"/><circle cx="51.3" cy="162.4" r="2.4"/><circle cx="73.2" cy="163.4" r="2.4"/><circle cx="153.4" cy="161.5" r="2.4"/><circle cx="85.9" cy="160.0" r="2.4"/><circle cx="66.7" cy="174.8" r="2.4"/><circle cx="159.2" cy="126.4" r="2.4"/><circle cx="189.2" cy="164.7" r="2.4"/><circle cx="47.0" cy="149.2" r="2.4"/><circle cx="147.6" cy="177.4" r="2.4"/><circle cx="107.9" cy="130.3" r="2.4"/><circle cx="152.3" cy="155.5" r="2.4"/><circle cx="95.2" cy="146.5" r="2.4"/><circle cx="139.7" cy="167.8" r="2.4"/><circle cx="148.5" cy="138.5" r="2.4"/><circle cx="106.6" cy="137.0" r="2.4"/><circle cx="72.1" cy="175.9" r="2.4"/><circle cx="135.5" cy="137.3" r="2.4"/><circle cx="95.1" cy="168.2" r="2.4"/><circle cx="87.9" cy="174.0" r="2.4"/><circle cx="140.5" cy="174.8" r="2.4"/><circle cx="63.3" cy="176.6" r="2.4"/><circle cx="59.3" cy="145.4" r="2.4"/><circle cx="69.3" cy="163.1" r="2.4"/><circle cx="93.3" cy="140.6" r="2.4"/><circle cx="175.7" cy="155.9" r="2.4"/><circle cx="176.8" cy="155.4" r="2.4"/><circle cx="118.1" cy="155.3" r="2.4"/><circle cx="93.4" cy="176.1" r="2.4"/><circle cx="46.9" cy="174.8" r="2.4"/><circle cx="122.2" cy="171.2" r="2.4"/><circle cx="175.0" cy="132.6" r="2.4"/><circle cx="192.3" cy="148.5" r="2.4"/><circle cx="93.0" cy="157.4" r="2.4"/><circle cx="136.6" cy="161.3" r="2.4"/><circle cx="65.2" cy="172.6" r="2.4"/><circle cx="77.1" cy="143.9" r="2.4"/><circle cx="68.1" cy="152.3" r="2.4"/><circle cx="117.2" cy="172.3" r="2.4"/><circle cx="140.9" cy="127.6" r="2.4"/><circle cx="101.2" cy="112.9" r="2.4"/><circle cx="78.6" cy="101.5" r="2.4"/><circle cx="121.8" cy="175.0" r="2.4"/><circle cx="137.1" cy="132.3" r="2.4"/><circle cx="87.7" cy="146.5" r="2.4"/><circle cx="101.2" cy="140.9" r="2.4"/><circle cx="180.1" cy="160.0" r="2.4"/><circle cx="154.3" cy="123.3" r="2.4"/><circle cx="104.8" cy="161.2" r="2.4"/><circle cx="179.2" cy="143.1" r="2.4"/><circle cx="138.8" cy="149.4" r="2.4"/><circle cx="150.3" cy="176.8" r="2.4"/><circle cx="141.4" cy="173.7" r="2.4"/><circle cx="66.9" cy="145.4" r="2.4"/><circle cx="132.4" cy="152.0" r="2.4"/><circle cx="63.5" cy="135.6" r="2.4"/><circle cx="87.3" cy="157.7" r="2.4"/><circle cx="105.8" cy="138.6" r="2.4"/><circle cx="134.7" cy="118.3" r="2.4"/><circle cx="155.6" cy="127.2" r="2.4"/><circle cx="173.8" cy="155.1" r="2.4"/><circle cx="51.5" cy="171.6" r="2.4"/><circle cx="93.7" cy="163.7" r="2.4"/><circle cx="58.2" cy="157.0" r="2.4"/><circle cx="154.4" cy="116.2" r="2.4"/><circle cx="95.9" cy="153.3" r="2.4"/><circle cx="174.7" cy="148.3" r="2.4"/><circle cx="79.3" cy="157.8" r="2.4"/><circle cx="70.3" cy="125.9" r="2.4"/><circle cx="100.0" cy="136.3" r="2.4"/><circle cx="170.3" cy="142.3" r="2.4"/><circle cx="126.7" cy="155.7" r="2.4"/><circle cx="131.4" cy="176.7" r="2.4"/><circle cx="64.3" cy="158.8" r="2.4"/><circle cx="73.5" cy="173.1" r="2.4"/><circle cx="169.1" cy="161.0" r="2.4"/><circle cx="120.7" cy="139.8" r="2.4"/><circle cx="53.6" cy="173.8" r="2.4"/><circle cx="115.6" cy="84.5" r="2.4"/><circle cx="152.8" cy="148.8" r="2.4"/><circle cx="161.5" cy="149.4" r="2.4"/><circle cx="111.9" cy="174.2" r="2.4"/><circle cx="188.5" cy="159.5" r="2.4"/><circle cx="120.1" cy="167.8" r="2.4"/><circle cx="88.3" cy="121.4" r="2.4"/><circle cx="161.4" cy="159.6" r="2.4"/><circle cx="76.4" cy="165.1" r="2.4"/><circle cx="153.7" cy="133.6" r="2.4"/><circle cx="76.9" cy="167.8" r="2.4"/><circle cx="120.2" cy="175.6" r="2.4"/><circle cx="175.8" cy="119.3" r="2.4"/><circle cx="171.3" cy="143.9" r="2.4"/><circle cx="63.7" cy="154.3" r="2.4"/><circle cx="134.3" cy="136.4" r="2.4"/><circle cx="150.6" cy="162.9" r="2.4"/><circle cx="54.4" cy="140.2" r="2.4"/><circle cx="65.6" cy="154.7" r="2.4"/><circle cx="107.2" cy="153.8" r="2.4"/><circle cx="68.0" cy="146.1" r="2.4"/><circle cx="68.3" cy="176.3" r="2.4"/><circle cx="108.7" cy="140.5" r="2.4"/><circle cx="115.2" cy="158.1" r="2.4"/><circle cx="121.6" cy="158.4" r="2.4"/><circle cx="143.9" cy="126.0" r="2.4"/><circle cx="187.5" cy="151.6" r="2.4"/><circle cx="87.6" cy="117.5" r="2.4"/><circle cx="78.9" cy="129.7" r="2.4"/><circle cx="113.2" cy="162.1" r="2.4"/><circle cx="56.7" cy="176.7" r="2.4"/><circle cx="88.6" cy="138.4" r="2.4"/><circle cx="161.9" cy="163.3" r="2.4"/><circle cx="121.6" cy="162.0" r="2.4"/><circle cx="72.8" cy="142.9" r="2.4"/><circle cx="136.4" cy="138.3" r="2.4"/><circle cx="60.4" cy="144.3" r="2.4"/><circle cx="186.5" cy="160.2" r="2.4"/><circle cx="122.3" cy="142.2" r="2.4"/><circle cx="46.4" cy="173.6" r="2.4"/><circle cx="103.3" cy="124.7" r="2.4"/><circle cx="108.2" cy="150.5" r="2.4"/><circle cx="116.5" cy="156.0" r="2.4"/><circle cx="139.7" cy="114.8" r="2.4"/><circle cx="87.5" cy="173.6" r="2.4"/><circle cx="86.8" cy="143.3" r="2.4"/><circle cx="107.3" cy="147.2" r="2.4"/><circle cx="138.3" cy="118.5" r="2.4"/><circle cx="46.4" cy="173.3" r="2.4"/><circle cx="152.8" cy="148.7" r="2.4"/><circle cx="164.6" cy="153.9" r="2.4"/><circle cx="88.2" cy="146.2" r="2.4"/><circle cx="49.0" cy="171.9" r="2.4"/><circle cx="167.8" cy="128.3" r="2.4"/><circle cx="138.1" cy="146.0" r="2.4"/><circle cx="63.9" cy="177.4" r="2.4"/><circle cx="56.8" cy="171.7" r="2.4"/><circle cx="135.0" cy="164.8" r="2.4"/><circle cx="128.5" cy="175.9" r="2.4"/><circle cx="155.1" cy="158.9" r="2.4"/><circle cx="49.7" cy="171.0" r="2.4"/><circle cx="159.1" cy="141.0" r="2.4"/><circle cx="77.1" cy="147.8" r="2.4"/><circle cx="138.5" cy="163.0" r="2.4"/><circle cx="76.4" cy="158.4" r="2.4"/><circle cx="88.7" cy="153.6" r="2.4"/><circle cx="70.5" cy="155.1" r="2.4"/><circle cx="130.7" cy="112.7" r="2.4"/><circle cx="52.8" cy="171.9" r="2.4"/><circle cx="48.8" cy="165.2" r="2.4"/><circle cx="65.5" cy="153.9" r="2.4"/><circle cx="109.9" cy="148.5" r="2.4"/><circle cx="56.1" cy="164.4" r="2.4"/><circle cx="89.8" cy="122.8" r="2.4"/><circle cx="111.1" cy="174.3" r="2.4"/><circle cx="83.1" cy="155.3" r="2.4"/><circle cx="86.9" cy="154.8" r="2.4"/><circle cx="137.4" cy="126.1" r="2.4"/><circle cx="141.1" cy="159.3" r="2.4"/><circle cx="66.2" cy="178.0" r="2.4"/><circle cx="91.0" cy="152.3" r="2.4"/><circle cx="56.8" cy="137.8" r="2.4"/><circle cx="192.9" cy="162.5" r="2.4"/><circle cx="70.7" cy="168.1" r="2.4"/><circle cx="47.6" cy="179.0" r="2.4"/><circle cx="88.5" cy="144.8" r="2.4"/><circle cx="80.1" cy="159.6" r="2.4"/><circle cx="164.1" cy="147.0" r="2.4"/><circle cx="81.4" cy="132.3" r="2.4"/><circle cx="47.5" cy="174.4" r="2.4"/><circle cx="168.6" cy="153.5" r="2.4"/><circle cx="150.9" cy="177.7" r="2.4"/><circle cx="128.5" cy="164.7" r="2.4"/><circle cx="111.3" cy="143.8" r="2.4"/><circle cx="152.1" cy="173.1" r="2.4"/><circle cx="149.5" cy="134.6" r="2.4"/><circle cx="59.0" cy="168.4" r="2.4"/><circle cx="173.9" cy="144.4" r="2.4"/><circle cx="54.0" cy="147.5" r="2.4"/><circle cx="63.5" cy="166.3" r="2.4"/><circle cx="96.3" cy="110.1" r="2.4"/><circle cx="139.8" cy="143.1" r="2.4"/><circle cx="108.8" cy="171.3" r="2.4"/><circle cx="143.7" cy="166.6" r="2.4"/><circle cx="58.1" cy="161.6" r="2.4"/><circle cx="53.4" cy="161.4" r="2.4"/><circle cx="137.3" cy="171.7" r="2.4"/><circle cx="170.1" cy="122.8" r="2.4"/><circle cx="130.9" cy="161.9" r="2.4"/><circle cx="102.9" cy="164.9" r="2.4"/><circle cx="138.2" cy="120.5" r="2.4"/><circle cx="46.1" cy="171.9" r="2.4"/><circle cx="71.1" cy="146.0" r="2.4"/><circle cx="147.6" cy="151.9" r="2.4"/><circle cx="83.6" cy="151.5" r="2.4"/><circle cx="76.8" cy="163.2" r="2.4"/><circle cx="171.7" cy="155.5" r="2.4"/><circle cx="67.4" cy="175.3" r="2.4"/><circle cx="91.4" cy="138.9" r="2.4"/><circle cx="159.1" cy="150.2" r="2.4"/><circle cx="119.8" cy="162.5" r="2.4"/><circle cx="144.2" cy="173.8" r="2.4"/><circle cx="173.2" cy="160.3" r="2.4"/><circle cx="106.6" cy="146.2" r="2.4"/><circle cx="165.5" cy="140.4" r="2.4"/><circle cx="52.0" cy="173.9" r="2.4"/><circle cx="61.5" cy="178.4" r="2.4"/><circle cx="93.5" cy="153.6" r="2.4"/><circle cx="127.9" cy="157.2" r="2.4"/><circle cx="159.6" cy="136.7" r="2.4"/><circle cx="177.5" cy="149.7" r="2.4"/><circle cx="65.9" cy="160.8" r="2.4"/><circle cx="44.4" cy="156.9" r="2.4"/><circle cx="128.0" cy="150.7" r="2.4"/><circle cx="85.8" cy="134.6" r="2.4"/><circle cx="66.4" cy="174.3" r="2.4"/><circle cx="68.7" cy="152.3" r="2.4"/><circle cx="98.6" cy="154.2" r="2.4"/><circle cx="135.3" cy="147.8" r="2.4"/><circle cx="59.5" cy="172.6" r="2.4"/><circle cx="138.0" cy="111.4" r="2.4"/><circle cx="62.5" cy="150.6" r="2.4"/><circle cx="125.5" cy="149.2" r="2.4"/><circle cx="172.1" cy="164.5" r="2.4"/><circle cx="72.6" cy="177.8" r="2.4"/><circle cx="107.2" cy="160.3" r="2.4"/><circle cx="62.3" cy="137.4" r="2.4"/><circle cx="44.8" cy="157.8" r="2.4"/><circle cx="158.1" cy="146.3" r="2.4"/><circle cx="45.7" cy="176.3" r="2.4"/><circle cx="134.7" cy="156.1" r="2.4"/><circle cx="53.0" cy="137.1" r="2.4"/><circle cx="69.6" cy="128.7" r="2.4"/><circle cx="136.5" cy="138.2" r="2.4"/><circle cx="124.8" cy="141.8" r="2.4"/><circle cx="78.8" cy="126.6" r="2.4"/><circle cx="77.0" cy="123.7" r="2.4"/><circle cx="134.2" cy="172.5" r="2.4"/><circle cx="63.6" cy="177.7" r="2.4"/><circle cx="86.7" cy="142.1" r="2.4"/><circle cx="90.6" cy="161.5" r="2.4"/><circle cx="53.5" cy="137.8" r="2.4"/><circle cx="171.9" cy="142.6" r="2.4"/><circle cx="151.9" cy="151.7" r="2.4"/><circle cx="54.1" cy="177.0" r="2.4"/><circle cx="44.9" cy="172.6" r="2.4"/><circle cx="68.3" cy="170.7" r="2.4"/><circle cx="48.9" cy="172.9" r="2.4"/><circle cx="162.1" cy="168.5" r="2.4"/><circle cx="97.7" cy="172.0" r="2.4"/><circle cx="134.5" cy="162.6" r="2.4"/><circle cx="58.2" cy="162.3" r="2.4"/><circle cx="159.2" cy="166.7" r="2.4"/><circle cx="64.5" cy="166.5" r="2.4"/><circle cx="93.7" cy="145.9" r="2.4"/><circle cx="118.3" cy="147.8" r="2.4"/><circle cx="47.5" cy="169.1" r="2.4"/><circle cx="167.7" cy="157.9" r="2.4"/><circle cx="181.6" cy="159.9" r="2.4"/><circle cx="46.4" cy="164.4" r="2.4"/><circle cx="49.5" cy="169.1" r="2.4"/><circle cx="118.5" cy="167.4" r="2.4"/><circle cx="73.2" cy="117.1" r="2.4"/><circle cx="152.0" cy="144.8" r="2.4"/><circle cx="126.1" cy="137.5" r="2.4"/><circle cx="82.9" cy="115.4" r="2.4"/><circle cx="75.9" cy="171.6" r="2.4"/><circle cx="87.7" cy="123.5" r="2.4"/><circle cx="133.2" cy="163.4" r="2.4"/><circle cx="103.8" cy="153.3" r="2.4"/><circle cx="124.6" cy="164.2" r="2.4"/><circle cx="129.7" cy="138.5" r="2.4"/><circle cx="142.3" cy="167.6" r="2.4"/><circle cx="83.7" cy="171.2" r="2.4"/><circle cx="116.0" cy="120.7" r="2.4"/><circle cx="121.0" cy="157.9" r="2.4"/><circle cx="128.0" cy="156.8" r="2.4"/><circle cx="105.1" cy="174.3" r="2.4"/><circle cx="122.0" cy="131.7" r="2.4"/><circle cx="70.5" cy="140.9" r="2.4"/><circle cx="114.2" cy="153.4" r="2.4"/><circle cx="143.9" cy="140.0" r="2.4"/><circle cx="90.3" cy="109.5" r="2.4"/><circle cx="172.9" cy="150.7" r="2.4"/><circle cx="80.2" cy="135.1" r="2.4"/><circle cx="83.1" cy="178.3" r="2.4"/><circle cx="105.4" cy="172.3" r="2.4"/><circle cx="134.6" cy="150.7" r="2.4"/><circle cx="78.8" cy="135.6" r="2.4"/><circle cx="68.3" cy="150.4" r="2.4"/><circle cx="144.0" cy="152.3" r="2.4"/><circle cx="104.5" cy="131.0" r="2.4"/><circle cx="105.6" cy="127.2" r="2.4"/><circle cx="93.8" cy="128.8" r="2.4"/><circle cx="109.8" cy="161.5" r="2.4"/><circle cx="49.1" cy="149.3" r="2.4"/><circle cx="127.8" cy="160.4" r="2.4"/><circle cx="158.9" cy="166.4" r="2.4"/><circle cx="145.5" cy="148.4" r="2.4"/><circle cx="108.8" cy="163.3" r="2.4"/><circle cx="134.0" cy="130.1" r="2.4"/><circle cx="120.0" cy="175.7" r="2.4"/><circle cx="60.5" cy="160.0" r="2.4"/><circle cx="129.9" cy="138.7" r="2.4"/><circle cx="59.4" cy="164.3" r="2.4"/><circle cx="169.5" cy="159.0" r="2.4"/><circle cx="54.9" cy="174.3" r="2.4"/><circle cx="143.9" cy="141.0" r="2.4"/><circle cx="45.9" cy="169.5" r="2.4"/><circle cx="72.3" cy="152.6" r="2.4"/><circle cx="146.6" cy="165.2" r="2.4"/><circle cx="127.1" cy="155.9" r="2.4"/><circle cx="46.6" cy="165.4" r="2.4"/><circle cx="137.1" cy="175.0" r="2.4"/><circle cx="145.5" cy="168.2" r="2.4"/><circle cx="48.7" cy="154.8" r="2.4"/><circle cx="97.5" cy="163.4" r="2.4"/><circle cx="101.9" cy="120.5" r="2.4"/><circle cx="119.2" cy="161.0" r="2.4"/><circle cx="63.0" cy="169.7" r="2.4"/><circle cx="63.7" cy="151.6" r="2.4"/><circle cx="129.4" cy="176.6" r="2.4"/><circle cx="65.9" cy="135.8" r="2.4"/><circle cx="111.4" cy="138.5" r="2.4"/><circle cx="128.0" cy="121.4" r="2.4"/><circle cx="112.0" cy="168.0" r="2.4"/><circle cx="159.4" cy="173.2" r="2.4"/><circle cx="84.3" cy="146.8" r="2.4"/><circle cx="87.1" cy="163.1" r="2.4"/><circle cx="122.7" cy="122.9" r="2.4"/><circle cx="75.8" cy="150.1" r="2.4"/><circle cx="144.1" cy="140.8" r="2.4"/><circle cx="78.2" cy="168.3" r="2.4"/><circle cx="144.8" cy="178.5" r="2.4"/><circle cx="70.8" cy="161.8" r="2.4"/><circle cx="165.0" cy="170.3" r="2.4"/><circle cx="171.0" cy="148.0" r="2.4"/><circle cx="79.6" cy="143.9" r="2.4"/><circle cx="156.0" cy="137.2" r="2.4"/><circle cx="82.1" cy="124.0" r="2.4"/><circle cx="105.8" cy="152.2" r="2.4"/><circle cx="150.7" cy="159.0" r="2.4"/><circle cx="106.5" cy="129.8" r="2.4"/><circle cx="65.2" cy="108.5" r="2.4"/><circle cx="134.3" cy="165.2" r="2.4"/><circle cx="88.2" cy="138.1" r="2.4"/><circle cx="81.1" cy="160.5" r="2.4"/><circle cx="68.2" cy="163.8" r="2.4"/><circle cx="113.4" cy="163.1" r="2.4"/><circle cx="72.6" cy="166.7" r="2.4"/><circle cx="128.0" cy="162.0" r="2.4"/><circle cx="178.3" cy="155.4" r="2.4"/><circle cx="45.0" cy="176.3" r="2.4"/><circle cx="59.0" cy="161.0" r="2.4"/><circle cx="181.9" cy="155.2" r="2.4"/><circle cx="56.9" cy="154.1" r="2.4"/><circle cx="160.2" cy="139.2" r="2.4"/><circle cx="169.5" cy="162.0" r="2.4"/><circle cx="118.9" cy="151.8" r="2.4"/><circle cx="86.2" cy="165.5" r="2.4"/><circle cx="90.5" cy="170.6" r="2.4"/><circle cx="131.7" cy="154.5" r="2.4"/><circle cx="120.0" cy="105.7" r="2.4"/><circle cx="136.2" cy="163.0" r="2.4"/><circle cx="116.9" cy="150.9" r="2.4"/><circle cx="67.0" cy="173.3" r="2.4"/><circle cx="127.1" cy="124.6" r="2.4"/><circle cx="62.3" cy="172.6" r="2.4"/><circle cx="69.9" cy="141.6" r="2.4"/><circle cx="67.2" cy="110.9" r="2.4"/><circle cx="86.4" cy="177.2" r="2.4"/><circle cx="63.1" cy="175.8" r="2.4"/><circle cx="100.1" cy="174.0" r="2.4"/><circle cx="191.7" cy="164.6" r="2.4"/><circle cx="186.9" cy="156.9" r="2.4"/><circle cx="134.3" cy="150.7" r="2.4"/><circle cx="64.9" cy="155.9" r="2.4"/><circle cx="136.6" cy="162.0" r="2.4"/><circle cx="82.5" cy="132.6" r="2.4"/><circle cx="92.1" cy="142.0" r="2.4"/><circle cx="106.8" cy="151.3" r="2.4"/><circle cx="180.4" cy="145.3" r="2.4"/><circle cx="71.0" cy="167.0" r="2.4"/><circle cx="49.8" cy="179.3" r="2.4"/><circle cx="44.7" cy="177.0" r="2.4"/><circle cx="73.8" cy="153.3" r="2.4"/><circle cx="155.7" cy="150.8" r="2.4"/><circle cx="97.8" cy="149.3" r="2.4"/><circle cx="88.6" cy="155.4" r="2.4"/><circle cx="77.5" cy="171.8" r="2.4"/><circle cx="46.0" cy="163.8" r="2.4"/><circle cx="114.4" cy="149.4" r="2.4"/><circle cx="102.2" cy="154.9" r="2.4"/><circle cx="113.8" cy="161.9" r="2.4"/><circle cx="130.7" cy="147.0" r="2.4"/><circle cx="129.6" cy="134.3" r="2.4"/><circle cx="124.7" cy="142.3" r="2.4"/><circle cx="141.9" cy="135.6" r="2.4"/><circle cx="54.1" cy="128.0" r="2.4"/><circle cx="58.9" cy="165.2" r="2.4"/><circle cx="62.8" cy="174.5" r="2.4"/><circle cx="101.8" cy="147.1" r="2.4"/><circle cx="69.1" cy="168.5" r="2.4"/><circle cx="82.0" cy="142.0" r="2.4"/><circle cx="62.5" cy="137.4" r="2.4"/><circle cx="83.7" cy="169.0" r="2.4"/><circle cx="111.9" cy="174.8" r="2.4"/><circle cx="93.7" cy="150.4" r="2.4"/><circle cx="101.4" cy="136.9" r="2.4"/><circle cx="148.7" cy="149.6" r="2.4"/><circle cx="135.8" cy="129.8" r="2.4"/><circle cx="145.6" cy="164.7" r="2.4"/><circle cx="166.1" cy="150.0" r="2.4"/><circle cx="149.2" cy="159.5" r="2.4"/><circle cx="53.1" cy="146.3" r="2.4"/><circle cx="103.9" cy="143.3" r="2.4"/><circle cx="145.8" cy="170.8" r="2.4"/><circle cx="72.2" cy="130.0" r="2.4"/><circle cx="103.4" cy="165.3" r="2.4"/><circle cx="98.1" cy="150.3" r="2.4"/><circle cx="183.7" cy="160.0" r="2.4"/><circle cx="136.6" cy="155.1" r="2.4"/><circle cx="46.5" cy="166.0" r="2.4"/><circle cx="132.3" cy="139.3" r="2.4"/><circle cx="155.5" cy="159.3" r="2.4"/><circle cx="127.7" cy="162.5" r="2.4"/><circle cx="72.8" cy="142.3" r="2.4"/><circle cx="139.9" cy="176.5" r="2.4"/><circle cx="125.2" cy="168.3" r="2.4"/><circle cx="116.4" cy="161.9" r="2.4"/><circle cx="109.1" cy="117.4" r="2.4"/><circle cx="60.4" cy="165.5" r="2.4"/><circle cx="190.0" cy="161.9" r="2.4"/><circle cx="135.9" cy="170.5" r="2.4"/><circle cx="108.0" cy="144.5" r="2.4"/><circle cx="81.5" cy="136.5" r="2.4"/><circle cx="81.4" cy="118.2" r="2.4"/><circle cx="114.3" cy="154.9" r="2.4"/><circle cx="153.6" cy="160.4" r="2.4"/><circle cx="84.0" cy="166.9" r="2.4"/><circle cx="144.9" cy="163.2" r="2.4"/><circle cx="58.8" cy="168.9" r="2.4"/><circle cx="118.6" cy="143.0" r="2.4"/><circle cx="186.7" cy="163.8" r="2.4"/><circle cx="131.8" cy="158.8" r="2.4"/><circle cx="62.5" cy="178.8" r="2.4"/><circle cx="77.7" cy="165.0" r="2.4"/><circle cx="154.2" cy="163.0" r="2.4"/><circle cx="139.5" cy="173.5" r="2.4"/><circle cx="122.6" cy="143.2" r="2.4"/><circle cx="59.7" cy="139.1" r="2.4"/><circle cx="102.4" cy="154.1" r="2.4"/><circle cx="96.7" cy="170.1" r="2.4"/><circle cx="174.5" cy="147.9" r="2.4"/><circle cx="48.6" cy="165.8" r="2.4"/><circle cx="132.0" cy="174.8" r="2.4"/><circle cx="55.3" cy="156.0" r="2.4"/><circle cx="64.9" cy="174.1" r="2.4"/><circle cx="52.1" cy="145.6" r="2.4"/><circle cx="116.2" cy="176.7" r="2.4"/><circle cx="71.9" cy="139.0" r="2.4"/><circle cx="49.1" cy="177.0" r="2.4"/><circle cx="165.4" cy="170.2" r="2.4"/><circle cx="193.2" cy="162.0" r="2.4"/><circle cx="61.2" cy="157.4" r="2.4"/><circle cx="110.7" cy="123.1" r="2.4"/><circle cx="169.3" cy="158.6" r="2.4"/><circle cx="110.7" cy="111.7" r="2.4"/><circle cx="140.7" cy="143.8" r="2.4"/><circle cx="183.0" cy="144.0" r="2.4"/><circle cx="80.6" cy="157.8" r="2.4"/><circle cx="153.9" cy="158.1" r="2.4"/><circle cx="139.6" cy="165.1" r="2.4"/><circle cx="185.0" cy="140.1" r="2.4"/><circle cx="117.4" cy="160.3" r="2.4"/><circle cx="66.3" cy="167.4" r="2.4"/><circle cx="100.1" cy="137.4" r="2.4"/><circle cx="120.0" cy="157.0" r="2.4"/><circle cx="118.1" cy="125.6" r="2.4"/><circle cx="56.0" cy="169.3" r="2.4"/><circle cx="193.6" cy="160.2" r="2.4"/><circle cx="100.5" cy="117.1" r="2.4"/><circle cx="83.6" cy="168.4" r="2.4"/><circle cx="90.0" cy="158.5" r="2.4"/><circle cx="103.0" cy="164.5" r="2.4"/><circle cx="66.6" cy="169.2" r="2.4"/><circle cx="93.4" cy="142.3" r="2.4"/><circle cx="93.5" cy="149.5" r="2.4"/><circle cx="151.2" cy="164.2" r="2.4"/><circle cx="51.3" cy="159.7" r="2.4"/><circle cx="130.5" cy="170.3" r="2.4"/><circle cx="170.9" cy="141.1" r="2.4"/><circle cx="107.7" cy="172.7" r="2.4"/><circle cx="169.9" cy="157.4" r="2.4"/><circle cx="129.5" cy="164.7" r="2.4"/><circle cx="116.7" cy="144.2" r="2.4"/><circle cx="100.3" cy="117.1" r="2.4"/><circle cx="159.0" cy="164.7" r="2.4"/><circle cx="80.1" cy="137.9" r="2.4"/><circle cx="58.5" cy="136.2" r="2.4"/><circle cx="144.6" cy="144.5" r="2.4"/><circle cx="66.6" cy="157.6" r="2.4"/><circle cx="127.6" cy="142.4" r="2.4"/><circle cx="91.3" cy="120.7" r="2.4"/><circle cx="74.4" cy="176.1" r="2.4"/><circle cx="137.2" cy="173.6" r="2.4"/><circle cx="61.4" cy="159.0" r="2.4"/><circle cx="71.8" cy="147.5" r="2.4"/><circle cx="163.9" cy="171.5" r="2.4"/><circle cx="91.6" cy="164.3" r="2.4"/><circle cx="63.8" cy="111.3" r="2.4"/><circle cx="133.0" cy="144.2" r="2.4"/><circle cx="82.8" cy="156.3" r="2.4"/><circle cx="49.7" cy="170.5" r="2.4"/><circle cx="129.7" cy="149.5" r="2.4"/><circle cx="163.2" cy="121.2" r="2.4"/><circle cx="57.8" cy="140.2" r="2.4"/><circle cx="115.5" cy="129.5" r="2.4"/><circle cx="74.6" cy="166.2" r="2.4"/><circle cx="141.9" cy="107.8" r="2.4"/><circle cx="112.9" cy="165.9" r="2.4"/><circle cx="139.6" cy="126.3" r="2.4"/><circle cx="120.4" cy="136.5" r="2.4"/><circle cx="107.4" cy="135.5" r="2.4"/><circle cx="90.2" cy="164.7" r="2.4"/><circle cx="63.0" cy="169.4" r="2.4"/><circle cx="51.8" cy="158.6" r="2.4"/><circle cx="148.3" cy="159.7" r="2.4"/><circle cx="125.5" cy="144.8" r="2.4"/><circle cx="111.9" cy="164.7" r="2.4"/><circle cx="69.6" cy="133.1" r="2.4"/><circle cx="84.0" cy="163.8" r="2.4"/><circle cx="168.4" cy="142.4" r="2.4"/><circle cx="176.7" cy="149.3" r="2.4"/><circle cx="158.5" cy="143.9" r="2.4"/><circle cx="119.0" cy="174.0" r="2.4"/><circle cx="64.6" cy="151.2" r="2.4"/><circle cx="50.9" cy="173.8" r="2.4"/><circle cx="75.7" cy="174.5" r="2.4"/><circle cx="74.8" cy="156.8" r="2.4"/><circle cx="136.4" cy="164.6" r="2.4"/><circle cx="128.0" cy="147.0" r="2.4"/><circle cx="106.6" cy="122.3" r="2.4"/><circle cx="73.4" cy="122.9" r="2.4"/><circle cx="55.2" cy="153.2" r="2.4"/><circle cx="175.5" cy="141.1" r="2.4"/><circle cx="138.6" cy="122.2" r="2.4"/><circle cx="79.2" cy="93.4" r="2.4"/><circle cx="69.9" cy="171.5" r="2.4"/><circle cx="73.5" cy="163.2" r="2.4"/><circle cx="157.8" cy="164.0" r="2.4"/><circle cx="48.2" cy="160.6" r="2.4"/><circle cx="139.7" cy="134.6" r="2.4"/><circle cx="143.1" cy="130.9" r="2.4"/><circle cx="70.6" cy="135.3" r="2.4"/><circle cx="127.6" cy="137.7" r="2.4"/><circle cx="136.1" cy="172.0" r="2.4"/><circle cx="52.4" cy="137.9" r="2.4"/><circle cx="65.7" cy="151.8" r="2.4"/><circle cx="67.2" cy="174.3" r="2.4"/><circle cx="84.3" cy="136.0" r="2.4"/><circle cx="52.5" cy="165.2" r="2.4"/><circle cx="173.5" cy="153.6" r="2.4"/><circle cx="73.7" cy="163.4" r="2.4"/><circle cx="53.2" cy="140.8" r="2.4"/><circle cx="91.3" cy="175.1" r="2.4"/><circle cx="70.5" cy="145.1" r="2.4"/><circle cx="50.2" cy="159.7" r="2.4"/><circle cx="137.7" cy="169.0" r="2.4"/><circle cx="46.5" cy="151.0" r="2.4"/><circle cx="71.3" cy="156.0" r="2.4"/><circle cx="177.6" cy="164.5" r="2.4"/><circle cx="44.2" cy="169.9" r="2.4"/><circle cx="50.3" cy="155.5" r="2.4"/><circle cx="127.1" cy="166.8" r="2.4"/><circle cx="47.0" cy="151.2" r="2.4"/><circle cx="74.2" cy="118.2" r="2.4"/><circle cx="59.1" cy="131.2" r="2.4"/><circle cx="58.7" cy="157.3" r="2.4"/><circle cx="169.0" cy="150.1" r="2.4"/><circle cx="159.6" cy="164.4" r="2.4"/><circle cx="82.0" cy="137.4" r="2.4"/><circle cx="68.0" cy="165.4" r="2.4"/><circle cx="134.7" cy="160.3" r="2.4"/><circle cx="117.0" cy="166.9" r="2.4"/><circle cx="183.3" cy="155.0" r="2.4"/><circle cx="133.3" cy="168.8" r="2.4"/><circle cx="52.4" cy="148.1" r="2.4"/><circle cx="107.9" cy="162.0" r="2.4"/><circle cx="137.8" cy="177.4" r="2.4"/><circle cx="115.2" cy="158.6" r="2.4"/><circle cx="139.9" cy="178.1" r="2.4"/><circle cx="132.5" cy="120.1" r="2.4"/><circle cx="48.1" cy="171.4" r="2.4"/><circle cx="111.2" cy="143.3" r="2.4"/><circle cx="105.6" cy="132.1" r="2.4"/><circle cx="59.7" cy="173.7" r="2.4"/><circle cx="58.6" cy="172.2" r="2.4"/><circle cx="100.1" cy="132.5" r="2.4"/><circle cx="82.8" cy="177.8" r="2.4"/><circle cx="124.2" cy="151.7" r="2.4"/><circle cx="85.9" cy="165.5" r="2.4"/><circle cx="137.6" cy="131.6" r="2.4"/><circle cx="57.0" cy="177.9" r="2.4"/><circle cx="94.3" cy="175.9" r="2.4"/><circle cx="76.6" cy="174.6" r="2.4"/><circle cx="165.1" cy="133.6" r="2.4"/><circle cx="151.1" cy="151.5" r="2.4"/><circle cx="168.1" cy="130.4" r="2.4"/><circle cx="139.2" cy="174.9" r="2.4"/><circle cx="44.8" cy="163.4" r="2.4"/><circle cx="156.3" cy="133.7" r="2.4"/><circle cx="66.4" cy="178.0" r="2.4"/><circle cx="64.1" cy="142.3" r="2.4"/><circle cx="135.9" cy="162.6" r="2.4"/><circle cx="118.0" cy="169.6" r="2.4"/><circle cx="90.2" cy="173.0" r="2.4"/><circle cx="50.4" cy="168.1" r="2.4"/><circle cx="60.7" cy="153.0" r="2.4"/><circle cx="45.9" cy="177.3" r="2.4"/><circle cx="59.8" cy="126.1" r="2.4"/><circle cx="155.8" cy="159.9" r="2.4"/><circle cx="141.1" cy="144.6" r="2.4"/><circle cx="109.1" cy="123.7" r="2.4"/><circle cx="118.8" cy="125.1" r="2.4"/><circle cx="95.6" cy="161.8" r="2.4"/><circle cx="87.9" cy="152.0" r="2.4"/><circle cx="94.4" cy="171.3" r="2.4"/><circle cx="102.6" cy="174.4" r="2.4"/><circle cx="161.5" cy="158.1" r="2.4"/><circle cx="55.0" cy="162.0" r="2.4"/><circle cx="165.1" cy="147.3" r="2.4"/><circle cx="108.2" cy="163.4" r="2.4"/><circle cx="102.6" cy="166.7" r="2.4"/><circle cx="114.4" cy="155.8" r="2.4"/><circle cx="73.4" cy="176.2" r="2.4"/><circle cx="175.7" cy="162.6" r="2.4"/><circle cx="171.9" cy="158.9" r="2.4"/><circle cx="64.0" cy="171.3" r="2.4"/><circle cx="53.8" cy="177.2" r="2.4"/><circle cx="123.2" cy="173.9" r="2.4"/><circle cx="155.9" cy="171.3" r="2.4"/><circle cx="115.6" cy="157.6" r="2.4"/><circle cx="155.8" cy="174.9" r="2.4"/><circle cx="49.6" cy="154.6" r="2.4"/><circle cx="125.4" cy="139.0" r="2.4"/><circle cx="119.9" cy="137.7" r="2.4"/><circle cx="181.3" cy="149.5" r="2.4"/><circle cx="111.3" cy="166.2" r="2.4"/><circle cx="46.2" cy="161.2" r="2.4"/><circle cx="149.6" cy="147.9" r="2.4"/><circle cx="92.3" cy="176.3" r="2.4"/><circle cx="116.3" cy="146.0" r="2.4"/><circle cx="50.7" cy="149.3" r="2.4"/><circle cx="131.2" cy="122.7" r="2.4"/><circle cx="162.7" cy="170.4" r="2.4"/><circle cx="92.8" cy="173.2" r="2.4"/><circle cx="149.4" cy="176.9" r="2.4"/><circle cx="61.5" cy="107.0" r="2.4"/><circle cx="179.8" cy="148.7" r="2.4"/><circle cx="81.0" cy="166.2" r="2.4"/><circle cx="103.1" cy="143.1" r="2.4"/><circle cx="113.7" cy="169.8" r="2.4"/><circle cx="163.9" cy="144.4" r="2.4"/><circle cx="52.3" cy="169.9" r="2.4"/><circle cx="66.3" cy="166.1" r="2.4"/><circle cx="45.1" cy="169.1" r="2.4"/><circle cx="98.8" cy="162.6" r="2.4"/><circle cx="82.1" cy="153.4" r="2.4"/><circle cx="93.2" cy="125.6" r="2.4"/><circle cx="96.1" cy="177.4" r="2.4"/><circle cx="162.9" cy="145.1" r="2.4"/><circle cx="101.2" cy="162.9" r="2.4"/><circle cx="57.3" cy="156.7" r="2.4"/><circle cx="79.9" cy="168.9" r="2.4"/><circle cx="109.7" cy="169.0" r="2.4"/><circle cx="106.4" cy="178.2" r="2.4"/><circle cx="44.1" cy="178.8" r="2.4"/><circle cx="49.4" cy="168.2" r="2.4"/><circle cx="104.9" cy="179.0" r="2.4"/><circle cx="105.5" cy="150.1" r="2.4"/><circle cx="52.8" cy="145.9" r="2.4"/><circle cx="156.2" cy="159.7" r="2.4"/><circle cx="131.1" cy="140.6" r="2.4"/><circle cx="151.0" cy="171.4" r="2.4"/><circle cx="121.9" cy="161.0" r="2.4"/><circle cx="161.2" cy="139.8" r="2.4"/><circle cx="92.3" cy="141.1" r="2.4"/><circle cx="88.9" cy="164.9" r="2.4"/><circle cx="121.3" cy="152.5" r="2.4"/><circle cx="126.4" cy="161.3" r="2.4"/><circle cx="90.8" cy="146.5" r="2.4"/><circle cx="51.8" cy="147.3" r="2.4"/><circle cx="85.4" cy="175.7" r="2.4"/><circle cx="116.1" cy="151.7" r="2.4"/><circle cx="94.8" cy="156.1" r="2.4"/><circle cx="92.4" cy="154.3" r="2.4"/><circle cx="112.1" cy="164.7" r="2.4"/><circle cx="121.6" cy="121.2" r="2.4"/><circle cx="64.1" cy="158.8" r="2.4"/><circle cx="52.4" cy="147.6" r="2.4"/><circle cx="178.1" cy="161.6" r="2.4"/><circle cx="79.9" cy="139.5" r="2.4"/><circle cx="75.6" cy="159.4" r="2.4"/><circle cx="170.2" cy="159.6" r="2.4"/><circle cx="51.0" cy="164.0" r="2.4"/><circle cx="165.1" cy="158.9" r="2.4"/><circle cx="67.0" cy="119.4" r="2.4"/><circle cx="106.6" cy="135.8" r="2.4"/><circle cx="135.4" cy="118.9" r="2.4"/><circle cx="53.2" cy="178.7" r="2.4"/><circle cx="121.8" cy="155.7" r="2.4"/><circle cx="118.1" cy="176.2" r="2.4"/><circle cx="92.4" cy="162.7" r="2.4"/><circle cx="78.6" cy="159.9" r="2.4"/><circle cx="45.9" cy="174.0" r="2.4"/><circle cx="186.5" cy="156.7" r="2.4"/><circle cx="115.6" cy="116.4" r="2.4"/><circle cx="120.2" cy="139.4" r="2.4"/><circle cx="45.5" cy="176.1" r="2.4"/><circle cx="136.2" cy="169.0" r="2.4"/><circle cx="150.9" cy="167.5" r="2.4"/><circle cx="70.7" cy="141.1" r="2.4"/><circle cx="131.7" cy="146.2" r="2.4"/><circle cx="124.7" cy="157.4" r="2.4"/><circle cx="123.3" cy="114.8" r="2.4"/><circle cx="98.0" cy="165.3" r="2.4"/><circle cx="146.8" cy="176.5" r="2.4"/><circle cx="158.2" cy="135.9" r="2.4"/><circle cx="46.7" cy="179.4" r="2.4"/><circle cx="123.8" cy="116.8" r="2.4"/><circle cx="121.2" cy="116.4" r="2.4"/><circle cx="117.8" cy="154.1" r="2.4"/><circle cx="141.8" cy="162.8" r="2.4"/><circle cx="106.6" cy="154.0" r="2.4"/><circle cx="46.6" cy="153.1" r="2.4"/><circle cx="156.6" cy="136.4" r="2.4"/><circle cx="95.6" cy="147.6" r="2.4"/><circle cx="134.8" cy="159.2" r="2.4"/><circle cx="102.3" cy="172.8" r="2.4"/><circle cx="44.4" cy="135.0" r="2.4"/><circle cx="67.3" cy="147.3" r="2.4"/><circle cx="146.6" cy="140.5" r="2.4"/><circle cx="47.9" cy="165.5" r="2.4"/><circle cx="52.2" cy="136.7" r="2.4"/><circle cx="114.9" cy="167.6" r="2.4"/><circle cx="129.9" cy="152.7" r="2.4"/><circle cx="170.0" cy="158.4" r="2.4"/><circle cx="155.7" cy="135.0" r="2.4"/><circle cx="85.9" cy="159.1" r="2.4"/><circle cx="81.4" cy="132.5" r="2.4"/><circle cx="102.9" cy="120.4" r="2.4"/><circle cx="159.0" cy="171.8" r="2.4"/><circle cx="55.4" cy="146.3" r="2.4"/><circle cx="62.4" cy="115.0" r="2.4"/><circle cx="153.8" cy="152.3" r="2.4"/><circle cx="49.1" cy="178.0" r="2.4"/><circle cx="79.2" cy="158.3" r="2.4"/><circle cx="47.8" cy="175.4" r="2.4"/><circle cx="145.7" cy="169.9" r="2.4"/><circle cx="83.2" cy="127.4" r="2.4"/><circle cx="126.1" cy="146.8" r="2.4"/><circle cx="83.6" cy="157.0" r="2.4"/><circle cx="96.2" cy="154.0" r="2.4"/><circle cx="103.7" cy="165.0" r="2.4"/><circle cx="156.3" cy="123.3" r="2.4"/><circle cx="57.2" cy="178.8" r="2.4"/><circle cx="105.5" cy="150.7" r="2.4"/><circle cx="166.9" cy="153.5" r="2.4"/><circle cx="79.4" cy="126.5" r="2.4"/><circle cx="146.0" cy="159.2" r="2.4"/><circle cx="49.7" cy="169.6" r="2.4"/><circle cx="173.8" cy="157.7" r="2.4"/><circle cx="110.5" cy="121.8" r="2.4"/><circle cx="140.2" cy="121.7" r="2.4"/><circle cx="70.7" cy="118.6" r="2.4"/><circle cx="150.8" cy="155.9" r="2.4"/><circle cx="146.6" cy="152.1" r="2.4"/><circle cx="69.6" cy="141.0" r="2.4"/><circle cx="97.7" cy="145.6" r="2.4"/><circle cx="95.3" cy="121.8" r="2.4"/><circle cx="115.1" cy="145.6" r="2.4"/><circle cx="163.4" cy="151.4" r="2.4"/><circle cx="57.4" cy="175.9" r="2.4"/><circle cx="60.9" cy="169.8" r="2.4"/><circle cx="50.2" cy="167.2" r="2.4"/><circle cx="141.3" cy="151.8" r="2.4"/><circle cx="99.7" cy="172.0" r="2.4"/><circle cx="50.4" cy="179.0" r="2.4"/><circle cx="167.1" cy="164.5" r="2.4"/><circle cx="111.4" cy="172.3" r="2.4"/><circle cx="151.4" cy="165.0" r="2.4"/><circle cx="100.4" cy="151.5" r="2.4"/><circle cx="165.5" cy="169.7" r="2.4"/><circle cx="53.6" cy="155.6" r="2.4"/><circle cx="163.8" cy="147.6" r="2.4"/><circle cx="162.6" cy="152.7" r="2.4"/><circle cx="151.0" cy="146.3" r="2.4"/><circle cx="82.1" cy="163.6" r="2.4"/><circle cx="178.9" cy="152.3" r="2.4"/><circle cx="156.3" cy="159.7" r="2.4"/><circle cx="46.8" cy="171.8" r="2.4"/><circle cx="149.4" cy="172.7" r="2.4"/><circle cx="85.3" cy="173.1" r="2.4"/><circle cx="95.4" cy="173.3" r="2.4"/><circle cx="135.2" cy="158.2" r="2.4"/><circle cx="90.9" cy="163.9" r="2.4"/><circle cx="173.9" cy="147.5" r="2.4"/><circle cx="50.9" cy="174.7" r="2.4"/><circle cx="120.5" cy="158.1" r="2.4"/><circle cx="132.1" cy="138.7" r="2.4"/><circle cx="150.2" cy="168.5" r="2.4"/><circle cx="119.8" cy="146.3" r="2.4"/><circle cx="67.9" cy="158.5" r="2.4"/><circle cx="59.3" cy="150.6" r="2.4"/><circle cx="139.7" cy="139.0" r="2.4"/><circle cx="89.0" cy="171.5" r="2.4"/><circle cx="133.5" cy="149.1" r="2.4"/><circle cx="92.5" cy="123.2" r="2.4"/><circle cx="65.8" cy="137.1" r="2.4"/><circle cx="88.2" cy="160.2" r="2.4"/><circle cx="89.4" cy="168.8" r="2.4"/><circle cx="88.7" cy="152.2" r="2.4"/><circle cx="69.1" cy="171.0" r="2.4"/><circle cx="84.8" cy="157.8" r="2.4"/><circle cx="176.0" cy="151.5" r="2.4"/><circle cx="153.7" cy="143.5" r="2.4"/><circle cx="157.5" cy="165.7" r="2.4"/><circle cx="159.2" cy="144.6" r="2.4"/><circle cx="79.0" cy="132.9" r="2.4"/><circle cx="156.3" cy="163.3" r="2.4"/><circle cx="146.2" cy="164.0" r="2.4"/><circle cx="83.8" cy="171.8" r="2.4"/><circle cx="46.9" cy="159.5" r="2.4"/><circle cx="59.6" cy="152.3" r="2.4"/><circle cx="170.1" cy="143.3" r="2.4"/><circle cx="56.6" cy="160.7" r="2.4"/><circle cx="92.9" cy="149.0" r="2.4"/><circle cx="90.5" cy="165.3" r="2.4"/><circle cx="188.0" cy="159.3" r="2.4"/><circle cx="137.7" cy="126.9" r="2.4"/><circle cx="61.6" cy="125.8" r="2.4"/><circle cx="70.1" cy="163.0" r="2.4"/><circle cx="130.1" cy="157.2" r="2.4"/><circle cx="69.0" cy="167.4" r="2.4"/><circle cx="86.4" cy="129.2" r="2.4"/><circle cx="72.3" cy="168.5" r="2.4"/><circle cx="112.2" cy="157.3" r="2.4"/><circle cx="107.4" cy="134.4" r="2.4"/><circle cx="154.5" cy="167.2" r="2.4"/><circle cx="106.5" cy="166.8" r="2.4"/><circle cx="118.5" cy="120.2" r="2.4"/><circle cx="90.7" cy="126.3" r="2.4"/><circle cx="70.0" cy="149.5" r="2.4"/><circle cx="88.4" cy="176.9" r="2.4"/><circle cx="124.8" cy="138.7" r="2.4"/><circle cx="126.3" cy="166.7" r="2.4"/><circle cx="124.4" cy="154.9" r="2.4"/><circle cx="121.3" cy="110.5" r="2.4"/><circle cx="123.1" cy="159.7" r="2.4"/><circle cx="172.8" cy="159.8" r="2.4"/><circle cx="101.6" cy="162.5" r="2.4"/><circle cx="74.5" cy="164.2" r="2.4"/><circle cx="75.7" cy="147.8" r="2.4"/><circle cx="84.3" cy="121.2" r="2.4"/><circle cx="103.7" cy="161.8" r="2.4"/><circle cx="129.9" cy="170.9" r="2.4"/><circle cx="59.1" cy="174.4" r="2.4"/><circle cx="78.4" cy="160.6" r="2.4"/><circle cx="65.4" cy="131.5" r="2.4"/><circle cx="114.6" cy="165.7" r="2.4"/><circle cx="48.9" cy="145.1" r="2.4"/><circle cx="171.7" cy="161.9" r="2.4"/><circle cx="131.5" cy="172.8" r="2.4"/><circle cx="108.9" cy="149.6" r="2.4"/><circle cx="62.0" cy="165.7" r="2.4"/><circle cx="144.0" cy="168.8" r="2.4"/><circle cx="88.3" cy="168.0" r="2.4"/><circle cx="104.3" cy="154.5" r="2.4"/><circle cx="80.6" cy="155.0" r="2.4"/><circle cx="67.6" cy="161.9" r="2.4"/><circle cx="104.3" cy="153.9" r="2.4"/><circle cx="122.3" cy="126.5" r="2.4"/><circle cx="105.8" cy="115.7" r="2.4"/><circle cx="61.3" cy="156.3" r="2.4"/><circle cx="99.4" cy="172.7" r="2.4"/><circle cx="69.7" cy="178.4" r="2.4"/><circle cx="106.7" cy="156.6" r="2.4"/><circle cx="111.8" cy="133.0" r="2.4"/><circle cx="109.8" cy="148.3" r="2.4"/><circle cx="157.9" cy="165.5" r="2.4"/><circle cx="69.9" cy="153.8" r="2.4"/><circle cx="100.2" cy="165.4" r="2.4"/><circle cx="144.3" cy="157.6" r="2.4"/><circle cx="122.9" cy="168.6" r="2.4"/><circle cx="122.8" cy="152.6" r="2.4"/><circle cx="106.0" cy="171.7" r="2.4"/><circle cx="179.6" cy="156.4" r="2.4"/><circle cx="113.8" cy="170.8" r="2.4"/><circle cx="144.2" cy="149.3" r="2.4"/><circle cx="91.1" cy="169.6" r="2.4"/><circle cx="68.7" cy="161.1" r="2.4"/><circle cx="111.3" cy="152.0" r="2.4"/><circle cx="139.4" cy="169.2" r="2.4"/><circle cx="129.0" cy="137.5" r="2.4"/><circle cx="156.7" cy="173.2" r="2.4"/><circle cx="66.8" cy="161.7" r="2.4"/><circle cx="67.2" cy="173.1" r="2.4"/><circle cx="128.3" cy="125.3" r="2.4"/><circle cx="67.3" cy="170.8" r="2.4"/><circle cx="160.5" cy="146.7" r="2.4"/><circle cx="71.2" cy="120.5" r="2.4"/><circle cx="192.2" cy="149.5" r="2.4"/><circle cx="90.3" cy="148.4" r="2.4"/><circle cx="59.8" cy="169.0" r="2.4"/><circle cx="159.7" cy="161.1" r="2.4"/><circle cx="46.2" cy="162.8" r="2.4"/><circle cx="91.5" cy="179.2" r="2.4"/><circle cx="188.1" cy="162.0" r="2.4"/><circle cx="64.1" cy="152.2" r="2.4"/><circle cx="108.6" cy="147.2" r="2.4"/><circle cx="67.8" cy="173.3" r="2.4"/><circle cx="90.0" cy="134.9" r="2.4"/><circle cx="119.4" cy="135.8" r="2.4"/><circle cx="164.4" cy="130.4" r="2.4"/><circle cx="91.1" cy="93.5" r="2.4"/><circle cx="49.8" cy="173.1" r="2.4"/><circle cx="99.4" cy="167.9" r="2.4"/><circle cx="87.9" cy="176.9" r="2.4"/><circle cx="136.5" cy="146.5" r="2.4"/><circle cx="93.3" cy="177.8" r="2.4"/><circle cx="168.0" cy="161.4" r="2.4"/><circle cx="61.6" cy="161.6" r="2.4"/><circle cx="123.0" cy="161.2" r="2.4"/><circle cx="101.6" cy="162.5" r="2.4"/><circle cx="137.4" cy="154.6" r="2.4"/><circle cx="184.0" cy="138.8" r="2.4"/><circle cx="174.4" cy="133.8" r="2.4"/><circle cx="122.9" cy="127.1" r="2.4"/><circle cx="55.1" cy="165.6" r="2.4"/><circle cx="88.2" cy="148.6" r="2.4"/><circle cx="64.3" cy="169.8" r="2.4"/><circle cx="93.2" cy="121.8" r="2.4"/><circle cx="74.6" cy="164.8" r="2.4"/><circle cx="93.5" cy="158.1" r="2.4"/><circle cx="90.5" cy="131.1" r="2.4"/><circle cx="110.9" cy="176.1" r="2.4"/><circle cx="88.4" cy="150.8" r="2.4"/><circle cx="106.0" cy="152.6" r="2.4"/><circle cx="88.3" cy="177.4" r="2.4"/><circle cx="102.1" cy="123.8" r="2.4"/><circle cx="95.2" cy="153.7" r="2.4"/><circle cx="56.4" cy="143.4" r="2.4"/><circle cx="168.3" cy="156.8" r="2.4"/><circle cx="116.0" cy="153.8" r="2.4"/><circle cx="151.7" cy="167.3" r="2.4"/><circle cx="122.2" cy="179.1" r="2.4"/><circle cx="121.0" cy="149.5" r="2.4"/><circle cx="136.8" cy="161.5" r="2.4"/><circle cx="168.3" cy="157.4" r="2.4"/><circle cx="153.8" cy="131.5" r="2.4"/><circle cx="53.2" cy="137.6" r="2.4"/><circle cx="46.5" cy="159.3" r="2.4"/><circle cx="57.1" cy="152.8" r="2.4"/><circle cx="111.1" cy="143.8" r="2.4"/><circle cx="130.3" cy="134.0" r="2.4"/><circle cx="73.5" cy="175.4" r="2.4"/><circle cx="70.9" cy="174.0" r="2.4"/><circle cx="145.4" cy="168.5" r="2.4"/><circle cx="47.7" cy="170.1" r="2.4"/><circle cx="183.2" cy="161.3" r="2.4"/><circle cx="51.9" cy="167.0" r="2.4"/><circle cx="75.8" cy="143.3" r="2.4"/><circle cx="53.4" cy="176.1" r="2.4"/><circle cx="149.4" cy="177.0" r="2.4"/><circle cx="111.5" cy="145.6" r="2.4"/><circle cx="75.1" cy="128.4" r="2.4"/><circle cx="133.4" cy="152.8" r="2.4"/><circle cx="162.7" cy="153.8" r="2.4"/><circle cx="163.2" cy="131.2" r="2.4"/><circle cx="106.4" cy="149.9" r="2.4"/><circle cx="100.1" cy="149.0" r="2.4"/><circle cx="66.6" cy="154.1" r="2.4"/><circle cx="152.8" cy="143.5" r="2.4"/><circle cx="78.0" cy="135.2" r="2.4"/><circle cx="91.8" cy="135.2" r="2.4"/><circle cx="68.7" cy="124.0" r="2.4"/><circle cx="58.2" cy="140.3" r="2.4"/><circle cx="131.7" cy="172.8" r="2.4"/><circle cx="88.0" cy="177.5" r="2.4"/><circle cx="117.6" cy="152.9" r="2.4"/><circle cx="101.5" cy="160.4" r="2.4"/><circle cx="122.3" cy="150.7" r="2.4"/><circle cx="77.5" cy="178.9" r="2.4"/><circle cx="106.6" cy="178.0" r="2.4"/><circle cx="84.4" cy="172.8" r="2.4"/><circle cx="145.1" cy="170.9" r="2.4"/><circle cx="130.4" cy="155.2" r="2.4"/><circle cx="150.6" cy="135.5" r="2.4"/><circle cx="104.3" cy="111.2" r="2.4"/><circle cx="69.5" cy="158.8" r="2.4"/><circle cx="82.9" cy="163.7" r="2.4"/><circle cx="121.4" cy="164.3" r="2.4"/><circle cx="175.8" cy="140.9" r="2.4"/><circle cx="44.6" cy="176.1" r="2.4"/><circle cx="86.4" cy="175.3" r="2.4"/><circle cx="97.7" cy="146.2" r="2.4"/><circle cx="105.5" cy="179.0" r="2.4"/><circle cx="134.2" cy="177.2" r="2.4"/><circle cx="135.4" cy="137.9" r="2.4"/><circle cx="139.3" cy="131.9" r="2.4"/><circle cx="89.5" cy="169.0" r="2.4"/><circle cx="96.0" cy="164.4" r="2.4"/><circle cx="142.7" cy="132.6" r="2.4"/><circle cx="62.9" cy="40.8" r="2.4"/><circle cx="88.1" cy="52.8" r="2.4"/><circle cx="82.3" cy="57.2" r="2.4"/><circle cx="87.6" cy="65.2" r="2.4"/><circle cx="96.2" cy="62.3" r="2.4"/><circle cx="113.5" cy="60.0" r="2.4"/><circle cx="109.6" cy="63.4" r="2.4"/><circle cx="132.2" cy="63.0" r="2.4"/><circle cx="105.2" cy="71.5" r="2.4"/><circle cx="113.8" cy="74.5" r="2.4"/><circle cx="80.0" cy="76.9" r="2.4"/><circle cx="67.7" cy="81.2" r="2.4"/><circle cx="73.3" cy="81.5" r="2.4"/><circle cx="86.5" cy="79.4" r="2.4"/><circle cx="88.8" cy="79.1" r="2.4"/><circle cx="87.2" cy="82.2" r="2.4"/><circle cx="88.3" cy="84.2" r="2.4"/><circle cx="74.0" cy="86.6" r="2.4"/><circle cx="77.4" cy="88.4" r="2.4"/><circle cx="80.2" cy="91.2" r="2.4"/><circle cx="76.1" cy="91.9" r="2.4"/><circle cx="71.2" cy="91.9" r="2.4"/><circle cx="69.1" cy="93.3" r="2.4"/><circle cx="85.8" cy="92.6" r="2.4"/><circle cx="101.0" cy="86.3" r="2.4"/><circle cx="104.9" cy="87.4" r="2.4"/><circle cx="120.4" cy="86.3" r="2.4"/><circle cx="124.6" cy="87.0" r="2.4"/><circle cx="118.4" cy="88.4" r="2.4"/><circle cx="122.5" cy="89.8" r="2.4"/><circle cx="123.9" cy="91.9" r="2.4"/><circle cx="96.2" cy="91.2" r="2.4"/><circle cx="100.3" cy="92.3" r="2.4"/><circle cx="92.7" cy="95.1" r="2.4"/><circle cx="105.5" cy="94.9" r="2.4"/><circle cx="117.7" cy="93.9" r="2.4"/><circle cx="65.0" cy="98.8" r="2.4"/><circle cx="64.3" cy="104.3" r="2.4"/><circle cx="72.2" cy="104.1" r="2.4"/><circle cx="61.5" cy="109.9" r="2.4"/><circle cx="65.7" cy="106.4" r="2.4"/><circle cx="132.2" cy="62.9" r="2.4"/><circle cx="136.1" cy="73.9" r="2.4"/><circle cx="143.1" cy="73.9" r="2.4"/><circle cx="195.3" cy="85.5" r="2.4"/><circle cx="137.6" cy="92.1" r="2.4"/><circle cx="162.4" cy="93.3" r="2.4"/><circle cx="141.0" cy="97.2" r="2.4"/><circle cx="143.4" cy="96.2" r="2.4"/><circle cx="156.6" cy="101.2" r="2.4"/><circle cx="132.2" cy="99.1" r="2.4"/><circle cx="133.6" cy="100.1" r="2.4"/><circle cx="138.8" cy="103.1" r="2.4"/><circle cx="140.2" cy="103.8" r="2.4"/><circle cx="169.4" cy="108.9" r="2.4"/><circle cx="154.1" cy="108.9" r="2.4"/><circle cx="163.6" cy="114.0" r="2.4"/><circle cx="167.2" cy="112.3" r="2.4"/><circle cx="173.8" cy="116.2" r="2.4"/><circle cx="184.3" cy="114.7" r="2.4"/><circle cx="188.1" cy="114.7" r="2.4"/><circle cx="180.4" cy="121.3" r="2.4"/><circle cx="188.4" cy="124.2" r="2.4"/><circle cx="194.2" cy="124.2" r="2.4"/><circle cx="188.4" cy="128.6" r="2.4"/><circle cx="189.1" cy="130.1" r="2.4"/><circle cx="198.2" cy="131.5" r="2.4"/><circle cx="198.6" cy="136.6" r="2.4"/><circle cx="206.6" cy="137.4" r="2.4"/><circle cx="197.2" cy="143.2" r="2.4"/><circle cx="201.5" cy="143.9" r="2.4"/><circle cx="198.6" cy="148.3" r="2.4"/><circle cx="191.3" cy="146.9" r="2.4"/><circle cx="186.2" cy="147.3" r="2.4"/><circle cx="212.9" cy="146.1" r="2.4"/><circle cx="219.3" cy="151.2" r="2.4"/><circle cx="196.4" cy="154.2" r="2.4"/><circle cx="204.5" cy="153.4" r="2.4"/><circle cx="208.8" cy="156.1" r="2.4"/><circle cx="189.9" cy="157.1" r="2.4"/><circle cx="194.2" cy="157.8" r="2.4"/><circle cx="200.5" cy="160.4" r="2.4"/><circle cx="183.3" cy="165.1" r="2.4"/><circle cx="187.7" cy="160.7" r="2.4"/><circle cx="187.7" cy="170.2" r="2.4"/><circle cx="189.9" cy="171.7" r="2.4"/><circle cx="194.2" cy="174.3" r="2.4"/><circle cx="172.3" cy="179.0" r="2.4"/><circle cx="164.3" cy="179.7" r="2.4"/><circle cx="45.8" cy="123.3" r="2.4"/><circle cx="51.5" cy="120.2" r="2.4"/><circle cx="51.5" cy="128.5" r="2.4"/><circle cx="55.5" cy="128.5" r="2.4"/><circle cx="47.5" cy="140.0" r="2.4"/><circle cx="49.5" cy="143.6" r="2.4"/><circle cx="45.0" cy="149.0" r="2.4"/><circle cx="43.6" cy="155.8" r="2.4"/><circle cx="47.0" cy="158.5" r="2.4"/><circle cx="65.0" cy="98.5" r="2.4"/><circle cx="72.5" cy="104.5" r="2.4"/><circle cx="63.0" cy="104.0" r="2.4"/><circle cx="66.0" cy="106.5" r="2.4"/><circle cx="61.5" cy="110.0" r="2.4"/><circle cx="63.0" cy="114.0" r="2.4"/><circle cx="110.8" cy="17.5" r="2.4"/></g>
<line x1="42.00" y1="167.20" x2="219.50" y2="133.50" stroke="#ec5f58" stroke-width="1.1"/>
<line x1="41.40" y1="8.50" x2="41.40" y2="191.80" stroke="#3a3a3a" stroke-width="0.9"/>
<line x1="41.00" y1="191.30" x2="229.00" y2="191.30" stroke="#3a3a3a" stroke-width="0.9"/>
<line x1="39.40" y1="179.30" x2="41.40" y2="179.30" stroke="#3a3a3a" stroke-width="0.6"/>
<text class="A" x="38.00" y="182.60" font-size="9" text-anchor="end" fill="#000" textLength="8.2" lengthAdjust="spacingAndGlyphs" stroke="#000" stroke-width="0.2">−5</text>
<line x1="39.40" y1="158.00" x2="41.40" y2="158.00" stroke="#3a3a3a" stroke-width="0.6"/>
<text class="A" x="38.00" y="161.30" font-size="9" text-anchor="end" fill="#000" textLength="4.0" lengthAdjust="spacingAndGlyphs" stroke="#000" stroke-width="0.2">0</text>
<line x1="39.40" y1="136.70" x2="41.40" y2="136.70" stroke="#3a3a3a" stroke-width="0.6"/>
<text class="A" x="38.00" y="140.00" font-size="9" text-anchor="end" fill="#000" textLength="4.0" lengthAdjust="spacingAndGlyphs" stroke="#000" stroke-width="0.2">5</text>
<line x1="39.40" y1="115.40" x2="41.40" y2="115.40" stroke="#3a3a3a" stroke-width="0.6"/>
<text class="A" x="38.00" y="118.70" font-size="9" text-anchor="end" fill="#000" textLength="8.0" lengthAdjust="spacingAndGlyphs" stroke="#000" stroke-width="0.2">10</text>
<line x1="39.40" y1="94.10" x2="41.40" y2="94.10" stroke="#3a3a3a" stroke-width="0.6"/>
<text class="A" x="38.00" y="97.40" font-size="9" text-anchor="end" fill="#000" textLength="8.0" lengthAdjust="spacingAndGlyphs" stroke="#000" stroke-width="0.2">15</text>
<line x1="39.40" y1="72.80" x2="41.40" y2="72.80" stroke="#3a3a3a" stroke-width="0.6"/>
<text class="A" x="38.00" y="76.10" font-size="9" text-anchor="end" fill="#000" textLength="8.0" lengthAdjust="spacingAndGlyphs" stroke="#000" stroke-width="0.2">20</text>
<line x1="39.40" y1="51.50" x2="41.40" y2="51.50" stroke="#3a3a3a" stroke-width="0.6"/>
<text class="A" x="38.00" y="54.80" font-size="9" text-anchor="end" fill="#000" textLength="8.0" lengthAdjust="spacingAndGlyphs" stroke="#000" stroke-width="0.2">25</text>
<line x1="39.40" y1="30.20" x2="41.40" y2="30.20" stroke="#3a3a3a" stroke-width="0.6"/>
<text class="A" x="38.00" y="33.50" font-size="9" text-anchor="end" fill="#000" textLength="8.0" lengthAdjust="spacingAndGlyphs" stroke="#000" stroke-width="0.2">30</text>
<line x1="39.40" y1="8.90" x2="41.40" y2="8.90" stroke="#3a3a3a" stroke-width="0.6"/>
<text class="A" x="38.00" y="12.20" font-size="9" text-anchor="end" fill="#000" textLength="8.0" lengthAdjust="spacingAndGlyphs" stroke="#000" stroke-width="0.2">35</text>
<line x1="63.40" y1="191.30" x2="63.40" y2="193.30" stroke="#3a3a3a" stroke-width="0.6"/>
<text class="A" transform="translate(61.90,198.20) rotate(-60)" font-size="9" text-anchor="end" fill="#000" textLength="8.2" lengthAdjust="spacingAndGlyphs" stroke="#000" stroke-width="0.2">−2</text>
<line x1="93.70" y1="191.30" x2="93.70" y2="193.30" stroke="#3a3a3a" stroke-width="0.6"/>
<text class="A" transform="translate(92.20,198.20) rotate(-60)" font-size="9" text-anchor="end" fill="#000" textLength="4.0" lengthAdjust="spacingAndGlyphs" stroke="#000" stroke-width="0.2">0</text>
<line x1="124.00" y1="191.30" x2="124.00" y2="193.30" stroke="#3a3a3a" stroke-width="0.6"/>
<text class="A" transform="translate(122.50,198.20) rotate(-60)" font-size="9" text-anchor="end" fill="#000" textLength="4.0" lengthAdjust="spacingAndGlyphs" stroke="#000" stroke-width="0.2">2</text>
<line x1="154.30" y1="191.30" x2="154.30" y2="193.30" stroke="#3a3a3a" stroke-width="0.6"/>
<text class="A" transform="translate(152.80,198.20) rotate(-60)" font-size="9" text-anchor="end" fill="#000" textLength="4.0" lengthAdjust="spacingAndGlyphs" stroke="#000" stroke-width="0.2">4</text>
<line x1="184.60" y1="191.30" x2="184.60" y2="193.30" stroke="#3a3a3a" stroke-width="0.6"/>
<text class="A" transform="translate(183.10,198.20) rotate(-60)" font-size="9" text-anchor="end" fill="#000" textLength="4.0" lengthAdjust="spacingAndGlyphs" stroke="#000" stroke-width="0.2">6</text>
<line x1="214.90" y1="191.30" x2="214.90" y2="193.30" stroke="#3a3a3a" stroke-width="0.6"/>
<text class="A" transform="translate(213.40,198.20) rotate(-60)" font-size="9" text-anchor="end" fill="#000" textLength="4.0" lengthAdjust="spacingAndGlyphs" stroke="#000" stroke-width="0.2">8</text>
<text class="Ab" x="61.3" y="215.2" font-size="8.25">Environmental Factors <tspan class="Sb">1</tspan><tspan class="S" font-style="italic" font-weight="normal" font-size="5.6" dy="-3.2">st</tspan><tspan dy="3.2"> Component</tspan></text>
<text class="Ab" transform="translate(26.2,145) rotate(-90)" font-size="8.35">Profiles <tspan class="Sb">1</tspan><tspan class="S" font-style="italic" font-weight="normal" font-size="5.6" dy="-3.2">st</tspan><tspan dy="3.2"> Component</tspan></text>
<text class="Sb" transform="translate(281.70,16.69) scale(0.2089,0.2086)" font-size="100" stroke="#000" stroke-width="2.2">b</text>
<line x1="327.60" y1="9.20" x2="327.60" y2="187.40" stroke="#3a3a3a" stroke-width="0.9"/>
<line x1="325.60" y1="9.20" x2="327.60" y2="9.20" stroke="#3a3a3a" stroke-width="0.6"/>
<text class="S" x="325.00" y="13.00" font-size="9.9" text-anchor="end" fill="#000" textLength="12.0" lengthAdjust="spacingAndGlyphs" stroke="#000" stroke-width="0.25">0.3</text>
<line x1="325.60" y1="38.90" x2="327.60" y2="38.90" stroke="#3a3a3a" stroke-width="0.6"/>
<text class="S" x="325.00" y="42.70" font-size="9.9" text-anchor="end" fill="#000" textLength="12.0" lengthAdjust="spacingAndGlyphs" stroke="#000" stroke-width="0.25">0.2</text>
<line x1="325.60" y1="68.60" x2="327.60" y2="68.60" stroke="#3a3a3a" stroke-width="0.6"/>
<text class="S" x="325.00" y="72.40" font-size="9.9" text-anchor="end" fill="#000" textLength="12.0" lengthAdjust="spacingAndGlyphs" stroke="#000" stroke-width="0.25">0.1</text>
<line x1="325.60" y1="98.30" x2="327.60" y2="98.30" stroke="#3a3a3a" stroke-width="0.6"/>
<text class="S" x="325.00" y="102.10" font-size="9.9" text-anchor="end" fill="#000" textLength="12.0" lengthAdjust="spacingAndGlyphs" stroke="#000" stroke-width="0.25">0.0</text>
<line x1="325.60" y1="128.00" x2="327.60" y2="128.00" stroke="#3a3a3a" stroke-width="0.6"/>
<text class="S" x="325.00" y="131.80" font-size="9.9" text-anchor="end" fill="#000" textLength="17.4" lengthAdjust="spacingAndGlyphs" stroke="#000" stroke-width="0.25">−0.1</text>
<line x1="325.60" y1="157.70" x2="327.60" y2="157.70" stroke="#3a3a3a" stroke-width="0.6"/>
<text class="S" x="325.00" y="161.50" font-size="9.9" text-anchor="end" fill="#000" textLength="17.4" lengthAdjust="spacingAndGlyphs" stroke="#000" stroke-width="0.25">−0.2</text>
<line x1="325.60" y1="187.40" x2="327.60" y2="187.40" stroke="#3a3a3a" stroke-width="0.6"/>
<text class="S" x="325.00" y="191.20" font-size="9.9" text-anchor="end" fill="#000" textLength="17.4" lengthAdjust="spacingAndGlyphs" stroke="#000" stroke-width="0.25">−0.3</text>
<rect x="329.95" y="63.55" width="13.70" height="34.75" fill="#a9e15f"/>
<text class="S" transform="translate(336.20,62.45) rotate(-90)" font-size="8.7" text-anchor="start" fill="#000" textLength="15.2" lengthAdjust="spacingAndGlyphs" dy="0.33em" stroke="#000" stroke-width="0.2">0.12</text>
<line x1="336.80" y1="187.60" x2="336.80" y2="188.80" stroke="#555" stroke-width="0.5"/>
<text class="A" transform="translate(336.80,190.50) rotate(-90)" font-size="7" text-anchor="end" fill="#000" dy="0.34em" stroke="#000" stroke-width="0.12">Profile 1</text>
<rect x="347.15" y="50.48" width="13.70" height="47.82" fill="#a9e15f"/>
<text class="S" transform="translate(353.40,49.38) rotate(-90)" font-size="8.7" text-anchor="start" fill="#000" textLength="15.2" lengthAdjust="spacingAndGlyphs" dy="0.33em" stroke="#000" stroke-width="0.2">0.16</text>
<line x1="354.00" y1="187.60" x2="354.00" y2="188.80" stroke="#555" stroke-width="0.5"/>
<text class="A" transform="translate(354.00,190.50) rotate(-90)" font-size="7" text-anchor="end" fill="#000" dy="0.34em" stroke="#000" stroke-width="0.12">Profile 2</text>
<rect x="364.25" y="98.30" width="13.70" height="46.63" fill="#a9e15f"/>
<text class="S" transform="translate(370.50,146.03) rotate(-90)" font-size="8.7" text-anchor="end" fill="#000" textLength="19.7" lengthAdjust="spacingAndGlyphs" dy="0.33em" stroke="#000" stroke-width="0.2">-0.16</text>
<line x1="371.10" y1="187.60" x2="371.10" y2="188.80" stroke="#555" stroke-width="0.5"/>
<text class="A" transform="translate(371.10,190.50) rotate(-90)" font-size="7" text-anchor="end" fill="#000" dy="0.34em" stroke="#000" stroke-width="0.12">Profile 3</text>
<rect x="381.45" y="87.31" width="13.70" height="10.99" fill="#a9e15f"/>
<text class="S" transform="translate(387.70,86.21) rotate(-90)" font-size="8.7" text-anchor="start" fill="#000" textLength="15.2" lengthAdjust="spacingAndGlyphs" dy="0.33em" stroke="#000" stroke-width="0.2">0.04</text>
<line x1="388.30" y1="187.60" x2="388.30" y2="188.80" stroke="#555" stroke-width="0.5"/>
<text class="A" transform="translate(388.30,190.50) rotate(-90)" font-size="7" text-anchor="end" fill="#000" dy="0.34em" stroke="#000" stroke-width="0.12">Profile 4</text>
<text class="Sb" transform="translate(306.10,98.45) rotate(-90)" font-size="8.85" text-anchor="middle" textLength="35.2" lengthAdjust="spacingAndGlyphs">Loadings</text>
<text class="Sb" transform="translate(441.10,16.66) scale(0.2136,0.2417)" font-size="100" stroke="#000" stroke-width="2.2">c</text>
<line x1="482.20" y1="6.20" x2="482.20" y2="140.80" stroke="#3a3a3a" stroke-width="0.9"/>
<line x1="480.20" y1="19.80" x2="482.20" y2="19.80" stroke="#3a3a3a" stroke-width="0.6"/>
<text class="S" x="479.60" y="23.60" font-size="10" text-anchor="end" fill="#000" textLength="12.1" lengthAdjust="spacingAndGlyphs" stroke="#000" stroke-width="0.25">0.4</text>
<line x1="480.20" y1="46.60" x2="482.20" y2="46.60" stroke="#3a3a3a" stroke-width="0.6"/>
<text class="S" x="479.60" y="50.40" font-size="10" text-anchor="end" fill="#000" textLength="12.1" lengthAdjust="spacingAndGlyphs" stroke="#000" stroke-width="0.25">0.2</text>
<line x1="480.20" y1="73.40" x2="482.20" y2="73.40" stroke="#3a3a3a" stroke-width="0.6"/>
<text class="S" x="479.60" y="77.20" font-size="10" text-anchor="end" fill="#000" textLength="12.1" lengthAdjust="spacingAndGlyphs" stroke="#000" stroke-width="0.25">0.0</text>
<line x1="480.20" y1="100.20" x2="482.20" y2="100.20" stroke="#3a3a3a" stroke-width="0.6"/>
<text class="S" x="479.60" y="104.00" font-size="10" text-anchor="end" fill="#000" textLength="17.6" lengthAdjust="spacingAndGlyphs" stroke="#000" stroke-width="0.25">−0.2</text>
<line x1="480.20" y1="127.00" x2="482.20" y2="127.00" stroke="#3a3a3a" stroke-width="0.6"/>
<text class="S" x="479.60" y="130.80" font-size="10" text-anchor="end" fill="#000" textLength="17.6" lengthAdjust="spacingAndGlyphs" stroke="#000" stroke-width="0.25">−0.4</text>
<rect x="483.10" y="73.40" width="7.00" height="30.82" fill="#f3c5e6"/>
<text class="S" transform="translate(486.00,105.32) rotate(-90)" font-size="8.7" text-anchor="end" fill="#000" textLength="19.7" lengthAdjust="spacingAndGlyphs" dy="0.33em" stroke="#000" stroke-width="0.2">-0.23</text>
<line x1="486.60" y1="141.00" x2="486.60" y2="142.20" stroke="#555" stroke-width="0.5"/>
<text class="A" transform="translate(486.60,143.00) rotate(-90)" font-size="7.7" text-anchor="end" fill="#000" dy="0.34em" stroke="#000" stroke-width="0.12">NeighborhoodSafety</text>
<rect x="491.90" y="73.40" width="7.00" height="21.44" fill="#f3c5e6"/>
<text class="S" transform="translate(494.80,95.94) rotate(-90)" font-size="8.7" text-anchor="end" fill="#000" textLength="19.7" lengthAdjust="spacingAndGlyphs" dy="0.33em" stroke="#000" stroke-width="0.2">-0.16</text>
<line x1="495.40" y1="141.00" x2="495.40" y2="142.20" stroke="#555" stroke-width="0.5"/>
<text class="A" transform="translate(495.40,143.00) rotate(-90)" font-size="7.7" text-anchor="end" fill="#000" dy="0.34em" stroke="#000" stroke-width="0.12">ParentalAcceptance</text>
<rect x="500.70" y="73.40" width="7.00" height="24.12" fill="#f3c5e6"/>
<text class="S" transform="translate(503.60,98.62) rotate(-90)" font-size="8.7" text-anchor="end" fill="#000" textLength="19.7" lengthAdjust="spacingAndGlyphs" dy="0.33em" stroke="#000" stroke-width="0.2">-0.18</text>
<line x1="504.20" y1="141.00" x2="504.20" y2="142.20" stroke="#555" stroke-width="0.5"/>
<text class="A" transform="translate(504.20,143.00) rotate(-90)" font-size="7.7" text-anchor="end" fill="#000" dy="0.34em" stroke="#000" stroke-width="0.12">ParentalMonitoring</text>
<rect x="509.50" y="45.26" width="7.00" height="28.14" fill="#f3c5e6"/>
<text class="S" transform="translate(512.40,44.16) rotate(-90)" font-size="8.7" text-anchor="start" fill="#000" textLength="15.2" lengthAdjust="spacingAndGlyphs" dy="0.33em" stroke="#000" stroke-width="0.2">0.21</text>
<line x1="513.00" y1="141.00" x2="513.00" y2="142.20" stroke="#555" stroke-width="0.5"/>
<text class="A" transform="translate(513.00,143.00) rotate(-90)" font-size="7.7" text-anchor="end" fill="#000" dy="0.34em" stroke="#000" stroke-width="0.12">FamilyConflict</text>
<rect x="518.30" y="73.40" width="7.00" height="18.76" fill="#f3c5e6"/>
<text class="S" transform="translate(521.20,93.26) rotate(-90)" font-size="8.7" text-anchor="end" fill="#000" textLength="19.7" lengthAdjust="spacingAndGlyphs" dy="0.33em" stroke="#000" stroke-width="0.2">-0.14</text>
<line x1="521.80" y1="141.00" x2="521.80" y2="142.20" stroke="#555" stroke-width="0.5"/>
<text class="A" transform="translate(521.80,143.00) rotate(-90)" font-size="7.7" text-anchor="end" fill="#000" dy="0.34em" stroke="#000" stroke-width="0.12">SchoolEnvironment</text>
<rect x="527.10" y="73.40" width="7.00" height="20.10" fill="#f3c5e6"/>
<text class="S" transform="translate(530.00,94.60) rotate(-90)" font-size="8.7" text-anchor="end" fill="#000" textLength="19.7" lengthAdjust="spacingAndGlyphs" dy="0.33em" stroke="#000" stroke-width="0.2">-0.15</text>
<line x1="530.60" y1="141.00" x2="530.60" y2="142.20" stroke="#555" stroke-width="0.5"/>
<text class="A" transform="translate(530.60,143.00) rotate(-90)" font-size="7.7" text-anchor="end" fill="#000" dy="0.34em" stroke="#000" stroke-width="0.12">SchoolInvolvement</text>
<rect x="535.90" y="53.30" width="7.00" height="20.10" fill="#f3c5e6"/>
<text class="S" transform="translate(538.80,52.20) rotate(-90)" font-size="8.7" text-anchor="start" fill="#000" textLength="15.2" lengthAdjust="spacingAndGlyphs" dy="0.33em" stroke="#000" stroke-width="0.2">0.15</text>
<line x1="539.40" y1="141.00" x2="539.40" y2="142.20" stroke="#555" stroke-width="0.5"/>
<text class="A" transform="translate(539.40,143.00) rotate(-90)" font-size="7.7" text-anchor="end" fill="#000" dy="0.34em" stroke="#000" stroke-width="0.12">SchoolDisengagement</text>
<rect x="544.70" y="34.54" width="7.00" height="38.86" fill="#f3c5e6"/>
<text class="S" transform="translate(547.60,33.44) rotate(-90)" font-size="8.7" text-anchor="start" fill="#000" textLength="15.2" lengthAdjust="spacingAndGlyphs" dy="0.33em" stroke="#000" stroke-width="0.2">0.29</text>
<line x1="548.20" y1="141.00" x2="548.20" y2="142.20" stroke="#555" stroke-width="0.5"/>
<text class="A" transform="translate(548.20,143.00) rotate(-90)" font-size="7.7" text-anchor="end" fill="#000" dy="0.34em" stroke="#000" stroke-width="0.12">FoodInsecurity</text>
<rect x="553.50" y="33.20" width="7.00" height="40.20" fill="#f3c5e6"/>
<text class="S" transform="translate(556.40,32.10) rotate(-90)" font-size="8.7" text-anchor="start" fill="#000" textLength="15.2" lengthAdjust="spacingAndGlyphs" dy="0.33em" stroke="#000" stroke-width="0.2">0.30</text>
<line x1="557.00" y1="141.00" x2="557.00" y2="142.20" stroke="#555" stroke-width="0.5"/>
<text class="A" transform="translate(557.00,143.00) rotate(-90)" font-size="7.7" text-anchor="end" fill="#000" dy="0.34em" stroke="#000" stroke-width="0.12">Bills</text>
<rect x="562.30" y="33.20" width="7.00" height="40.20" fill="#f3c5e6"/>
<text class="S" transform="translate(565.20,32.10) rotate(-90)" font-size="8.7" text-anchor="start" fill="#000" textLength="15.2" lengthAdjust="spacingAndGlyphs" dy="0.33em" stroke="#000" stroke-width="0.2">0.30</text>
<line x1="565.80" y1="141.00" x2="565.80" y2="142.20" stroke="#555" stroke-width="0.5"/>
<text class="A" transform="translate(565.80,143.00) rotate(-90)" font-size="7.7" text-anchor="end" fill="#000" dy="0.34em" stroke="#000" stroke-width="0.12">Housing</text>
<rect x="571.10" y="37.22" width="7.00" height="36.18" fill="#f3c5e6"/>
<text class="S" transform="translate(574.00,36.12) rotate(-90)" font-size="8.7" text-anchor="start" fill="#000" textLength="15.2" lengthAdjust="spacingAndGlyphs" dy="0.33em" stroke="#000" stroke-width="0.2">0.27</text>
<line x1="574.60" y1="141.00" x2="574.60" y2="142.20" stroke="#555" stroke-width="0.5"/>
<text class="A" transform="translate(574.60,143.00) rotate(-90)" font-size="7.7" text-anchor="end" fill="#000" dy="0.34em" stroke="#000" stroke-width="0.12">Medical</text>
<rect x="579.90" y="47.94" width="7.00" height="25.46" fill="#f3c5e6"/>
<text class="S" transform="translate(582.80,46.84) rotate(-90)" font-size="8.7" text-anchor="start" fill="#000" textLength="15.2" lengthAdjust="spacingAndGlyphs" dy="0.33em" stroke="#000" stroke-width="0.2">0.19</text>
<line x1="583.40" y1="141.00" x2="583.40" y2="142.20" stroke="#555" stroke-width="0.5"/>
<text class="A" transform="translate(583.40,143.00) rotate(-90)" font-size="7.7" text-anchor="end" fill="#000" dy="0.34em" stroke="#000" stroke-width="0.12">TraumaticEvents</text>
<rect x="588.70" y="53.30" width="7.00" height="20.10" fill="#f3c5e6"/>
<text class="S" transform="translate(591.60,52.20) rotate(-90)" font-size="8.7" text-anchor="start" fill="#000" textLength="15.2" lengthAdjust="spacingAndGlyphs" dy="0.33em" stroke="#000" stroke-width="0.2">0.15</text>
<line x1="592.20" y1="141.00" x2="592.20" y2="142.20" stroke="#555" stroke-width="0.5"/>
<text class="A" transform="translate(592.20,143.00) rotate(-90)" font-size="7.7" text-anchor="end" fill="#000" dy="0.34em" stroke="#000" stroke-width="0.12">TotalPrenatal</text>
<rect x="597.50" y="51.96" width="7.00" height="21.44" fill="#f3c5e6"/>
<text class="S" transform="translate(600.40,50.86) rotate(-90)" font-size="8.7" text-anchor="start" fill="#000" textLength="15.2" lengthAdjust="spacingAndGlyphs" dy="0.33em" stroke="#000" stroke-width="0.2">0.16</text>
<line x1="601.00" y1="141.00" x2="601.00" y2="142.20" stroke="#555" stroke-width="0.5"/>
<text class="A" transform="translate(601.00,143.00) rotate(-90)" font-size="7.7" text-anchor="end" fill="#000" dy="0.34em" stroke="#000" stroke-width="0.12">TotalPrenatalDrugs</text>
<rect x="606.30" y="73.40" width="7.00" height="2.68" fill="#f3c5e6"/>
<text class="S" transform="translate(609.20,77.18) rotate(-90)" font-size="8.7" text-anchor="end" fill="#000" textLength="19.7" lengthAdjust="spacingAndGlyphs" dy="0.33em" stroke="#000" stroke-width="0.2">-0.02</text>
<line x1="609.80" y1="141.00" x2="609.80" y2="142.20" stroke="#555" stroke-width="0.5"/>
<text class="A" transform="translate(609.80,143.00) rotate(-90)" font-size="7.7" text-anchor="end" fill="#000" dy="0.34em" stroke="#000" stroke-width="0.12">GestationalAge</text>
<rect x="615.10" y="73.40" width="7.00" height="5.36" fill="#f3c5e6"/>
<text class="S" transform="translate(618.00,79.86) rotate(-90)" font-size="8.7" text-anchor="end" fill="#000" textLength="19.7" lengthAdjust="spacingAndGlyphs" dy="0.33em" stroke="#000" stroke-width="0.2">-0.04</text>
<line x1="618.60" y1="141.00" x2="618.60" y2="142.20" stroke="#555" stroke-width="0.5"/>
<text class="A" transform="translate(618.60,143.00) rotate(-90)" font-size="7.7" text-anchor="end" fill="#000" dy="0.34em" stroke="#000" stroke-width="0.12">BirthWeight</text>
<rect x="623.90" y="73.40" width="7.00" height="33.50" fill="#f3c5e6"/>
<text class="S" transform="translate(626.80,108.00) rotate(-90)" font-size="8.7" text-anchor="end" fill="#000" textLength="19.7" lengthAdjust="spacingAndGlyphs" dy="0.33em" stroke="#000" stroke-width="0.2">-0.25</text>
<line x1="627.40" y1="141.00" x2="627.40" y2="142.20" stroke="#555" stroke-width="0.5"/>
<text class="A" transform="translate(627.40,143.00) rotate(-90)" font-size="7.7" text-anchor="end" fill="#000" dy="0.34em" stroke="#000" stroke-width="0.12">PlannedPregnancy</text>
<rect x="632.70" y="73.40" width="7.00" height="32.16" fill="#f3c5e6"/>
<text class="S" transform="translate(635.60,106.66) rotate(-90)" font-size="8.7" text-anchor="end" fill="#000" textLength="19.7" lengthAdjust="spacingAndGlyphs" dy="0.33em" stroke="#000" stroke-width="0.2">-0.24</text>
<line x1="636.20" y1="141.00" x2="636.20" y2="142.20" stroke="#555" stroke-width="0.5"/>
<text class="A" transform="translate(636.20,143.00) rotate(-90)" font-size="7.7" text-anchor="end" fill="#000" dy="0.34em" stroke="#000" stroke-width="0.12">MaternalAge</text>
<rect x="641.50" y="23.82" width="7.00" height="49.58" fill="#f3c5e6"/>
<text class="S" transform="translate(644.40,22.72) rotate(-90)" font-size="8.7" text-anchor="start" fill="#000" textLength="15.2" lengthAdjust="spacingAndGlyphs" dy="0.33em" stroke="#000" stroke-width="0.2">0.37</text>
<line x1="645.00" y1="141.00" x2="645.00" y2="142.20" stroke="#555" stroke-width="0.5"/>
<text class="A" transform="translate(645.00,143.00) rotate(-90)" font-size="7.7" text-anchor="end" fill="#000" dy="0.34em" stroke="#000" stroke-width="0.12">ParentalPsychopatho</text>
<rect x="650.30" y="38.56" width="7.00" height="34.84" fill="#f3c5e6"/>
<text class="S" transform="translate(653.20,37.46) rotate(-90)" font-size="8.7" text-anchor="start" fill="#000" textLength="15.2" lengthAdjust="spacingAndGlyphs" dy="0.33em" stroke="#000" stroke-width="0.2">0.26</text>
<line x1="653.80" y1="141.00" x2="653.80" y2="142.20" stroke="#555" stroke-width="0.5"/>
<text class="A" transform="translate(653.80,143.00) rotate(-90)" font-size="7.7" text-anchor="end" fill="#000" dy="0.34em" stroke="#000" stroke-width="0.12">SleepHours</text>
<rect x="659.10" y="73.40" width="7.00" height="41.54" fill="#f3c5e6"/>
<text class="S" transform="translate(662.00,116.04) rotate(-90)" font-size="8.7" text-anchor="end" fill="#000" textLength="19.7" lengthAdjust="spacingAndGlyphs" dy="0.33em" stroke="#000" stroke-width="0.2">-0.31</text>
<line x1="662.60" y1="141.00" x2="662.60" y2="142.20" stroke="#555" stroke-width="0.5"/>
<text class="A" transform="translate(662.60,143.00) rotate(-90)" font-size="7.7" text-anchor="end" fill="#000" dy="0.34em" stroke="#000" stroke-width="0.12">ParentalEducation</text>
<text class="Sb" transform="translate(460.10,73.80) rotate(-90)" font-size="7.15" text-anchor="middle" textLength="28.5" lengthAdjust="spacingAndGlyphs">Loadings</text>
<text class="Sb" transform="translate(1.10,264.48) scale(0.1946,0.2214)" font-size="100" stroke="#000" stroke-width="2.2">d</text>
<rect x="108.60" y="251.50" width="25.18" height="25.02" fill="#f5f4eb"/>
<rect x="133.78" y="251.50" width="25.18" height="25.02" fill="#f6f5f1"/>
<rect x="158.96" y="251.50" width="25.18" height="25.02" fill="#f5f6f6"/>
<rect x="184.14" y="251.50" width="25.18" height="25.02" fill="#f6f5f1"/>
<rect x="209.32" y="251.50" width="25.18" height="25.02" fill="#f6f5f1"/>
<rect x="234.50" y="251.50" width="25.18" height="25.02" fill="#f4f1e1"/>
<rect x="259.68" y="251.50" width="25.18" height="25.02" fill="#f2f5f4"/>
<rect x="284.86" y="251.50" width="25.18" height="25.02" fill="#f2f5f4"/>
<rect x="310.04" y="251.50" width="25.18" height="25.02" fill="#f6f5f1"/>
<rect x="335.22" y="251.50" width="25.18" height="25.02" fill="#f5f4eb"/>
<rect x="360.40" y="251.50" width="25.18" height="25.02" fill="#edf4f2"/>
<rect x="385.58" y="251.50" width="25.18" height="25.02" fill="#eaf3f1"/>
<rect x="410.76" y="251.50" width="25.18" height="25.02" fill="#ddf0eb"/>
<rect x="435.94" y="251.50" width="25.18" height="25.02" fill="#f5f6f6"/>
<rect x="461.12" y="251.50" width="25.18" height="25.02" fill="#f2f5f4"/>
<rect x="486.30" y="251.50" width="25.18" height="25.02" fill="#edf4f2"/>
<rect x="511.48" y="251.50" width="25.18" height="25.02" fill="#e2f1ed"/>
<rect x="536.66" y="251.50" width="25.18" height="25.02" fill="#f6f5f1"/>
<rect x="561.84" y="251.50" width="25.18" height="25.02" fill="#4ea594"/>
<rect x="587.02" y="251.50" width="25.18" height="25.02" fill="#eaf3f1"/>
<rect x="612.20" y="251.50" width="25.18" height="25.02" fill="#e2f1ed"/>
<rect x="108.60" y="276.52" width="25.18" height="25.02" fill="#f6f6f5"/>
<rect x="133.78" y="276.52" width="25.18" height="25.02" fill="#f5f3e7"/>
<rect x="158.96" y="276.52" width="25.18" height="25.02" fill="#f2f5f4"/>
<rect x="184.14" y="276.52" width="25.18" height="25.02" fill="#d5eee7"/>
<rect x="209.32" y="276.52" width="25.18" height="25.02" fill="#edf4f2"/>
<rect x="234.50" y="276.52" width="25.18" height="25.02" fill="#f4f1e1"/>
<rect x="259.68" y="276.52" width="25.18" height="25.02" fill="#eaf3f1"/>
<rect x="284.86" y="276.52" width="25.18" height="25.02" fill="#edf4f2"/>
<rect x="310.04" y="276.52" width="25.18" height="25.02" fill="#f2f5f4"/>
<rect x="335.22" y="276.52" width="25.18" height="25.02" fill="#f6f5f1"/>
<rect x="360.40" y="276.52" width="25.18" height="25.02" fill="#f5f6f6"/>
<rect x="385.58" y="276.52" width="25.18" height="25.02" fill="#eaf3f1"/>
<rect x="410.76" y="276.52" width="25.18" height="25.02" fill="#e2f1ed"/>
<rect x="435.94" y="276.52" width="25.18" height="25.02" fill="#eaf3f1"/>
<rect x="461.12" y="276.52" width="25.18" height="25.02" fill="#f2f5f4"/>
<rect x="486.30" y="276.52" width="25.18" height="25.02" fill="#edf4f2"/>
<rect x="511.48" y="276.52" width="25.18" height="25.02" fill="#f2f5f4"/>
<rect x="536.66" y="276.52" width="25.18" height="25.02" fill="#f5f4eb"/>
<rect x="561.84" y="276.52" width="25.18" height="25.02" fill="#56ab99"/>
<rect x="587.02" y="276.52" width="25.18" height="25.02" fill="#edf4f2"/>
<rect x="612.20" y="276.52" width="25.18" height="25.02" fill="#f6f5f1"/>
<rect x="108.60" y="301.54" width="25.18" height="25.02" fill="#eaf3f1"/>
<rect x="133.78" y="301.54" width="25.18" height="25.02" fill="#f6f6f5"/>
<rect x="158.96" y="301.54" width="25.18" height="25.02" fill="#e2f1ed"/>
<rect x="184.14" y="301.54" width="25.18" height="25.02" fill="#f5f3e7"/>
<rect x="209.32" y="301.54" width="25.18" height="25.02" fill="#f3efd7"/>
<rect x="234.50" y="301.54" width="25.18" height="25.02" fill="#daefea"/>
<rect x="259.68" y="301.54" width="25.18" height="25.02" fill="#f4f1e1"/>
<rect x="284.86" y="301.54" width="25.18" height="25.02" fill="#f6f5f1"/>
<rect x="310.04" y="301.54" width="25.18" height="25.02" fill="#f6f5f1"/>
<rect x="335.22" y="301.54" width="25.18" height="25.02" fill="#f6f6f5"/>
<rect x="360.40" y="301.54" width="25.18" height="25.02" fill="#f5f6f6"/>
<rect x="385.58" y="301.54" width="25.18" height="25.02" fill="#f5f4eb"/>
<rect x="410.76" y="301.54" width="25.18" height="25.02" fill="#f5f3e7"/>
<rect x="435.94" y="301.54" width="25.18" height="25.02" fill="#f2f5f4"/>
<rect x="461.12" y="301.54" width="25.18" height="25.02" fill="#f6f5f1"/>
<rect x="486.30" y="301.54" width="25.18" height="25.02" fill="#ddf0eb"/>
<rect x="511.48" y="301.54" width="25.18" height="25.02" fill="#f5f6f6"/>
<rect x="536.66" y="301.54" width="25.18" height="25.02" fill="#e5f2ef"/>
<rect x="561.84" y="301.54" width="25.18" height="25.02" fill="#eee7bb"/>
<rect x="587.02" y="301.54" width="25.18" height="25.02" fill="#f4f1e1"/>
<rect x="612.20" y="301.54" width="25.18" height="25.02" fill="#a7ddce"/>
<rect x="108.60" y="326.56" width="25.18" height="25.02" fill="#f6f5f1"/>
<rect x="133.78" y="326.56" width="25.18" height="25.02" fill="#edf4f2"/>
<rect x="158.96" y="326.56" width="25.18" height="25.02" fill="#f3efd7"/>
<rect x="184.14" y="326.56" width="25.18" height="25.02" fill="#f2f5f4"/>
<rect x="209.32" y="326.56" width="25.18" height="25.02" fill="#daefea"/>
<rect x="234.50" y="326.56" width="25.18" height="25.02" fill="#f4f1e1"/>
<rect x="259.68" y="326.56" width="25.18" height="25.02" fill="#f2f5f4"/>
<rect x="284.86" y="326.56" width="25.18" height="25.02" fill="#f6f5f1"/>
<rect x="310.04" y="326.56" width="25.18" height="25.02" fill="#eaf3f1"/>
<rect x="335.22" y="326.56" width="25.18" height="25.02" fill="#eaf3f1"/>
<rect x="360.40" y="326.56" width="25.18" height="25.02" fill="#f5f3e7"/>
<rect x="385.58" y="326.56" width="25.18" height="25.02" fill="#f6f5f1"/>
<rect x="410.76" y="326.56" width="25.18" height="25.02" fill="#f5f6f6"/>
<rect x="435.94" y="326.56" width="25.18" height="25.02" fill="#f5f3e7"/>
<rect x="461.12" y="326.56" width="25.18" height="25.02" fill="#edf4f2"/>
<rect x="486.30" y="326.56" width="25.18" height="25.02" fill="#f3efd7"/>
<rect x="511.48" y="326.56" width="25.18" height="25.02" fill="#f4f0dd"/>
<rect x="536.66" y="326.56" width="25.18" height="25.02" fill="#f5f4eb"/>
<rect x="561.84" y="326.56" width="25.18" height="25.02" fill="#e6dca3"/>
<rect x="587.02" y="326.56" width="25.18" height="25.02" fill="#f5f6f6"/>
<rect x="612.20" y="326.56" width="25.18" height="25.02" fill="#dccd83"/>
<g stroke="#4a4a4a" stroke-width="0.95" fill="none"><line x1="108.60" y1="251.50" x2="108.60" y2="351.58"/><line x1="133.78" y1="251.50" x2="133.78" y2="351.58"/><line x1="158.96" y1="251.50" x2="158.96" y2="351.58"/><line x1="184.14" y1="251.50" x2="184.14" y2="351.58"/><line x1="209.32" y1="251.50" x2="209.32" y2="351.58"/><line x1="234.50" y1="251.50" x2="234.50" y2="351.58"/><line x1="259.68" y1="251.50" x2="259.68" y2="351.58"/><line x1="284.86" y1="251.50" x2="284.86" y2="351.58"/><line x1="310.04" y1="251.50" x2="310.04" y2="351.58"/><line x1="335.22" y1="251.50" x2="335.22" y2="351.58"/><line x1="360.40" y1="251.50" x2="360.40" y2="351.58"/><line x1="385.58" y1="251.50" x2="385.58" y2="351.58"/><line x1="410.76" y1="251.50" x2="410.76" y2="351.58"/><line x1="435.94" y1="251.50" x2="435.94" y2="351.58"/><line x1="461.12" y1="251.50" x2="461.12" y2="351.58"/><line x1="486.30" y1="251.50" x2="486.30" y2="351.58"/><line x1="511.48" y1="251.50" x2="511.48" y2="351.58"/><line x1="536.66" y1="251.50" x2="536.66" y2="351.58"/><line x1="561.84" y1="251.50" x2="561.84" y2="351.58"/><line x1="587.02" y1="251.50" x2="587.02" y2="351.58"/><line x1="612.20" y1="251.50" x2="612.20" y2="351.58"/><line x1="637.38" y1="251.50" x2="637.38" y2="351.58"/><line x1="108.60" y1="251.50" x2="637.38" y2="251.50"/><line x1="108.60" y1="276.52" x2="637.38" y2="276.52"/><line x1="108.60" y1="301.54" x2="637.38" y2="301.54"/><line x1="108.60" y1="326.56" x2="637.38" y2="326.56"/><line x1="108.60" y1="351.58" x2="637.38" y2="351.58"/></g>
<text class="S" x="121.19" y="267.41" font-size="10" text-anchor="middle" fill="#111" stroke="#111" stroke-width="0.2">-0.02</text>
<text class="S" x="146.37" y="267.41" font-size="10" text-anchor="middle" fill="#111" stroke="#111" stroke-width="0.2">-0.01</text>
<text class="S" x="171.55" y="267.41" font-size="10" text-anchor="middle" fill="#111" stroke="#111" stroke-width="0.2">0.00</text>
<text class="S" x="196.73" y="267.41" font-size="10" text-anchor="middle" fill="#111" stroke="#111" stroke-width="0.2">-0.01</text>
<text class="S" x="221.91" y="267.41" font-size="10" text-anchor="middle" fill="#111" stroke="#111" stroke-width="0.2">-0.01</text>
<text class="S" x="247.09" y="267.41" font-size="10" text-anchor="middle" fill="#111" stroke="#111" stroke-width="0.2">-0.04</text>
<path d="M256.18 253.30L256.18 257.30M254.45 254.30L257.91 256.30M257.91 254.30L254.45 256.30" stroke="#f23c30" stroke-width="1.05" stroke-linecap="round" fill="none"/>
<text class="S" x="272.27" y="267.41" font-size="10" text-anchor="middle" fill="#111" stroke="#111" stroke-width="0.2">0.01</text>
<text class="S" x="297.45" y="267.41" font-size="10" text-anchor="middle" fill="#111" stroke="#111" stroke-width="0.2">0.01</text>
<text class="S" x="322.63" y="267.41" font-size="10" text-anchor="middle" fill="#111" stroke="#111" stroke-width="0.2">-0.01</text>
<text class="S" x="347.81" y="267.41" font-size="10" text-anchor="middle" fill="#111" stroke="#111" stroke-width="0.2">-0.02</text>
<text class="S" x="372.99" y="267.41" font-size="10" text-anchor="middle" fill="#111" stroke="#111" stroke-width="0.2">0.02</text>
<text class="S" x="398.17" y="267.41" font-size="10" text-anchor="middle" fill="#111" stroke="#111" stroke-width="0.2">0.03</text>
<path d="M407.26 253.30L407.26 257.30M405.53 254.30L408.99 256.30M408.99 254.30L405.53 256.30" stroke="#f23c30" stroke-width="1.05" stroke-linecap="round" fill="none"/>
<text class="S" x="423.35" y="267.41" font-size="10" text-anchor="middle" fill="#111" stroke="#111" stroke-width="0.2">0.06</text>
<path d="M432.44 253.30L432.44 257.30M430.71 254.30L434.17 256.30M434.17 254.30L430.71 256.30" stroke="#f23c30" stroke-width="1.05" stroke-linecap="round" fill="none"/>
<text class="S" x="448.53" y="267.41" font-size="10" text-anchor="middle" fill="#111" stroke="#111" stroke-width="0.2">0.00</text>
<text class="S" x="473.71" y="267.41" font-size="10" text-anchor="middle" fill="#111" stroke="#111" stroke-width="0.2">0.01</text>
<text class="S" x="498.89" y="267.41" font-size="10" text-anchor="middle" fill="#111" stroke="#111" stroke-width="0.2">0.02</text>
<text class="S" x="524.07" y="267.41" font-size="10" text-anchor="middle" fill="#111" stroke="#111" stroke-width="0.2">0.05</text>
<path d="M533.16 253.30L533.16 257.30M531.43 254.30L534.89 256.30M534.89 254.30L531.43 256.30" stroke="#f23c30" stroke-width="1.05" stroke-linecap="round" fill="none"/>
<text class="S" x="549.25" y="267.41" font-size="10" text-anchor="middle" fill="#111" stroke="#111" stroke-width="0.2">-0.01</text>
<text class="S" x="574.43" y="267.41" font-size="10" text-anchor="middle" fill="#f0f6f4" stroke="#f0f6f4" stroke-width="0.2">0.29</text>
<path d="M583.52 253.30L583.52 257.30M581.79 254.30L585.25 256.30M585.25 254.30L581.79 256.30" stroke="#f23c30" stroke-width="1.05" stroke-linecap="round" fill="none"/>
<text class="S" x="599.61" y="267.41" font-size="10" text-anchor="middle" fill="#111" stroke="#111" stroke-width="0.2">0.03</text>
<text class="S" x="624.79" y="267.41" font-size="10" text-anchor="middle" fill="#111" stroke="#111" stroke-width="0.2">0.05</text>
<path d="M633.88 253.30L633.88 257.30M632.15 254.30L635.61 256.30M635.61 254.30L632.15 256.30" stroke="#f23c30" stroke-width="1.05" stroke-linecap="round" fill="none"/>
<text class="S" x="121.19" y="292.43" font-size="10" text-anchor="middle" fill="#111" stroke="#111" stroke-width="0.2">-0.00</text>
<text class="S" x="146.37" y="292.43" font-size="10" text-anchor="middle" fill="#111" stroke="#111" stroke-width="0.2">-0.03</text>
<path d="M155.46 278.32L155.46 282.32M153.73 279.32L157.19 281.32M157.19 279.32L153.73 281.32" stroke="#f23c30" stroke-width="1.05" stroke-linecap="round" fill="none"/>
<text class="S" x="171.55" y="292.43" font-size="10" text-anchor="middle" fill="#111" stroke="#111" stroke-width="0.2">0.01</text>
<text class="S" x="196.73" y="292.43" font-size="10" text-anchor="middle" fill="#111" stroke="#111" stroke-width="0.2">0.08</text>
<path d="M205.82 278.32L205.82 282.32M204.09 279.32L207.55 281.32M207.55 279.32L204.09 281.32" stroke="#f23c30" stroke-width="1.05" stroke-linecap="round" fill="none"/>
<text class="S" x="221.91" y="292.43" font-size="10" text-anchor="middle" fill="#111" stroke="#111" stroke-width="0.2">0.02</text>
<text class="S" x="247.09" y="292.43" font-size="10" text-anchor="middle" fill="#111" stroke="#111" stroke-width="0.2">-0.04</text>
<path d="M256.18 278.32L256.18 282.32M254.45 279.32L257.91 281.32M257.91 279.32L254.45 281.32" stroke="#f23c30" stroke-width="1.05" stroke-linecap="round" fill="none"/>
<text class="S" x="272.27" y="292.43" font-size="10" text-anchor="middle" fill="#111" stroke="#111" stroke-width="0.2">0.03</text>
<path d="M281.36 278.32L281.36 282.32M279.63 279.32L283.09 281.32M283.09 279.32L279.63 281.32" stroke="#f23c30" stroke-width="1.05" stroke-linecap="round" fill="none"/>
<text class="S" x="297.45" y="292.43" font-size="10" text-anchor="middle" fill="#111" stroke="#111" stroke-width="0.2">0.02</text>
<text class="S" x="322.63" y="292.43" font-size="10" text-anchor="middle" fill="#111" stroke="#111" stroke-width="0.2">0.01</text>
<text class="S" x="347.81" y="292.43" font-size="10" text-anchor="middle" fill="#111" stroke="#111" stroke-width="0.2">-0.01</text>
<text class="S" x="372.99" y="292.43" font-size="10" text-anchor="middle" fill="#111" stroke="#111" stroke-width="0.2">0.00</text>
<text class="S" x="398.17" y="292.43" font-size="10" text-anchor="middle" fill="#111" stroke="#111" stroke-width="0.2">0.03</text>
<path d="M407.26 278.32L407.26 282.32M405.53 279.32L408.99 281.32M408.99 279.32L405.53 281.32" stroke="#f23c30" stroke-width="1.05" stroke-linecap="round" fill="none"/>
<text class="S" x="423.35" y="292.43" font-size="10" text-anchor="middle" fill="#111" stroke="#111" stroke-width="0.2">0.05</text>
<path d="M432.44 278.32L432.44 282.32M430.71 279.32L434.17 281.32M434.17 279.32L430.71 281.32" stroke="#f23c30" stroke-width="1.05" stroke-linecap="round" fill="none"/>
<text class="S" x="448.53" y="292.43" font-size="10" text-anchor="middle" fill="#111" stroke="#111" stroke-width="0.2">0.03</text>
<text class="S" x="473.71" y="292.43" font-size="10" text-anchor="middle" fill="#111" stroke="#111" stroke-width="0.2">0.01</text>
<text class="S" x="498.89" y="292.43" font-size="10" text-anchor="middle" fill="#111" stroke="#111" stroke-width="0.2">0.02</text>
<text class="S" x="524.07" y="292.43" font-size="10" text-anchor="middle" fill="#111" stroke="#111" stroke-width="0.2">0.01</text>
<text class="S" x="549.25" y="292.43" font-size="10" text-anchor="middle" fill="#111" stroke="#111" stroke-width="0.2">-0.02</text>
<text class="S" x="574.43" y="292.43" font-size="10" text-anchor="middle" fill="#f0f6f4" stroke="#f0f6f4" stroke-width="0.2">0.28</text>
<path d="M583.52 278.32L583.52 282.32M581.79 279.32L585.25 281.32M585.25 279.32L581.79 281.32" stroke="#f23c30" stroke-width="1.05" stroke-linecap="round" fill="none"/>
<text class="S" x="599.61" y="292.43" font-size="10" text-anchor="middle" fill="#111" stroke="#111" stroke-width="0.2">0.02</text>
<text class="S" x="624.79" y="292.43" font-size="10" text-anchor="middle" fill="#111" stroke="#111" stroke-width="0.2">-0.01</text>
<text class="S" x="121.19" y="317.45" font-size="10" text-anchor="middle" fill="#111" stroke="#111" stroke-width="0.2">0.03</text>
<path d="M130.28 303.34L130.28 307.34M128.55 304.34L132.01 306.34M132.01 304.34L128.55 306.34" stroke="#f23c30" stroke-width="1.05" stroke-linecap="round" fill="none"/>
<text class="S" x="146.37" y="317.45" font-size="10" text-anchor="middle" fill="#111" stroke="#111" stroke-width="0.2">-0.00</text>
<text class="S" x="171.55" y="317.45" font-size="10" text-anchor="middle" fill="#111" stroke="#111" stroke-width="0.2">0.05</text>
<path d="M180.64 303.34L180.64 307.34M178.91 304.34L182.37 306.34M182.37 304.34L178.91 306.34" stroke="#f23c30" stroke-width="1.05" stroke-linecap="round" fill="none"/>
<text class="S" x="196.73" y="317.45" font-size="10" text-anchor="middle" fill="#111" stroke="#111" stroke-width="0.2">-0.03</text>
<path d="M205.82 303.34L205.82 307.34M204.09 304.34L207.55 306.34M207.55 304.34L204.09 306.34" stroke="#f23c30" stroke-width="1.05" stroke-linecap="round" fill="none"/>
<text class="S" x="221.91" y="317.45" font-size="10" text-anchor="middle" fill="#111" stroke="#111" stroke-width="0.2">-0.06</text>
<path d="M231.00 303.34L231.00 307.34M229.27 304.34L232.73 306.34M232.73 304.34L229.27 306.34" stroke="#f23c30" stroke-width="1.05" stroke-linecap="round" fill="none"/>
<text class="S" x="247.09" y="317.45" font-size="10" text-anchor="middle" fill="#111" stroke="#111" stroke-width="0.2">0.07</text>
<path d="M256.18 303.34L256.18 307.34M254.45 304.34L257.91 306.34M257.91 304.34L254.45 306.34" stroke="#f23c30" stroke-width="1.05" stroke-linecap="round" fill="none"/>
<text class="S" x="272.27" y="317.45" font-size="10" text-anchor="middle" fill="#111" stroke="#111" stroke-width="0.2">-0.04</text>
<path d="M281.36 303.34L281.36 307.34M279.63 304.34L283.09 306.34M283.09 304.34L279.63 306.34" stroke="#f23c30" stroke-width="1.05" stroke-linecap="round" fill="none"/>
<text class="S" x="297.45" y="317.45" font-size="10" text-anchor="middle" fill="#111" stroke="#111" stroke-width="0.2">-0.01</text>
<text class="S" x="322.63" y="317.45" font-size="10" text-anchor="middle" fill="#111" stroke="#111" stroke-width="0.2">-0.01</text>
<text class="S" x="347.81" y="317.45" font-size="10" text-anchor="middle" fill="#111" stroke="#111" stroke-width="0.2">-0.00</text>
<text class="S" x="372.99" y="317.45" font-size="10" text-anchor="middle" fill="#111" stroke="#111" stroke-width="0.2">0.00</text>
<text class="S" x="398.17" y="317.45" font-size="10" text-anchor="middle" fill="#111" stroke="#111" stroke-width="0.2">-0.02</text>
<text class="S" x="423.35" y="317.45" font-size="10" text-anchor="middle" fill="#111" stroke="#111" stroke-width="0.2">-0.03</text>
<path d="M432.44 303.34L432.44 307.34M430.71 304.34L434.17 306.34M434.17 304.34L430.71 306.34" stroke="#f23c30" stroke-width="1.05" stroke-linecap="round" fill="none"/>
<text class="S" x="448.53" y="317.45" font-size="10" text-anchor="middle" fill="#111" stroke="#111" stroke-width="0.2">0.01</text>
<text class="S" x="473.71" y="317.45" font-size="10" text-anchor="middle" fill="#111" stroke="#111" stroke-width="0.2">-0.01</text>
<text class="S" x="498.89" y="317.45" font-size="10" text-anchor="middle" fill="#111" stroke="#111" stroke-width="0.2">0.06</text>
<path d="M507.98 303.34L507.98 307.34M506.25 304.34L509.71 306.34M509.71 304.34L506.25 306.34" stroke="#f23c30" stroke-width="1.05" stroke-linecap="round" fill="none"/>
<text class="S" x="524.07" y="317.45" font-size="10" text-anchor="middle" fill="#111" stroke="#111" stroke-width="0.2">0.00</text>
<text class="S" x="549.25" y="317.45" font-size="10" text-anchor="middle" fill="#111" stroke="#111" stroke-width="0.2">0.04</text>
<path d="M558.34 303.34L558.34 307.34M556.61 304.34L560.07 306.34M560.07 304.34L556.61 306.34" stroke="#f23c30" stroke-width="1.05" stroke-linecap="round" fill="none"/>
<text class="S" x="574.43" y="317.45" font-size="10" text-anchor="middle" fill="#111" stroke="#111" stroke-width="0.2">-0.11</text>
<path d="M583.52 303.34L583.52 307.34M581.79 304.34L585.25 306.34M585.25 304.34L581.79 306.34" stroke="#f23c30" stroke-width="1.05" stroke-linecap="round" fill="none"/>
<text class="S" x="599.61" y="317.45" font-size="10" text-anchor="middle" fill="#111" stroke="#111" stroke-width="0.2">-0.04</text>
<path d="M608.70 303.34L608.70 307.34M606.97 304.34L610.43 306.34M610.43 304.34L606.97 306.34" stroke="#f23c30" stroke-width="1.05" stroke-linecap="round" fill="none"/>
<text class="S" x="624.79" y="317.45" font-size="10" text-anchor="middle" fill="#111" stroke="#111" stroke-width="0.2">0.16</text>
<path d="M633.88 303.34L633.88 307.34M632.15 304.34L635.61 306.34M635.61 304.34L632.15 306.34" stroke="#f23c30" stroke-width="1.05" stroke-linecap="round" fill="none"/>
<text class="S" x="121.19" y="342.47" font-size="10" text-anchor="middle" fill="#111" stroke="#111" stroke-width="0.2">-0.01</text>
<text class="S" x="146.37" y="342.47" font-size="10" text-anchor="middle" fill="#111" stroke="#111" stroke-width="0.2">0.02</text>
<text class="S" x="171.55" y="342.47" font-size="10" text-anchor="middle" fill="#111" stroke="#111" stroke-width="0.2">-0.06</text>
<path d="M180.64 328.36L180.64 332.36M178.91 329.36L182.37 331.36M182.37 329.36L178.91 331.36" stroke="#f23c30" stroke-width="1.05" stroke-linecap="round" fill="none"/>
<text class="S" x="196.73" y="342.47" font-size="10" text-anchor="middle" fill="#111" stroke="#111" stroke-width="0.2">0.01</text>
<text class="S" x="221.91" y="342.47" font-size="10" text-anchor="middle" fill="#111" stroke="#111" stroke-width="0.2">0.07</text>
<path d="M231.00 328.36L231.00 332.36M229.27 329.36L232.73 331.36M232.73 329.36L229.27 331.36" stroke="#f23c30" stroke-width="1.05" stroke-linecap="round" fill="none"/>
<text class="S" x="247.09" y="342.47" font-size="10" text-anchor="middle" fill="#111" stroke="#111" stroke-width="0.2">-0.04</text>
<path d="M256.18 328.36L256.18 332.36M254.45 329.36L257.91 331.36M257.91 329.36L254.45 331.36" stroke="#f23c30" stroke-width="1.05" stroke-linecap="round" fill="none"/>
<text class="S" x="272.27" y="342.47" font-size="10" text-anchor="middle" fill="#111" stroke="#111" stroke-width="0.2">0.01</text>
<text class="S" x="297.45" y="342.47" font-size="10" text-anchor="middle" fill="#111" stroke="#111" stroke-width="0.2">-0.01</text>
<text class="S" x="322.63" y="342.47" font-size="10" text-anchor="middle" fill="#111" stroke="#111" stroke-width="0.2">0.03</text>
<text class="S" x="347.81" y="342.47" font-size="10" text-anchor="middle" fill="#111" stroke="#111" stroke-width="0.2">0.03</text>
<text class="S" x="372.99" y="342.47" font-size="10" text-anchor="middle" fill="#111" stroke="#111" stroke-width="0.2">-0.03</text>
<path d="M382.08 328.36L382.08 332.36M380.35 329.36L383.81 331.36M383.81 329.36L380.35 331.36" stroke="#f23c30" stroke-width="1.05" stroke-linecap="round" fill="none"/>
<text class="S" x="398.17" y="342.47" font-size="10" text-anchor="middle" fill="#111" stroke="#111" stroke-width="0.2">-0.01</text>
<text class="S" x="423.35" y="342.47" font-size="10" text-anchor="middle" fill="#111" stroke="#111" stroke-width="0.2">0.00</text>
<text class="S" x="448.53" y="342.47" font-size="10" text-anchor="middle" fill="#111" stroke="#111" stroke-width="0.2">-0.03</text>
<path d="M457.62 328.36L457.62 332.36M455.89 329.36L459.35 331.36M459.35 329.36L455.89 331.36" stroke="#f23c30" stroke-width="1.05" stroke-linecap="round" fill="none"/>
<text class="S" x="473.71" y="342.47" font-size="10" text-anchor="middle" fill="#111" stroke="#111" stroke-width="0.2">0.02</text>
<text class="S" x="498.89" y="342.47" font-size="10" text-anchor="middle" fill="#111" stroke="#111" stroke-width="0.2">-0.06</text>
<path d="M507.98 328.36L507.98 332.36M506.25 329.36L509.71 331.36M509.71 329.36L506.25 331.36" stroke="#f23c30" stroke-width="1.05" stroke-linecap="round" fill="none"/>
<text class="S" x="524.07" y="342.47" font-size="10" text-anchor="middle" fill="#111" stroke="#111" stroke-width="0.2">-0.05</text>
<path d="M533.16 328.36L533.16 332.36M531.43 329.36L534.89 331.36M534.89 329.36L531.43 331.36" stroke="#f23c30" stroke-width="1.05" stroke-linecap="round" fill="none"/>
<text class="S" x="549.25" y="342.47" font-size="10" text-anchor="middle" fill="#111" stroke="#111" stroke-width="0.2">-0.02</text>
<text class="S" x="574.43" y="342.47" font-size="10" text-anchor="middle" fill="#111" stroke="#111" stroke-width="0.2">-0.15</text>
<path d="M583.52 328.36L583.52 332.36M581.79 329.36L585.25 331.36M585.25 329.36L581.79 331.36" stroke="#f23c30" stroke-width="1.05" stroke-linecap="round" fill="none"/>
<text class="S" x="599.61" y="342.47" font-size="10" text-anchor="middle" fill="#111" stroke="#111" stroke-width="0.2">0.00</text>
<text class="S" x="624.79" y="342.47" font-size="10" text-anchor="middle" fill="#111" stroke="#111" stroke-width="0.2">-0.20</text>
<path d="M633.88 328.36L633.88 332.36M632.15 329.36L635.61 331.36M635.61 329.36L632.15 331.36" stroke="#f23c30" stroke-width="1.05" stroke-linecap="round" fill="none"/>
<line x1="106.40" y1="264.01" x2="108.60" y2="264.01" stroke="#333" stroke-width="0.6"/>
<text class="S" x="102.80" y="268.21" font-size="14.6" text-anchor="end" fill="#000" textLength="70.0" lengthAdjust="spacingAndGlyphs" stroke="#000" stroke-width="0.4">MC/HSI (c1)</text>
<line x1="106.40" y1="289.03" x2="108.60" y2="289.03" stroke="#333" stroke-width="0.6"/>
<text class="S" x="102.80" y="293.23" font-size="14.6" text-anchor="end" fill="#000" textLength="67.8" lengthAdjust="spacingAndGlyphs" stroke="#000" stroke-width="0.4">MC/HE (c2)</text>
<line x1="106.40" y1="314.05" x2="108.60" y2="314.05" stroke="#333" stroke-width="0.6"/>
<text class="S" x="102.80" y="318.25" font-size="14.6" text-anchor="end" fill="#000" textLength="64.3" lengthAdjust="spacingAndGlyphs" stroke="#000" stroke-width="0.4">HC/LB (c3)</text>
<line x1="106.40" y1="339.07" x2="108.60" y2="339.07" stroke="#333" stroke-width="0.6"/>
<text class="S" x="102.80" y="343.27" font-size="14.6" text-anchor="end" fill="#000" textLength="61.9" lengthAdjust="spacingAndGlyphs" stroke="#000" stroke-width="0.4">LC/LB (c4)</text>
<line x1="121.19" y1="351.58" x2="121.19" y2="353.78" stroke="#333" stroke-width="0.6"/>
<text class="A" transform="translate(121.19,357.60) rotate(-90)" font-size="14" text-anchor="end" fill="#000" textLength="128.1" lengthAdjust="spacingAndGlyphs" dy="0.34em" stroke="#000" stroke-width="0.35">NeighborhoodSafety</text>
<line x1="146.37" y1="351.58" x2="146.37" y2="353.78" stroke="#333" stroke-width="0.6"/>
<text class="A" transform="translate(146.37,357.60) rotate(-90)" font-size="14" text-anchor="end" fill="#000" textLength="122.2" lengthAdjust="spacingAndGlyphs" dy="0.34em" stroke="#000" stroke-width="0.35">ParentalAcceptance</text>
<line x1="171.55" y1="351.58" x2="171.55" y2="353.78" stroke="#333" stroke-width="0.6"/>
<text class="A" transform="translate(171.55,357.60) rotate(-90)" font-size="14" text-anchor="end" fill="#000" textLength="120.3" lengthAdjust="spacingAndGlyphs" dy="0.34em" stroke="#000" stroke-width="0.35">ParentalMonitoring</text>
<line x1="196.73" y1="351.58" x2="196.73" y2="353.78" stroke="#333" stroke-width="0.6"/>
<text class="A" transform="translate(196.73,357.60) rotate(-90)" font-size="14" text-anchor="end" fill="#000" textLength="89.9" lengthAdjust="spacingAndGlyphs" dy="0.34em" stroke="#000" stroke-width="0.35">FamilyConflict</text>
<line x1="221.91" y1="351.58" x2="221.91" y2="353.78" stroke="#333" stroke-width="0.6"/>
<text class="A" transform="translate(221.91,357.60) rotate(-90)" font-size="14" text-anchor="end" fill="#000" textLength="121.4" lengthAdjust="spacingAndGlyphs" dy="0.34em" stroke="#000" stroke-width="0.35">SchoolEnvironment</text>
<line x1="247.09" y1="351.58" x2="247.09" y2="353.78" stroke="#333" stroke-width="0.6"/>
<text class="A" transform="translate(247.09,357.60) rotate(-90)" font-size="14" text-anchor="end" fill="#000" textLength="118.3" lengthAdjust="spacingAndGlyphs" dy="0.34em" stroke="#000" stroke-width="0.35">SchoolInvolvement</text>
<line x1="272.27" y1="351.58" x2="272.27" y2="353.78" stroke="#333" stroke-width="0.6"/>
<text class="A" transform="translate(272.27,357.60) rotate(-90)" font-size="14" text-anchor="end" fill="#000" textLength="137.2" lengthAdjust="spacingAndGlyphs" dy="0.34em" stroke="#000" stroke-width="0.35">SchoolDisengagement</text>
<line x1="297.45" y1="351.58" x2="297.45" y2="353.78" stroke="#333" stroke-width="0.6"/>
<text class="A" transform="translate(297.45,357.60) rotate(-90)" font-size="14" text-anchor="end" fill="#000" textLength="92.7" lengthAdjust="spacingAndGlyphs" dy="0.34em" stroke="#000" stroke-width="0.35">FoodInsecurity</text>
<line x1="322.63" y1="351.58" x2="322.63" y2="353.78" stroke="#333" stroke-width="0.6"/>
<text class="A" transform="translate(322.63,357.60) rotate(-90)" font-size="14" text-anchor="end" fill="#000" textLength="25.9" lengthAdjust="spacingAndGlyphs" dy="0.34em" stroke="#000" stroke-width="0.35">Bills</text>
<line x1="347.81" y1="351.58" x2="347.81" y2="353.78" stroke="#333" stroke-width="0.6"/>
<text class="A" transform="translate(347.81,357.60) rotate(-90)" font-size="14" text-anchor="end" fill="#000" textLength="51.1" lengthAdjust="spacingAndGlyphs" dy="0.34em" stroke="#000" stroke-width="0.35">Housing</text>
<line x1="372.99" y1="351.58" x2="372.99" y2="353.78" stroke="#333" stroke-width="0.6"/>
<text class="A" transform="translate(372.99,357.60) rotate(-90)" font-size="14" text-anchor="end" fill="#000" textLength="47.6" lengthAdjust="spacingAndGlyphs" dy="0.34em" stroke="#000" stroke-width="0.35">Medical</text>
<line x1="398.17" y1="351.58" x2="398.17" y2="353.78" stroke="#333" stroke-width="0.6"/>
<text class="A" transform="translate(398.17,357.60) rotate(-90)" font-size="14" text-anchor="end" fill="#000" textLength="102.5" lengthAdjust="spacingAndGlyphs" dy="0.34em" stroke="#000" stroke-width="0.35">TraumaticEvents</text>
<line x1="423.35" y1="351.58" x2="423.35" y2="353.78" stroke="#333" stroke-width="0.6"/>
<text class="A" transform="translate(423.35,357.60) rotate(-90)" font-size="14" text-anchor="end" fill="#000" textLength="81.2" lengthAdjust="spacingAndGlyphs" dy="0.34em" stroke="#000" stroke-width="0.35">TotalPrenatal</text>
<line x1="448.53" y1="351.58" x2="448.53" y2="353.78" stroke="#333" stroke-width="0.6"/>
<text class="A" transform="translate(448.53,357.60) rotate(-90)" font-size="14" text-anchor="end" fill="#000" textLength="118.6" lengthAdjust="spacingAndGlyphs" dy="0.34em" stroke="#000" stroke-width="0.35">TotalPrenatalDrugs</text>
<line x1="473.71" y1="351.58" x2="473.71" y2="353.78" stroke="#333" stroke-width="0.6"/>
<text class="A" transform="translate(473.71,357.60) rotate(-90)" font-size="14" text-anchor="end" fill="#000" textLength="93.3" lengthAdjust="spacingAndGlyphs" dy="0.34em" stroke="#000" stroke-width="0.35">GestationalAge</text>
<line x1="498.89" y1="351.58" x2="498.89" y2="353.78" stroke="#333" stroke-width="0.6"/>
<text class="A" transform="translate(498.89,357.60) rotate(-90)" font-size="14" text-anchor="end" fill="#000" textLength="74.4" lengthAdjust="spacingAndGlyphs" dy="0.34em" stroke="#000" stroke-width="0.35">BirthWeight</text>
<line x1="524.07" y1="351.58" x2="524.07" y2="353.78" stroke="#333" stroke-width="0.6"/>
<text class="A" transform="translate(524.07,357.60) rotate(-90)" font-size="14" text-anchor="end" fill="#000" textLength="113.4" lengthAdjust="spacingAndGlyphs" dy="0.34em" stroke="#000" stroke-width="0.35">PlannedPregnancy</text>
<line x1="549.25" y1="351.58" x2="549.25" y2="353.78" stroke="#333" stroke-width="0.6"/>
<text class="A" transform="translate(549.25,357.60) rotate(-90)" font-size="14" text-anchor="end" fill="#000" textLength="78.4" lengthAdjust="spacingAndGlyphs" dy="0.34em" stroke="#000" stroke-width="0.35">MaternalAge</text>
<line x1="574.43" y1="351.58" x2="574.43" y2="353.78" stroke="#333" stroke-width="0.6"/>
<text class="A" transform="translate(574.43,357.60) rotate(-90)" font-size="14" text-anchor="end" fill="#000" textLength="130.6" lengthAdjust="spacingAndGlyphs" dy="0.34em" stroke="#000" stroke-width="0.35">ParentalPsychopatho</text>
<line x1="599.61" y1="351.58" x2="599.61" y2="353.78" stroke="#333" stroke-width="0.6"/>
<text class="A" transform="translate(599.61,357.60) rotate(-90)" font-size="14" text-anchor="end" fill="#000" textLength="70.4" lengthAdjust="spacingAndGlyphs" dy="0.34em" stroke="#000" stroke-width="0.35">SleepHours</text>
<line x1="624.79" y1="351.58" x2="624.79" y2="353.78" stroke="#333" stroke-width="0.6"/>
<text class="A" transform="translate(624.79,357.60) rotate(-90)" font-size="14" text-anchor="end" fill="#000" textLength="113.4" lengthAdjust="spacingAndGlyphs" dy="0.34em" stroke="#000" stroke-width="0.35">ParentalEducation</text>
<defs><linearGradient id="cb108" x1="0" y1="0" x2="0" y2="1">
<stop offset="0.000" stop-color="#19503e"/>
<stop offset="0.050" stop-color="#1a6150"/>
<stop offset="0.100" stop-color="#1a7563"/>
<stop offset="0.150" stop-color="#318b79"/>
<stop offset="0.200" stop-color="#49a190"/>
<stop offset="0.250" stop-color="#69b8a6"/>
<stop offset="0.300" stop-color="#8bd1be"/>
<stop offset="0.350" stop-color="#acdfd1"/>
<stop offset="0.400" stop-color="#cdece4"/>
<stop offset="0.450" stop-color="#e2f1ed"/>
<stop offset="0.500" stop-color="#f5f6f6"/>
<stop offset="0.550" stop-color="#f4f0dd"/>
<stop offset="0.600" stop-color="#f1ebc3"/>
<stop offset="0.650" stop-color="#e6dca3"/>
<stop offset="0.700" stop-color="#dccd83"/>
<stop offset="0.750" stop-color="#cfb161"/>
<stop offset="0.800" stop-color="#c0933d"/>
<stop offset="0.850" stop-color="#aa782d"/>
<stop offset="0.900" stop-color="#935e1e"/>
<stop offset="0.950" stop-color="#7a4f1d"/>
<stop offset="1.000" stop-color="#63421b"/>
</linearGradient></defs>
<rect x="644.10" y="251.50" width="14.60" height="100.08" fill="url(#cb108)"/>
<text class="S" x="673.80" y="258.80" font-size="13.6" text-anchor="middle" fill="#000">0.5</text>
<text class="S" x="673.80" y="306.74" font-size="13.6" text-anchor="middle" fill="#000">0</text>
<text class="S" x="673.80" y="357.38" font-size="13.6" text-anchor="middle" fill="#000">-0.5</text>
<text class="Sb" transform="translate(1.75,524.85) scale(0.2330,0.2500)" font-size="100" stroke="#000" stroke-width="2.2">e</text>
<g fill="#e6a3de" stroke="#6b3d66" stroke-width="0.55"><circle cx="131.0" cy="537.3" r="2.4"/><circle cx="92.8" cy="599.5" r="2.4"/><circle cx="169.0" cy="521.8" r="2.4"/><circle cx="215.4" cy="540.2" r="2.4"/><circle cx="170.0" cy="548.8" r="2.4"/><circle cx="159.7" cy="553.0" r="2.4"/><circle cx="187.7" cy="552.0" r="2.4"/><circle cx="206.4" cy="555.1" r="2.4"/><circle cx="213.4" cy="559.7" r="2.4"/><circle cx="148.2" cy="558.8" r="2.4"/><circle cx="189.8" cy="570.0" r="2.4"/><circle cx="204.0" cy="577.5" r="2.4"/><circle cx="210.6" cy="578.0" r="2.4"/><circle cx="176.2" cy="582.4" r="2.4"/><circle cx="180.5" cy="583.1" r="2.4"/><circle cx="190.0" cy="581.7" r="2.4"/><circle cx="182.2" cy="587.0" r="2.4"/><circle cx="180.1" cy="591.1" r="2.4"/><circle cx="183.5" cy="592.1" r="2.4"/><circle cx="203.4" cy="589.7" r="2.4"/><circle cx="183.5" cy="602.9" r="2.4"/><circle cx="91.5" cy="613.5" r="2.4"/><circle cx="94.7" cy="621.9" r="2.4"/><circle cx="103.9" cy="627.7" r="2.4"/><circle cx="109.1" cy="627.7" r="2.4"/><circle cx="101.2" cy="631.2" r="2.4"/><circle cx="110.9" cy="631.9" r="2.4"/><circle cx="122.7" cy="631.9" r="2.4"/><circle cx="122.7" cy="633.7" r="2.4"/><circle cx="131.3" cy="629.4" r="2.4"/><circle cx="132.1" cy="632.6" r="2.4"/><circle cx="135.8" cy="633.3" r="2.4"/><circle cx="139.0" cy="630.8" r="2.4"/><circle cx="110.5" cy="636.8" r="2.4"/><circle cx="110.5" cy="638.6" r="2.4"/><circle cx="90.5" cy="637.7" r="2.4"/><circle cx="98.0" cy="636.5" r="2.4"/><circle cx="130.3" cy="637.2" r="2.4"/><circle cx="127.5" cy="640.2" r="2.4"/><circle cx="104.6" cy="641.9" r="2.4"/><circle cx="66.5" cy="646.5" r="2.4"/><circle cx="84.5" cy="648.1" r="2.4"/><circle cx="91.5" cy="649.2" r="2.4"/><circle cx="110.5" cy="646.5" r="2.4"/><circle cx="103.3" cy="648.3" r="2.4"/><circle cx="106.0" cy="650.2" r="2.4"/><circle cx="102.1" cy="652.7" r="2.4"/><circle cx="107.0" cy="653.4" r="2.4"/><circle cx="125.4" cy="646.5" r="2.4"/><circle cx="127.5" cy="645.8" r="2.4"/><circle cx="130.3" cy="645.1" r="2.4"/><circle cx="125.4" cy="650.6" r="2.4"/><circle cx="128.5" cy="654.1" r="2.4"/><circle cx="87.0" cy="657.1" r="2.4"/><circle cx="95.6" cy="663.1" r="2.4"/><circle cx="108.5" cy="666.2" r="2.4"/><circle cx="114.1" cy="664.9" r="2.4"/><circle cx="126.8" cy="661.0" r="2.4"/><circle cx="133.8" cy="657.6" r="2.4"/><circle cx="136.5" cy="656.6" r="2.4"/><circle cx="134.5" cy="663.1" r="2.4"/><circle cx="100.5" cy="679.3" r="2.4"/><circle cx="118.5" cy="690.4" r="2.4"/><circle cx="137.2" cy="688.5" r="2.4"/><circle cx="122.4" cy="625.4" r="2.4"/><circle cx="184.2" cy="606.7" r="2.4"/><circle cx="211.3" cy="612.5" r="2.4"/><circle cx="187.7" cy="613.6" r="2.4"/><circle cx="182.8" cy="618.4" r="2.4"/><circle cx="194.4" cy="623.6" r="2.4"/><circle cx="202.3" cy="623.2" r="2.4"/><circle cx="183.3" cy="625.2" r="2.4"/><circle cx="181.5" cy="628.2" r="2.4"/><circle cx="141.2" cy="625.2" r="2.4"/><circle cx="136.1" cy="635.4" r="2.4"/><circle cx="148.2" cy="634.3" r="2.4"/><circle cx="153.3" cy="635.4" r="2.4"/><circle cx="167.6" cy="638.6" r="2.4"/><circle cx="169.3" cy="643.3" r="2.4"/><circle cx="154.8" cy="651.3" r="2.4"/><circle cx="145.8" cy="656.9" r="2.4"/><circle cx="127.7" cy="563.3" r="2.4"/><circle cx="148.1" cy="564.4" r="2.4"/><circle cx="137.0" cy="567.6" r="2.4"/><circle cx="142.9" cy="566.4" r="2.4"/><circle cx="124.2" cy="568.4" r="2.4"/><circle cx="120.9" cy="570.3" r="2.4"/><circle cx="117.8" cy="574.4" r="2.4"/><circle cx="124.4" cy="575.2" r="2.4"/><circle cx="131.2" cy="572.0" r="2.4"/><circle cx="168.6" cy="568.4" r="2.4"/><circle cx="170.9" cy="568.4" r="2.4"/><circle cx="155.7" cy="572.0" r="2.4"/><circle cx="156.9" cy="576.4" r="2.4"/><circle cx="173.8" cy="572.3" r="2.4"/><circle cx="149.9" cy="575.5" r="2.4"/><circle cx="146.0" cy="577.5" r="2.4"/><circle cx="143.5" cy="581.0" r="2.4"/><circle cx="149.3" cy="581.0" r="2.4"/><circle cx="141.1" cy="584.3" r="2.4"/><circle cx="146.4" cy="583.9" r="2.4"/><circle cx="142.9" cy="587.1" r="2.4"/><circle cx="146.4" cy="589.0" r="2.4"/><circle cx="149.3" cy="588.4" r="2.4"/><circle cx="154.0" cy="583.9" r="2.4"/><circle cx="157.5" cy="584.3" r="2.4"/><circle cx="162.7" cy="584.2" r="2.4"/><circle cx="168.6" cy="584.2" r="2.4"/><circle cx="164.8" cy="578.1" r="2.4"/><circle cx="165.1" cy="581.6" r="2.4"/><circle cx="173.2" cy="578.5" r="2.4"/><circle cx="111.1" cy="580.7" r="2.4"/><circle cx="115.4" cy="583.4" r="2.4"/><circle cx="111.4" cy="584.8" r="2.4"/><circle cx="109.2" cy="589.2" r="2.4"/><circle cx="113.7" cy="589.2" r="2.4"/><circle cx="127.7" cy="584.3" r="2.4"/><circle cx="128.3" cy="586.6" r="2.4"/><circle cx="131.8" cy="583.4" r="2.4"/><circle cx="135.3" cy="586.3" r="2.4"/><circle cx="125.4" cy="590.4" r="2.4"/><circle cx="120.1" cy="593.9" r="2.4"/><circle cx="104.1" cy="593.5" r="2.4"/><circle cx="108.8" cy="596.4" r="2.4"/><circle cx="131.2" cy="593.9" r="2.4"/><circle cx="132.4" cy="597.4" r="2.4"/><circle cx="131.2" cy="596.2" r="2.4"/><circle cx="158.1" cy="592.5" r="2.4"/><circle cx="172.1" cy="591.3" r="2.4"/><circle cx="170.3" cy="599.7" r="2.4"/><circle cx="163.9" cy="601.5" r="2.4"/><circle cx="142.9" cy="599.4" r="2.4"/><circle cx="147.6" cy="600.3" r="2.4"/><circle cx="149.3" cy="600.3" r="2.4"/><circle cx="154.0" cy="602.0" r="2.4"/><circle cx="157.5" cy="602.0" r="2.4"/><circle cx="102.6" cy="600.3" r="2.4"/><circle cx="105.5" cy="602.6" r="2.4"/><circle cx="106.7" cy="604.4" r="2.4"/><circle cx="114.9" cy="602.6" r="2.4"/><circle cx="121.3" cy="600.3" r="2.4"/><circle cx="125.4" cy="601.5" r="2.4"/><circle cx="128.9" cy="601.5" r="2.4"/><circle cx="133.0" cy="602.6" r="2.4"/><circle cx="133.0" cy="605.5" r="2.4"/><circle cx="99.7" cy="607.9" r="2.4"/><circle cx="104.3" cy="607.9" r="2.4"/><circle cx="96.2" cy="610.8" r="2.4"/><circle cx="111.9" cy="607.3" r="2.4"/><circle cx="117.2" cy="606.7" r="2.4"/><circle cx="121.3" cy="606.1" r="2.4"/><circle cx="121.9" cy="609.0" r="2.4"/><circle cx="118.4" cy="611.4" r="2.4"/><circle cx="125.9" cy="611.4" r="2.4"/><circle cx="130.0" cy="612.0" r="2.4"/><circle cx="132.4" cy="613.1" r="2.4"/><circle cx="139.4" cy="608.5" r="2.4"/><circle cx="143.5" cy="609.1" r="2.4"/><circle cx="153.4" cy="606.7" r="2.4"/><circle cx="149.9" cy="609.6" r="2.4"/><circle cx="152.2" cy="609.6" r="2.4"/><circle cx="164.5" cy="609.6" r="2.4"/><circle cx="172.7" cy="606.1" r="2.4"/><circle cx="117.8" cy="613.7" r="2.4"/><circle cx="120.1" cy="614.3" r="2.4"/><circle cx="144.1" cy="614.3" r="2.4"/><circle cx="148.7" cy="614.9" r="2.4"/><circle cx="152.2" cy="616.6" r="2.4"/><circle cx="155.1" cy="614.3" r="2.4"/><circle cx="165.1" cy="614.0" r="2.4"/><circle cx="168.6" cy="614.0" r="2.4"/><circle cx="125.9" cy="617.2" r="2.4"/><circle cx="133.0" cy="618.4" r="2.4"/><circle cx="99.7" cy="619.0" r="2.4"/><circle cx="103.8" cy="620.1" r="2.4"/><circle cx="112.5" cy="620.7" r="2.4"/><circle cx="114.3" cy="621.9" r="2.4"/><circle cx="173.2" cy="617.2" r="2.4"/><circle cx="161.0" cy="621.0" r="2.4"/><circle cx="137.0" cy="622.5" r="2.4"/><circle cx="141.7" cy="620.7" r="2.4"/><circle cx="145.2" cy="621.3" r="2.4"/><circle cx="149.9" cy="621.3" r="2.4"/><circle cx="123.0" cy="623.1" r="2.4"/><circle cx="118.4" cy="624.2" r="2.4"/><circle cx="126.8" cy="601.5" r="2.4"/></g>
<polygon points="66.1,631.1 69.9,630.0 73.7,628.9 77.5,627.7 81.3,626.5 85.2,625.3 89.0,624.1 92.8,622.8 96.6,621.5 100.4,620.2 104.2,618.8 108.0,617.4 111.8,616.0 115.6,614.5 119.4,613.1 123.3,611.5 127.1,610.0 130.9,608.4 134.7,606.8 138.5,605.2 142.3,603.5 146.1,601.8 149.9,600.1 153.7,598.3 157.5,596.5 161.4,594.7 165.2,592.9 169.0,591.0 172.8,589.1 176.6,587.1 180.4,585.2 184.2,583.1 188.0,581.1 191.8,579.1 195.6,577.0 199.5,574.8 203.3,572.7 207.1,570.5 210.9,568.3 214.7,566.0 214.7,585.0 210.9,586.0 207.1,587.1 203.3,588.2 199.5,589.4 195.6,590.5 191.8,591.7 188.0,593.0 184.2,594.2 180.4,595.5 176.6,596.9 172.8,598.2 169.0,599.6 165.2,601.0 161.4,602.5 157.5,603.9 153.7,605.4 149.9,607.0 146.1,608.5 142.3,610.1 138.5,611.8 134.7,613.4 130.9,615.1 127.1,616.8 123.3,618.6 119.4,620.4 115.6,622.2 111.8,624.0 108.0,625.9 104.2,627.8 100.4,629.7 96.6,631.7 92.8,633.7 89.0,635.7 85.2,637.8 81.3,639.9 77.5,642.0 73.7,644.1 69.9,646.3 66.1,648.5" fill="#ee3a44" fill-opacity="0.22"/>
<line x1="66.10" y1="639.80" x2="214.70" y2="575.50" stroke="#f0463f" stroke-width="0.9"/>
<line x1="47.30" y1="513.10" x2="47.30" y2="698.50" stroke="#3a3a3a" stroke-width="0.9"/>
<line x1="46.90" y1="698.10" x2="229.30" y2="698.10" stroke="#3a3a3a" stroke-width="0.9"/>
<line x1="45.30" y1="536.90" x2="47.30" y2="536.90" stroke="#3a3a3a" stroke-width="0.6"/>
<text class="A" x="44.60" y="540.10" font-size="9" text-anchor="end" fill="#000" textLength="10.0" lengthAdjust="spacingAndGlyphs" stroke="#000" stroke-width="0.2">7.5</text>
<line x1="45.30" y1="561.10" x2="47.30" y2="561.10" stroke="#3a3a3a" stroke-width="0.6"/>
<text class="A" x="44.60" y="564.30" font-size="9" text-anchor="end" fill="#000" textLength="10.0" lengthAdjust="spacingAndGlyphs" stroke="#000" stroke-width="0.2">5.0</text>
<line x1="45.30" y1="585.30" x2="47.30" y2="585.30" stroke="#3a3a3a" stroke-width="0.6"/>
<text class="A" x="44.60" y="588.50" font-size="9" text-anchor="end" fill="#000" textLength="10.0" lengthAdjust="spacingAndGlyphs" stroke="#000" stroke-width="0.2">2.5</text>
<line x1="45.30" y1="609.50" x2="47.30" y2="609.50" stroke="#3a3a3a" stroke-width="0.6"/>
<text class="A" x="44.60" y="612.70" font-size="9" text-anchor="end" fill="#000" textLength="10.0" lengthAdjust="spacingAndGlyphs" stroke="#000" stroke-width="0.2">0.0</text>
<line x1="45.30" y1="633.70" x2="47.30" y2="633.70" stroke="#3a3a3a" stroke-width="0.6"/>
<text class="A" x="44.60" y="636.90" font-size="9" text-anchor="end" fill="#000" textLength="14.2" lengthAdjust="spacingAndGlyphs" stroke="#000" stroke-width="0.2">−2.5</text>
<line x1="45.30" y1="657.90" x2="47.30" y2="657.90" stroke="#3a3a3a" stroke-width="0.6"/>
<text class="A" x="44.60" y="661.10" font-size="9" text-anchor="end" fill="#000" textLength="14.2" lengthAdjust="spacingAndGlyphs" stroke="#000" stroke-width="0.2">−5.0</text>
<line x1="45.30" y1="682.10" x2="47.30" y2="682.10" stroke="#3a3a3a" stroke-width="0.6"/>
<text class="A" x="44.60" y="685.30" font-size="9" text-anchor="end" fill="#000" textLength="14.2" lengthAdjust="spacingAndGlyphs" stroke="#000" stroke-width="0.2">−7.5</text>
<line x1="47.00" y1="698.10" x2="47.00" y2="700.10" stroke="#3a3a3a" stroke-width="0.6"/>
<text class="A" transform="translate(46.40,704.80) rotate(-60)" font-size="9" text-anchor="end" fill="#000" textLength="8.2" lengthAdjust="spacingAndGlyphs" stroke="#000" stroke-width="0.2">−4</text>
<line x1="92.40" y1="698.10" x2="92.40" y2="700.10" stroke="#3a3a3a" stroke-width="0.6"/>
<text class="A" transform="translate(91.80,704.80) rotate(-60)" font-size="9" text-anchor="end" fill="#000" textLength="8.2" lengthAdjust="spacingAndGlyphs" stroke="#000" stroke-width="0.2">−2</text>
<line x1="137.80" y1="698.10" x2="137.80" y2="700.10" stroke="#3a3a3a" stroke-width="0.6"/>
<text class="A" transform="translate(137.20,704.80) rotate(-60)" font-size="9" text-anchor="end" fill="#000" textLength="4.0" lengthAdjust="spacingAndGlyphs" stroke="#000" stroke-width="0.2">0</text>
<line x1="183.20" y1="698.10" x2="183.20" y2="700.10" stroke="#3a3a3a" stroke-width="0.6"/>
<text class="A" transform="translate(182.60,704.80) rotate(-60)" font-size="9" text-anchor="end" fill="#000" textLength="4.0" lengthAdjust="spacingAndGlyphs" stroke="#000" stroke-width="0.2">2</text>
<line x1="228.60" y1="698.10" x2="228.60" y2="700.10" stroke="#3a3a3a" stroke-width="0.6"/>
<text class="A" transform="translate(228.00,704.80) rotate(-60)" font-size="9" text-anchor="end" fill="#000" textLength="4.0" lengthAdjust="spacingAndGlyphs" stroke="#000" stroke-width="0.2">4</text>
<text class="Ab" x="64.0" y="721.3" font-size="8.3">Environmental Factors <tspan class="Sb">1</tspan><tspan class="S" font-style="italic" font-weight="normal" font-size="5.6" dy="-3.2">st</tspan><tspan dy="3.2"> Component</tspan></text>
<text class="Ab" transform="translate(26.0,650.6) rotate(-90)" font-size="8.35">Profiles <tspan class="Sb">1</tspan><tspan class="S" font-style="italic" font-weight="normal" font-size="5.6" dy="-3.2">st</tspan><tspan dy="3.2"> Component</tspan></text>
<text class="Sb" transform="translate(282.00,529.00) scale(0.2571,0.2243)" font-size="100" stroke="#000" stroke-width="2.2">f</text>
<line x1="328.30" y1="514.10" x2="328.30" y2="692.50" stroke="#3a3a3a" stroke-width="0.9"/>
<line x1="326.30" y1="514.10" x2="328.30" y2="514.10" stroke="#3a3a3a" stroke-width="0.6"/>
<text class="S" x="325.70" y="517.90" font-size="9.9" text-anchor="end" fill="#000" textLength="12.0" lengthAdjust="spacingAndGlyphs" stroke="#000" stroke-width="0.25">0.4</text>
<line x1="326.30" y1="536.40" x2="328.30" y2="536.40" stroke="#3a3a3a" stroke-width="0.6"/>
<text class="S" x="325.70" y="540.20" font-size="9.9" text-anchor="end" fill="#000" textLength="12.0" lengthAdjust="spacingAndGlyphs" stroke="#000" stroke-width="0.25">0.3</text>
<line x1="326.30" y1="558.70" x2="328.30" y2="558.70" stroke="#3a3a3a" stroke-width="0.6"/>
<text class="S" x="325.70" y="562.50" font-size="9.9" text-anchor="end" fill="#000" textLength="12.0" lengthAdjust="spacingAndGlyphs" stroke="#000" stroke-width="0.25">0.2</text>
<line x1="326.30" y1="581.00" x2="328.30" y2="581.00" stroke="#3a3a3a" stroke-width="0.6"/>
<text class="S" x="325.70" y="584.80" font-size="9.9" text-anchor="end" fill="#000" textLength="12.0" lengthAdjust="spacingAndGlyphs" stroke="#000" stroke-width="0.25">0.1</text>
<line x1="326.30" y1="603.30" x2="328.30" y2="603.30" stroke="#3a3a3a" stroke-width="0.6"/>
<text class="S" x="325.70" y="607.10" font-size="9.9" text-anchor="end" fill="#000" textLength="12.0" lengthAdjust="spacingAndGlyphs" stroke="#000" stroke-width="0.25">0.0</text>
<line x1="326.30" y1="625.60" x2="328.30" y2="625.60" stroke="#3a3a3a" stroke-width="0.6"/>
<text class="S" x="325.70" y="629.40" font-size="9.9" text-anchor="end" fill="#000" textLength="17.4" lengthAdjust="spacingAndGlyphs" stroke="#000" stroke-width="0.25">−0.1</text>
<line x1="326.30" y1="647.90" x2="328.30" y2="647.90" stroke="#3a3a3a" stroke-width="0.6"/>
<text class="S" x="325.70" y="651.70" font-size="9.9" text-anchor="end" fill="#000" textLength="17.4" lengthAdjust="spacingAndGlyphs" stroke="#000" stroke-width="0.25">−0.2</text>
<line x1="326.30" y1="670.20" x2="328.30" y2="670.20" stroke="#3a3a3a" stroke-width="0.6"/>
<text class="S" x="325.70" y="674.00" font-size="9.9" text-anchor="end" fill="#000" textLength="17.4" lengthAdjust="spacingAndGlyphs" stroke="#000" stroke-width="0.25">−0.3</text>
<line x1="326.30" y1="692.50" x2="328.30" y2="692.50" stroke="#3a3a3a" stroke-width="0.6"/>
<text class="S" x="325.70" y="696.30" font-size="9.9" text-anchor="end" fill="#000" textLength="17.4" lengthAdjust="spacingAndGlyphs" stroke="#000" stroke-width="0.25">−0.4</text>
<rect x="330.25" y="579.44" width="13.50" height="23.86" fill="#ee8a66"/>
<text class="S" transform="translate(336.40,578.34) rotate(-90)" font-size="8.7" text-anchor="start" fill="#000" textLength="14.9" lengthAdjust="spacingAndGlyphs" dy="0.33em" stroke="#000" stroke-width="0.2">0.11</text>
<line x1="337.00" y1="692.70" x2="337.00" y2="693.90" stroke="#555" stroke-width="0.5"/>
<text class="A" transform="translate(337.00,695.00) rotate(-90)" font-size="7" text-anchor="end" fill="#000" dy="0.34em" stroke="#000" stroke-width="0.12">Profile 1</text>
<rect x="347.15" y="548.22" width="13.50" height="55.08" fill="#ee8a66"/>
<text class="S" transform="translate(353.30,547.12) rotate(-90)" font-size="8.7" text-anchor="start" fill="#000" textLength="15.2" lengthAdjust="spacingAndGlyphs" dy="0.33em" stroke="#000" stroke-width="0.2">0.25</text>
<line x1="353.90" y1="692.70" x2="353.90" y2="693.90" stroke="#555" stroke-width="0.5"/>
<text class="A" transform="translate(353.90,695.00) rotate(-90)" font-size="7" text-anchor="end" fill="#000" dy="0.34em" stroke="#000" stroke-width="0.12">Profile 2</text>
<rect x="364.25" y="603.30" width="13.50" height="66.23" fill="#ee8a66"/>
<text class="S" transform="translate(370.40,670.63) rotate(-90)" font-size="8.7" text-anchor="end" fill="#000" textLength="19.7" lengthAdjust="spacingAndGlyphs" dy="0.33em" stroke="#000" stroke-width="0.2">-0.30</text>
<line x1="371.00" y1="692.70" x2="371.00" y2="693.90" stroke="#555" stroke-width="0.5"/>
<text class="A" transform="translate(371.00,695.00) rotate(-90)" font-size="7" text-anchor="end" fill="#000" dy="0.34em" stroke="#000" stroke-width="0.12">Profile 3</text>
<rect x="381.35" y="603.30" width="13.50" height="3.79" fill="#ee8a66"/>
<text class="S" transform="translate(387.50,608.19) rotate(-90)" font-size="8.7" text-anchor="end" fill="#000" textLength="19.7" lengthAdjust="spacingAndGlyphs" dy="0.33em" stroke="#000" stroke-width="0.2">-0.02</text>
<line x1="388.10" y1="692.70" x2="388.10" y2="693.90" stroke="#555" stroke-width="0.5"/>
<text class="A" transform="translate(388.10,695.00) rotate(-90)" font-size="7" text-anchor="end" fill="#000" dy="0.34em" stroke="#000" stroke-width="0.12">Profile 4</text>
<text class="Sb" transform="translate(306.10,603.40) rotate(-90)" font-size="8.9" text-anchor="middle" textLength="35.4" lengthAdjust="spacingAndGlyphs">Loadings</text>
<text class="Sb" transform="translate(441.10,528.45) scale(0.2380,0.2068)" font-size="100" stroke="#000" stroke-width="2.2">g</text>
<line x1="484.30" y1="510.60" x2="484.30" y2="633.80" stroke="#3a3a3a" stroke-width="0.9"/>
<line x1="482.30" y1="519.72" x2="484.30" y2="519.72" stroke="#3a3a3a" stroke-width="0.6"/>
<text class="S" x="481.70" y="523.52" font-size="9.9" text-anchor="end" fill="#000" textLength="12.0" lengthAdjust="spacingAndGlyphs" stroke="#000" stroke-width="0.25">0.6</text>
<line x1="482.30" y1="537.28" x2="484.30" y2="537.28" stroke="#3a3a3a" stroke-width="0.6"/>
<text class="S" x="481.70" y="541.08" font-size="9.9" text-anchor="end" fill="#000" textLength="12.0" lengthAdjust="spacingAndGlyphs" stroke="#000" stroke-width="0.25">0.4</text>
<line x1="482.30" y1="554.84" x2="484.30" y2="554.84" stroke="#3a3a3a" stroke-width="0.6"/>
<text class="S" x="481.70" y="558.64" font-size="9.9" text-anchor="end" fill="#000" textLength="12.0" lengthAdjust="spacingAndGlyphs" stroke="#000" stroke-width="0.25">0.2</text>
<line x1="482.30" y1="572.40" x2="484.30" y2="572.40" stroke="#3a3a3a" stroke-width="0.6"/>
<text class="S" x="481.70" y="576.20" font-size="9.9" text-anchor="end" fill="#000" textLength="12.0" lengthAdjust="spacingAndGlyphs" stroke="#000" stroke-width="0.25">0.0</text>
<line x1="482.30" y1="589.96" x2="484.30" y2="589.96" stroke="#3a3a3a" stroke-width="0.6"/>
<text class="S" x="481.70" y="593.76" font-size="9.9" text-anchor="end" fill="#000" textLength="17.4" lengthAdjust="spacingAndGlyphs" stroke="#000" stroke-width="0.25">−0.2</text>
<line x1="482.30" y1="607.52" x2="484.30" y2="607.52" stroke="#3a3a3a" stroke-width="0.6"/>
<text class="S" x="481.70" y="611.32" font-size="9.9" text-anchor="end" fill="#000" textLength="17.4" lengthAdjust="spacingAndGlyphs" stroke="#000" stroke-width="0.25">−0.4</text>
<line x1="482.30" y1="625.08" x2="484.30" y2="625.08" stroke="#3a3a3a" stroke-width="0.6"/>
<text class="S" x="481.70" y="628.88" font-size="9.9" text-anchor="end" fill="#000" textLength="17.4" lengthAdjust="spacingAndGlyphs" stroke="#000" stroke-width="0.25">−0.6</text>
<rect x="486.45" y="572.40" width="16.10" height="29.85" fill="#7dcfa9"/>
<text class="S" transform="translate(493.90,603.35) rotate(-90)" font-size="8.9" text-anchor="end" fill="#000" textLength="20.1" lengthAdjust="spacingAndGlyphs" dy="0.33em" stroke="#000" stroke-width="0.2">-0.34</text>
<line x1="494.50" y1="634.00" x2="494.50" y2="635.20" stroke="#555" stroke-width="0.5"/>
<text class="A" transform="translate(494.50,636.20) rotate(-90)" font-size="7.4" text-anchor="end" fill="#000" dy="0.34em" stroke="#000" stroke-width="0.12">Age delivery</text>
<rect x="506.75" y="572.40" width="16.10" height="36.88" fill="#7dcfa9"/>
<text class="S" transform="translate(514.20,610.38) rotate(-90)" font-size="8.9" text-anchor="end" fill="#000" textLength="20.1" lengthAdjust="spacingAndGlyphs" dy="0.33em" stroke="#000" stroke-width="0.2">-0.42</text>
<line x1="514.80" y1="634.00" x2="514.80" y2="635.20" stroke="#555" stroke-width="0.5"/>
<text class="A" transform="translate(514.80,636.20) rotate(-90)" font-size="7.4" text-anchor="end" fill="#000" dy="0.34em" stroke="#000" stroke-width="0.12">Gestational Age</text>
<rect x="527.05" y="572.40" width="16.10" height="38.63" fill="#7dcfa9"/>
<text class="S" transform="translate(534.50,612.13) rotate(-90)" font-size="8.9" text-anchor="end" fill="#000" textLength="20.1" lengthAdjust="spacingAndGlyphs" dy="0.33em" stroke="#000" stroke-width="0.2">-0.44</text>
<line x1="535.10" y1="634.00" x2="535.10" y2="635.20" stroke="#555" stroke-width="0.5"/>
<text class="A" transform="translate(535.10,636.20) rotate(-90)" font-size="7.4" text-anchor="end" fill="#000" dy="0.34em" stroke="#000" stroke-width="0.12">Birth weight</text>
<rect x="547.35" y="526.74" width="16.10" height="45.66" fill="#7dcfa9"/>
<text class="S" transform="translate(554.80,525.64) rotate(-90)" font-size="8.9" text-anchor="start" fill="#000" textLength="15.6" lengthAdjust="spacingAndGlyphs" dy="0.33em" stroke="#000" stroke-width="0.2">0.52</text>
<line x1="555.40" y1="634.00" x2="555.40" y2="635.20" stroke="#555" stroke-width="0.5"/>
<text class="A" transform="translate(555.40,636.20) rotate(-90)" font-size="7.4" text-anchor="end" fill="#000" dy="0.34em" stroke="#000" stroke-width="0.12">Traumatic event</text>
<rect x="567.65" y="545.18" width="16.10" height="27.22" fill="#7dcfa9"/>
<text class="S" transform="translate(575.10,544.08) rotate(-90)" font-size="8.9" text-anchor="start" fill="#000" textLength="15.6" lengthAdjust="spacingAndGlyphs" dy="0.33em" stroke="#000" stroke-width="0.2">0.31</text>
<line x1="575.70" y1="634.00" x2="575.70" y2="635.20" stroke="#555" stroke-width="0.5"/>
<text class="A" transform="translate(575.70,636.20) rotate(-90)" font-size="7.4" text-anchor="end" fill="#000" dy="0.34em" stroke="#000" stroke-width="0.12">Prenatal substance use</text>
<rect x="587.95" y="572.40" width="16.10" height="8.78" fill="#7dcfa9"/>
<text class="S" transform="translate(595.40,582.28) rotate(-90)" font-size="8.9" text-anchor="end" fill="#000" textLength="20.1" lengthAdjust="spacingAndGlyphs" dy="0.33em" stroke="#000" stroke-width="0.2">-0.10</text>
<line x1="596.00" y1="634.00" x2="596.00" y2="635.20" stroke="#555" stroke-width="0.5"/>
<text class="A" transform="translate(596.00,636.20) rotate(-90)" font-size="7.4" text-anchor="end" fill="#000" dy="0.34em" stroke="#000" stroke-width="0.12">Sleeping hours</text>
<rect x="608.25" y="545.18" width="16.10" height="27.22" fill="#7dcfa9"/>
<text class="S" transform="translate(615.70,544.08) rotate(-90)" font-size="8.9" text-anchor="start" fill="#000" textLength="15.6" lengthAdjust="spacingAndGlyphs" dy="0.33em" stroke="#000" stroke-width="0.2">0.31</text>
<line x1="616.30" y1="634.00" x2="616.30" y2="635.20" stroke="#555" stroke-width="0.5"/>
<text class="A" transform="translate(616.30,636.20) rotate(-90)" font-size="7.4" text-anchor="end" fill="#000" dy="0.34em" stroke="#000" stroke-width="0.12">Parental psychopathology</text>
<rect x="628.55" y="546.94" width="16.10" height="25.46" fill="#7dcfa9"/>
<text class="S" transform="translate(636.00,545.84) rotate(-90)" font-size="8.9" text-anchor="start" fill="#000" textLength="15.6" lengthAdjust="spacingAndGlyphs" dy="0.33em" stroke="#000" stroke-width="0.2">0.29</text>
<line x1="636.60" y1="634.00" x2="636.60" y2="635.20" stroke="#555" stroke-width="0.5"/>
<text class="A" transform="translate(636.60,636.20) rotate(-90)" font-size="7.4" text-anchor="end" fill="#000" dy="0.34em" stroke="#000" stroke-width="0.12">Prenatal conditions</text>
<rect x="648.85" y="568.01" width="16.10" height="4.39" fill="#7dcfa9"/>
<text class="S" transform="translate(656.30,566.91) rotate(-90)" font-size="8.9" text-anchor="start" fill="#000" textLength="15.6" lengthAdjust="spacingAndGlyphs" dy="0.33em" stroke="#000" stroke-width="0.2">0.05</text>
<line x1="656.90" y1="634.00" x2="656.90" y2="635.20" stroke="#555" stroke-width="0.5"/>
<text class="A" transform="translate(656.90,636.20) rotate(-90)" font-size="7.4" text-anchor="end" fill="#000" dy="0.34em" stroke="#000" stroke-width="0.12">Parental Education</text>
<text class="Sb" transform="translate(462.20,572.60) rotate(-90)" font-size="8.85" text-anchor="middle" textLength="35.2" lengthAdjust="spacingAndGlyphs">Loadings</text>
<text class="Sb" transform="translate(175.30,763.90) scale(0.1946,0.2290)" font-size="100" stroke="#000" stroke-width="2.2">h</text>
<rect x="286.00" y="749.20" width="25.25" height="25.05" fill="#f4f0dd"/>
<rect x="311.25" y="749.20" width="25.25" height="25.05" fill="#f5f3e7"/>
<rect x="336.50" y="749.20" width="25.25" height="25.05" fill="#f4f1e1"/>
<rect x="361.75" y="749.20" width="25.25" height="25.05" fill="#ddf0eb"/>
<rect x="387.00" y="749.20" width="25.25" height="25.05" fill="#e5f2ef"/>
<rect x="412.25" y="749.20" width="25.25" height="25.05" fill="#f6f5f1"/>
<rect x="437.50" y="749.20" width="25.25" height="25.05" fill="#eaf3f1"/>
<rect x="462.75" y="749.20" width="25.25" height="25.05" fill="#edf4f2"/>
<rect x="488.00" y="749.20" width="25.25" height="25.05" fill="#f5f6f6"/>
<rect x="286.00" y="774.25" width="25.25" height="25.05" fill="#eee7bb"/>
<rect x="311.25" y="774.25" width="25.25" height="25.05" fill="#f3eed3"/>
<rect x="336.50" y="774.25" width="25.25" height="25.05" fill="#f2ecc7"/>
<rect x="361.75" y="774.25" width="25.25" height="25.05" fill="#b4e2d5"/>
<rect x="387.00" y="774.25" width="25.25" height="25.05" fill="#d0ede5"/>
<rect x="412.25" y="774.25" width="25.25" height="25.05" fill="#f5f4eb"/>
<rect x="437.50" y="774.25" width="25.25" height="25.05" fill="#daefea"/>
<rect x="462.75" y="774.25" width="25.25" height="25.05" fill="#e2f1ed"/>
<rect x="488.00" y="774.25" width="25.25" height="25.05" fill="#f2f5f4"/>
<rect x="286.00" y="799.30" width="25.25" height="25.05" fill="#b9e4d8"/>
<rect x="311.25" y="799.30" width="25.25" height="25.05" fill="#d0ede5"/>
<rect x="336.50" y="799.30" width="25.25" height="25.05" fill="#c5e9e0"/>
<rect x="361.75" y="799.30" width="25.25" height="25.05" fill="#e2d696"/>
<rect x="387.00" y="799.30" width="25.25" height="25.05" fill="#f1ebc3"/>
<rect x="412.25" y="799.30" width="25.25" height="25.05" fill="#eaf3f1"/>
<rect x="437.50" y="799.30" width="25.25" height="25.05" fill="#f2ecc7"/>
<rect x="462.75" y="799.30" width="25.25" height="25.05" fill="#f3efd7"/>
<rect x="488.00" y="799.30" width="25.25" height="25.05" fill="#f6f5f1"/>
<rect x="286.00" y="824.35" width="25.25" height="25.05" fill="#f2f5f4"/>
<rect x="311.25" y="824.35" width="25.25" height="25.05" fill="#f2f5f4"/>
<rect x="336.50" y="824.35" width="25.25" height="25.05" fill="#f2f5f4"/>
<rect x="361.75" y="824.35" width="25.25" height="25.05" fill="#f6f5f1"/>
<rect x="387.00" y="824.35" width="25.25" height="25.05" fill="#f6f5f1"/>
<rect x="412.25" y="824.35" width="25.25" height="25.05" fill="#f5f6f6"/>
<rect x="437.50" y="824.35" width="25.25" height="25.05" fill="#f6f5f1"/>
<rect x="462.75" y="824.35" width="25.25" height="25.05" fill="#f6f6f5"/>
<rect x="488.00" y="824.35" width="25.25" height="25.05" fill="#f6f6f5"/>
<g stroke="#4a4a4a" stroke-width="0.95" fill="none"><line x1="286.00" y1="749.20" x2="286.00" y2="849.40"/><line x1="311.25" y1="749.20" x2="311.25" y2="849.40"/><line x1="336.50" y1="749.20" x2="336.50" y2="849.40"/><line x1="361.75" y1="749.20" x2="361.75" y2="849.40"/><line x1="387.00" y1="749.20" x2="387.00" y2="849.40"/><line x1="412.25" y1="749.20" x2="412.25" y2="849.40"/><line x1="437.50" y1="749.20" x2="437.50" y2="849.40"/><line x1="462.75" y1="749.20" x2="462.75" y2="849.40"/><line x1="488.00" y1="749.20" x2="488.00" y2="849.40"/><line x1="513.25" y1="749.20" x2="513.25" y2="849.40"/><line x1="286.00" y1="749.20" x2="513.25" y2="749.20"/><line x1="286.00" y1="774.25" x2="513.25" y2="774.25"/><line x1="286.00" y1="799.30" x2="513.25" y2="799.30"/><line x1="286.00" y1="824.35" x2="513.25" y2="824.35"/><line x1="286.00" y1="849.40" x2="513.25" y2="849.40"/></g>
<text class="S" x="298.62" y="765.12" font-size="10" text-anchor="middle" fill="#111" stroke="#111" stroke-width="0.2">-0.05</text>
<text class="S" x="323.88" y="765.12" font-size="10" text-anchor="middle" fill="#111" stroke="#111" stroke-width="0.2">-0.03</text>
<text class="S" x="349.12" y="765.12" font-size="10" text-anchor="middle" fill="#111" stroke="#111" stroke-width="0.2">-0.04</text>
<text class="S" x="374.38" y="765.12" font-size="10" text-anchor="middle" fill="#111" stroke="#111" stroke-width="0.2">0.06</text>
<text class="S" x="399.62" y="765.12" font-size="10" text-anchor="middle" fill="#111" stroke="#111" stroke-width="0.2">0.04</text>
<text class="S" x="424.88" y="765.12" font-size="10" text-anchor="middle" fill="#111" stroke="#111" stroke-width="0.2">-0.01</text>
<text class="S" x="450.12" y="765.12" font-size="10" text-anchor="middle" fill="#111" stroke="#111" stroke-width="0.2">0.03</text>
<text class="S" x="475.38" y="765.12" font-size="10" text-anchor="middle" fill="#111" stroke="#111" stroke-width="0.2">0.02</text>
<text class="S" x="500.62" y="765.12" font-size="10" text-anchor="middle" fill="#111" stroke="#111" stroke-width="0.2">0.00</text>
<text class="S" x="298.62" y="790.17" font-size="10" text-anchor="middle" fill="#111" stroke="#111" stroke-width="0.2">-0.11</text>
<text class="S" x="323.88" y="790.17" font-size="10" text-anchor="middle" fill="#111" stroke="#111" stroke-width="0.2">-0.07</text>
<text class="S" x="349.12" y="790.17" font-size="10" text-anchor="middle" fill="#111" stroke="#111" stroke-width="0.2">-0.09</text>
<text class="S" x="374.38" y="790.17" font-size="10" text-anchor="middle" fill="#111" stroke="#111" stroke-width="0.2">0.14</text>
<text class="S" x="399.62" y="790.17" font-size="10" text-anchor="middle" fill="#111" stroke="#111" stroke-width="0.2">0.09</text>
<text class="S" x="424.88" y="790.17" font-size="10" text-anchor="middle" fill="#111" stroke="#111" stroke-width="0.2">-0.02</text>
<text class="S" x="450.12" y="790.17" font-size="10" text-anchor="middle" fill="#111" stroke="#111" stroke-width="0.2">0.07</text>
<text class="S" x="475.38" y="790.17" font-size="10" text-anchor="middle" fill="#111" stroke="#111" stroke-width="0.2">0.05</text>
<text class="S" x="500.62" y="790.17" font-size="10" text-anchor="middle" fill="#111" stroke="#111" stroke-width="0.2">0.01</text>
<text class="S" x="298.62" y="815.23" font-size="10" text-anchor="middle" fill="#111" stroke="#111" stroke-width="0.2">0.13</text>
<text class="S" x="323.88" y="815.23" font-size="10" text-anchor="middle" fill="#111" stroke="#111" stroke-width="0.2">0.09</text>
<text class="S" x="349.12" y="815.23" font-size="10" text-anchor="middle" fill="#111" stroke="#111" stroke-width="0.2">0.11</text>
<text class="S" x="374.38" y="815.23" font-size="10" text-anchor="middle" fill="#111" stroke="#111" stroke-width="0.2">-0.17</text>
<path d="M383.00 801.60L383.00 806.60M380.83 802.85L385.17 805.35M385.17 802.85L380.83 805.35" stroke="#f23c30" stroke-width="1.05" stroke-linecap="round" fill="none"/>
<text class="S" x="399.62" y="815.23" font-size="10" text-anchor="middle" fill="#111" stroke="#111" stroke-width="0.2">-0.10</text>
<text class="S" x="424.88" y="815.23" font-size="10" text-anchor="middle" fill="#111" stroke="#111" stroke-width="0.2">0.03</text>
<text class="S" x="450.12" y="815.23" font-size="10" text-anchor="middle" fill="#111" stroke="#111" stroke-width="0.2">-0.09</text>
<text class="S" x="475.38" y="815.23" font-size="10" text-anchor="middle" fill="#111" stroke="#111" stroke-width="0.2">-0.06</text>
<text class="S" x="500.62" y="815.23" font-size="10" text-anchor="middle" fill="#111" stroke="#111" stroke-width="0.2">-0.01</text>
<text class="S" x="298.62" y="840.27" font-size="10" text-anchor="middle" fill="#111" stroke="#111" stroke-width="0.2">0.01</text>
<text class="S" x="323.88" y="840.27" font-size="10" text-anchor="middle" fill="#111" stroke="#111" stroke-width="0.2">0.01</text>
<text class="S" x="349.12" y="840.27" font-size="10" text-anchor="middle" fill="#111" stroke="#111" stroke-width="0.2">0.01</text>
<text class="S" x="374.38" y="840.27" font-size="10" text-anchor="middle" fill="#111" stroke="#111" stroke-width="0.2">-0.01</text>
<text class="S" x="399.62" y="840.27" font-size="10" text-anchor="middle" fill="#111" stroke="#111" stroke-width="0.2">-0.01</text>
<text class="S" x="424.88" y="840.27" font-size="10" text-anchor="middle" fill="#111" stroke="#111" stroke-width="0.2">0.00</text>
<text class="S" x="450.12" y="840.27" font-size="10" text-anchor="middle" fill="#111" stroke="#111" stroke-width="0.2">-0.01</text>
<text class="S" x="475.38" y="840.27" font-size="10" text-anchor="middle" fill="#111" stroke="#111" stroke-width="0.2">-0.00</text>
<text class="S" x="500.62" y="840.27" font-size="10" text-anchor="middle" fill="#111" stroke="#111" stroke-width="0.2">-0.00</text>
<line x1="283.80" y1="761.73" x2="286.00" y2="761.73" stroke="#333" stroke-width="0.6"/>
<text class="S" x="282.00" y="765.93" font-size="14.6" text-anchor="end" fill="#000" textLength="72.0" lengthAdjust="spacingAndGlyphs" stroke="#000" stroke-width="0.4">MC/HSI (c1)</text>
<line x1="283.80" y1="786.77" x2="286.00" y2="786.77" stroke="#333" stroke-width="0.6"/>
<text class="S" x="282.00" y="790.98" font-size="14.6" text-anchor="end" fill="#000" textLength="69.5" lengthAdjust="spacingAndGlyphs" stroke="#000" stroke-width="0.4">MC/HE (c2)</text>
<line x1="283.80" y1="811.83" x2="286.00" y2="811.83" stroke="#333" stroke-width="0.6"/>
<text class="S" x="282.00" y="816.03" font-size="14.6" text-anchor="end" fill="#000" textLength="66.0" lengthAdjust="spacingAndGlyphs" stroke="#000" stroke-width="0.4">HC/LB (c3)</text>
<line x1="283.80" y1="836.88" x2="286.00" y2="836.88" stroke="#333" stroke-width="0.6"/>
<text class="S" x="282.00" y="841.08" font-size="14.6" text-anchor="end" fill="#000" textLength="63.5" lengthAdjust="spacingAndGlyphs" stroke="#000" stroke-width="0.4">LC/LB (c4)</text>
<line x1="298.62" y1="849.40" x2="298.62" y2="851.60" stroke="#333" stroke-width="0.6"/>
<text class="A" transform="translate(298.62,851.50) rotate(-90)" font-size="14.2" text-anchor="end" fill="#000" textLength="78.6" lengthAdjust="spacingAndGlyphs" dy="0.34em" stroke="#000" stroke-width="0.35">Age delivery</text>
<line x1="323.88" y1="849.40" x2="323.88" y2="851.60" stroke="#333" stroke-width="0.6"/>
<text class="A" transform="translate(323.88,851.50) rotate(-90)" font-size="14.2" text-anchor="end" fill="#000" textLength="99.6" lengthAdjust="spacingAndGlyphs" dy="0.34em" stroke="#000" stroke-width="0.35">Gestational Age</text>
<line x1="349.12" y1="849.40" x2="349.12" y2="851.60" stroke="#333" stroke-width="0.6"/>
<text class="A" transform="translate(349.12,851.50) rotate(-90)" font-size="14.2" text-anchor="end" fill="#000" textLength="77.5" lengthAdjust="spacingAndGlyphs" dy="0.34em" stroke="#000" stroke-width="0.35">Birth weight</text>
<line x1="374.38" y1="849.40" x2="374.38" y2="851.60" stroke="#333" stroke-width="0.6"/>
<text class="A" transform="translate(374.38,851.50) rotate(-90)" font-size="14.2" text-anchor="end" fill="#000" textLength="103.1" lengthAdjust="spacingAndGlyphs" dy="0.34em" stroke="#000" stroke-width="0.35">Traumatic event</text>
<line x1="399.62" y1="849.40" x2="399.62" y2="851.60" stroke="#333" stroke-width="0.6"/>
<text class="A" transform="translate(399.62,851.50) rotate(-90)" font-size="14.2" text-anchor="end" fill="#000" textLength="143.4" lengthAdjust="spacingAndGlyphs" dy="0.34em" stroke="#000" stroke-width="0.35">Prenatal substance use</text>
<line x1="424.88" y1="849.40" x2="424.88" y2="851.60" stroke="#333" stroke-width="0.6"/>
<text class="A" transform="translate(424.88,851.50) rotate(-90)" font-size="14.2" text-anchor="end" fill="#000" textLength="95.1" lengthAdjust="spacingAndGlyphs" dy="0.34em" stroke="#000" stroke-width="0.35">Sleeping hours</text>
<line x1="450.12" y1="849.40" x2="450.12" y2="851.60" stroke="#333" stroke-width="0.6"/>
<text class="A" transform="translate(450.12,851.50) rotate(-90)" font-size="14.2" text-anchor="end" fill="#000" textLength="165.5" lengthAdjust="spacingAndGlyphs" dy="0.34em" stroke="#000" stroke-width="0.35">Parental psychopathology</text>
<line x1="475.38" y1="849.40" x2="475.38" y2="851.60" stroke="#333" stroke-width="0.6"/>
<text class="A" transform="translate(475.38,851.50) rotate(-90)" font-size="14.2" text-anchor="end" fill="#000" textLength="123.4" lengthAdjust="spacingAndGlyphs" dy="0.34em" stroke="#000" stroke-width="0.35">Prenatal conditions</text>
<line x1="500.62" y1="849.40" x2="500.62" y2="851.60" stroke="#333" stroke-width="0.6"/>
<text class="A" transform="translate(500.62,851.50) rotate(-90)" font-size="14.2" text-anchor="end" fill="#000" textLength="118.9" lengthAdjust="spacingAndGlyphs" dy="0.34em" stroke="#000" stroke-width="0.35">Parental education</text>
<defs><linearGradient id="cb286" x1="0" y1="0" x2="0" y2="1">
<stop offset="0.000" stop-color="#19503e"/>
<stop offset="0.050" stop-color="#1a6150"/>
<stop offset="0.100" stop-color="#1a7563"/>
<stop offset="0.150" stop-color="#318b79"/>
<stop offset="0.200" stop-color="#49a190"/>
<stop offset="0.250" stop-color="#69b8a6"/>
<stop offset="0.300" stop-color="#8bd1be"/>
<stop offset="0.350" stop-color="#acdfd1"/>
<stop offset="0.400" stop-color="#cdece4"/>
<stop offset="0.450" stop-color="#e2f1ed"/>
<stop offset="0.500" stop-color="#f5f6f6"/>
<stop offset="0.550" stop-color="#f4f0dd"/>
<stop offset="0.600" stop-color="#f1ebc3"/>
<stop offset="0.650" stop-color="#e6dca3"/>
<stop offset="0.700" stop-color="#dccd83"/>
<stop offset="0.750" stop-color="#cfb161"/>
<stop offset="0.800" stop-color="#c0933d"/>
<stop offset="0.850" stop-color="#aa782d"/>
<stop offset="0.900" stop-color="#935e1e"/>
<stop offset="0.950" stop-color="#7a4f1d"/>
<stop offset="1.000" stop-color="#63421b"/>
</linearGradient></defs>
<rect x="519.10" y="749.20" width="15.20" height="100.20" fill="url(#cb286)"/>
<text class="S" x="549.00" y="756.50" font-size="13.6" text-anchor="middle" fill="#000">0.5</text>
<text class="S" x="549.00" y="804.50" font-size="13.6" text-anchor="middle" fill="#000">0</text>
<text class="S" x="549.00" y="855.20" font-size="13.6" text-anchor="middle" fill="#000">-0.5</text>
</svg>
</body></html>
